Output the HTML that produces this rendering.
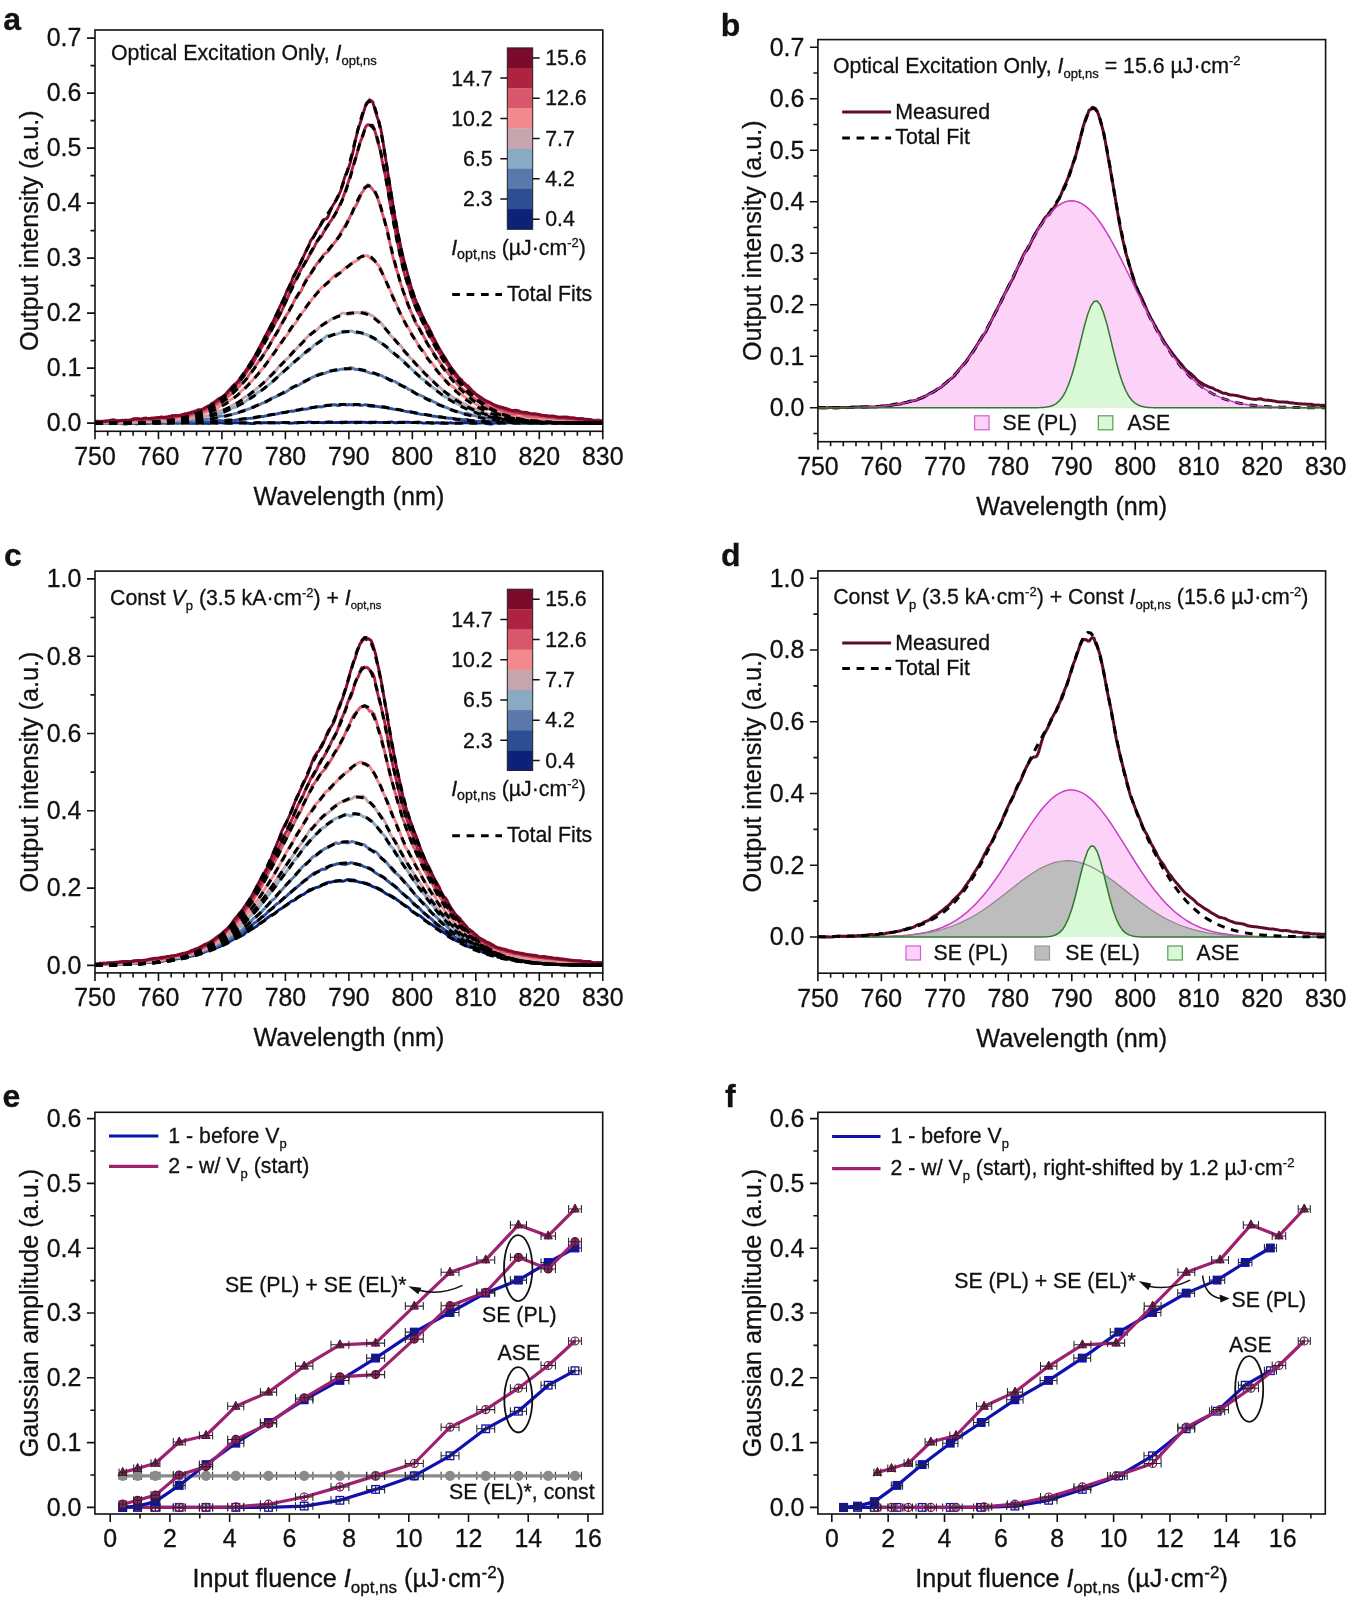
<!DOCTYPE html>
<html><head><meta charset="utf-8"><style>
html,body{margin:0;padding:0;background:#fff;overflow:hidden;}
svg{display:block;will-change:transform;}
text{font-family:"Liberation Sans",sans-serif;fill:#111;stroke:#111;stroke-width:0.3px;}
</style></head><body>
<svg width="1349" height="1599" viewBox="0 0 1349 1599">
<rect width="1349" height="1599" fill="#fff"/>
<defs>
<clipPath id="ca"><rect x="95.00" y="30.00" width="507.80" height="401.30"/></clipPath>
<clipPath id="cb"><rect x="817.90" y="39.60" width="507.70" height="402.10"/></clipPath>
<clipPath id="cc"><rect x="95.00" y="571.10" width="507.80" height="401.80"/></clipPath>
<clipPath id="cd"><rect x="817.90" y="570.90" width="507.70" height="402.30"/></clipPath>
<clipPath id="ce"><rect x="94.90" y="1112.30" width="507.80" height="401.70"/></clipPath>
<clipPath id="cf"><rect x="817.90" y="1112.30" width="507.40" height="401.70"/></clipPath>
</defs>
<text x="3.3" y="29.6" font-size="32" font-weight="bold">a</text>
<g clip-path="url(#ca)" fill="none" stroke-linejoin="round">
<path d="M95.0 423.0L96.6 423.1L98.2 423.3L99.8 423.4L101.3 423.5L102.9 423.3L104.5 423.0L106.1 422.9L107.7 423.1L109.3 423.2L110.9 423.1L112.5 422.9L114.0 423.2L115.6 423.2L117.2 423.1L118.8 423.2L120.4 423.3L122.0 423.8L123.6 423.8L125.1 424.0L126.7 423.7L128.3 423.7L129.9 423.3L131.5 423.2L133.1 423.0L134.7 423.6L136.3 423.7L137.8 423.7L139.4 423.2L141.0 423.4L142.6 423.4L144.2 423.6L145.8 423.5L147.4 423.2L148.9 423.2L150.5 423.0L152.1 423.1L153.7 423.0L155.3 423.1L156.9 423.2L158.5 423.1L160.1 423.3L161.6 423.3L163.2 423.0L164.8 423.1L166.4 423.0L168.0 423.2L169.6 423.0L171.2 422.8L172.8 422.7L174.3 422.8L175.9 423.1L177.5 423.2L179.1 423.0L180.7 422.9L182.3 423.0L183.9 422.8L185.4 422.7L187.0 422.8L188.6 422.9L190.2 423.2L191.8 423.1L193.4 423.3L195.0 423.4L196.6 423.4L198.1 423.0L199.7 422.7L201.3 422.9L202.9 423.2L204.5 423.3L206.1 423.4L207.7 423.4L209.2 423.5L210.8 422.9L212.4 422.7L214.0 422.7L215.6 423.0L217.2 423.2L218.8 422.8L220.4 422.9L221.9 422.9L223.5 423.1L225.1 423.0L226.7 423.0L228.3 423.2L229.9 423.2L231.5 423.3L233.0 422.8L234.6 422.7L236.2 422.6L237.8 422.7L239.4 422.9L241.0 422.7L242.6 422.8L244.2 422.6L245.7 423.0L247.3 423.0L248.9 423.4L250.5 423.5L252.1 423.6L253.7 423.5L255.3 423.0L256.8 422.6L258.4 422.5L260.0 422.7L261.6 423.0L263.2 422.8L264.8 422.7L266.4 422.7L268.0 422.7L269.5 422.6L271.1 422.7L272.7 422.8L274.3 422.9L275.9 422.9L277.5 422.8L279.1 423.0L280.6 422.6L282.2 422.6L283.8 422.4L285.4 422.7L287.0 422.7L288.6 423.1L290.2 423.2L291.8 423.1L293.3 423.1L294.9 422.7L296.5 423.1L298.1 422.5L299.7 422.8L301.3 422.4L302.9 422.5L304.5 422.6L306.0 422.5L307.6 422.2L309.2 421.9L310.8 422.2L312.4 422.5L314.0 422.7L315.6 422.4L317.1 422.5L318.7 422.3L320.3 422.6L321.9 422.6L323.5 422.8L325.1 422.5L326.7 422.4L328.3 421.9L329.8 422.2L331.4 422.3L333.0 422.5L334.6 422.6L336.2 422.5L337.8 422.5L339.4 422.4L340.9 422.7L342.5 422.7L344.1 422.4L345.7 422.2L347.3 422.3L348.9 422.5L350.5 422.1L352.1 422.2L353.6 422.3L355.2 422.7L356.8 422.8L358.4 422.6L360.0 422.5L361.6 422.1L363.2 422.4L364.7 422.3L366.3 422.5L367.9 422.4L369.5 422.7L371.1 422.8L372.7 422.5L374.3 422.4L375.9 422.1L377.4 422.4L379.0 422.4L380.6 422.6L382.2 422.4L383.8 422.4L385.4 422.4L387.0 422.5L388.5 422.2L390.1 422.1L391.7 422.0L393.3 422.4L394.9 422.8L396.5 422.7L398.1 422.4L399.7 422.2L401.2 422.3L402.8 422.3L404.4 422.2L406.0 422.1L407.6 422.3L409.2 422.2L410.8 422.6L412.4 422.4L413.9 422.6L415.5 422.2L417.1 422.1L418.7 421.9L420.3 422.3L421.9 422.9L423.5 423.1L425.0 423.1L426.6 422.8L428.2 422.8L429.8 422.9L431.4 423.3L433.0 423.4L434.6 423.1L436.2 422.8L437.7 422.8L439.3 423.0L440.9 423.3L442.5 423.3L444.1 423.3L445.7 423.4L447.3 423.3L448.8 423.1L450.4 422.7L452.0 423.0L453.6 423.1L455.2 423.4L456.8 423.4L458.4 423.2L460.0 423.2L461.5 423.0L463.1 423.0L464.7 422.5L466.3 422.8L467.9 422.7L469.5 423.1L471.1 422.8L472.6 423.3L474.2 423.3L475.8 423.2L477.4 423.0L479.0 422.9L480.6 423.1L482.2 422.8L483.8 422.9L485.3 423.2L486.9 423.6L488.5 423.9L490.1 424.1L491.7 424.1L493.3 423.5L494.9 422.9L496.4 423.0L498.0 423.4L499.6 423.2L501.2 423.0L502.8 422.8L504.4 423.0L506.0 423.0L507.6 422.9L509.1 422.8L510.7 422.8L512.3 423.1L513.9 423.1L515.5 423.3L517.1 422.9L518.7 423.2L520.2 423.1L521.8 423.3L523.4 423.3L525.0 423.0L526.6 422.7L528.2 422.6L529.8 422.7L531.4 422.9L532.9 423.3L534.5 423.4L536.1 423.5L537.7 423.0L539.3 423.3L540.9 423.3L542.5 423.4L544.1 422.9L545.6 422.8L547.2 422.8L548.8 422.7L550.4 422.9L552.0 423.0L553.6 423.6L555.2 423.2L556.7 423.0L558.3 422.5L559.9 422.6L561.5 422.8L563.1 422.9L564.7 423.1L566.3 423.1L567.9 423.2L569.4 422.8L571.0 422.7L572.6 422.7L574.2 423.1L575.8 423.3L577.4 423.0L579.0 422.8L580.5 422.7L582.1 423.0L583.7 423.3L585.3 423.4L586.9 423.1L588.5 423.0L590.1 423.0L591.7 423.2L593.2 423.2L594.8 423.4L596.4 423.4L598.0 423.6L599.6 423.1L601.2 423.2L602.8 423.0" stroke="#0b2278" stroke-width="2.9"/>
<path d="M95.0 423.2L96.6 423.4L98.2 423.2L99.8 423.1L101.3 422.7L102.9 422.7L104.5 422.5L106.1 422.6L107.7 422.5L109.3 422.5L110.9 422.8L112.5 423.4L114.0 423.3L115.6 422.9L117.2 422.5L118.8 422.7L120.4 423.1L122.0 423.3L123.6 423.1L125.1 423.0L126.7 422.8L128.3 422.8L129.9 422.8L131.5 422.9L133.1 422.9L134.7 422.9L136.3 422.7L137.8 422.4L139.4 422.3L141.0 422.4L142.6 423.0L144.2 423.0L145.8 423.4L147.4 423.3L148.9 423.3L150.5 422.8L152.1 422.5L153.7 423.0L155.3 423.2L156.9 423.3L158.5 422.8L160.1 422.3L161.6 422.1L163.2 422.4L164.8 423.0L166.4 423.0L168.0 422.9L169.6 422.9L171.2 422.8L172.8 423.0L174.3 422.6L175.9 422.4L177.5 421.9L179.1 422.2L180.7 422.3L182.3 422.5L183.9 422.4L185.4 422.6L187.0 422.7L188.6 422.9L190.2 422.7L191.8 422.4L193.4 422.1L195.0 422.0L196.6 422.2L198.1 422.4L199.7 422.5L201.3 422.0L202.9 421.9L204.5 421.6L206.1 421.6L207.7 421.7L209.2 422.0L210.8 421.8L212.4 421.4L214.0 421.5L215.6 421.3L217.2 421.2L218.8 420.5L220.4 420.7L221.9 420.8L223.5 421.1L225.1 420.4L226.7 420.3L228.3 419.7L229.9 420.1L231.5 419.9L233.0 420.4L234.6 420.2L236.2 419.9L237.8 419.6L239.4 419.2L241.0 419.1L242.6 418.9L244.2 419.0L245.7 419.0L247.3 418.6L248.9 418.4L250.5 418.3L252.1 418.1L253.7 418.0L255.3 417.8L256.8 417.6L258.4 417.0L260.0 416.8L261.6 416.5L263.2 416.6L264.8 416.2L266.4 415.8L268.0 415.5L269.5 414.7L271.1 414.8L272.7 414.3L274.3 414.4L275.9 414.1L277.5 413.8L279.1 413.5L280.6 412.9L282.2 412.7L283.8 412.6L285.4 412.5L287.0 412.2L288.6 411.4L290.2 411.3L291.8 411.0L293.3 411.3L294.9 410.7L296.5 410.6L298.1 410.4L299.7 410.2L301.3 409.5L302.9 409.1L304.5 409.1L306.0 409.2L307.6 408.9L309.2 408.3L310.8 408.1L312.4 407.7L314.0 407.4L315.6 407.2L317.1 406.7L318.7 406.8L320.3 406.7L321.9 407.0L323.5 406.2L325.1 405.8L326.7 405.2L328.3 405.5L329.8 405.2L331.4 405.1L333.0 404.6L334.6 404.7L336.2 405.0L337.8 405.5L339.4 405.5L340.9 404.9L342.5 404.4L344.1 404.3L345.7 404.8L347.3 405.0L348.9 404.5L350.5 404.8L352.1 404.6L353.6 405.2L355.2 404.4L356.8 404.8L358.4 404.7L360.0 405.3L361.6 405.4L363.2 405.1L364.7 404.8L366.3 404.8L367.9 405.4L369.5 406.1L371.1 406.3L372.7 406.3L374.3 406.1L375.9 406.2L377.4 406.6L379.0 406.8L380.6 407.0L382.2 406.7L383.8 406.6L385.4 406.8L387.0 407.5L388.5 408.2L390.1 408.5L391.7 408.8L393.3 409.1L394.9 409.4L396.5 409.4L398.1 409.7L399.7 409.7L401.2 410.2L402.8 410.6L404.4 411.1L406.0 411.4L407.6 411.7L409.2 411.7L410.8 412.0L412.4 412.4L413.9 412.8L415.5 413.3L417.1 413.5L418.7 413.8L420.3 414.2L421.9 414.4L423.5 414.6L425.0 414.5L426.6 414.8L428.2 415.2L429.8 415.6L431.4 415.9L433.0 416.2L434.6 416.2L436.2 416.6L437.7 416.7L439.3 417.0L440.9 417.0L442.5 417.3L444.1 417.5L445.7 418.0L447.3 418.0L448.8 418.3L450.4 418.1L452.0 418.3L453.6 418.7L455.2 419.0L456.8 419.1L458.4 419.1L460.0 419.1L461.5 419.7L463.1 419.8L464.7 419.8L466.3 419.5L467.9 419.7L469.5 420.3L471.1 420.4L472.6 420.6L474.2 420.9L475.8 421.1L477.4 421.5L479.0 421.4L480.6 421.7L482.2 421.2L483.8 421.1L485.3 421.1L486.9 421.1L488.5 420.8L490.1 420.9L491.7 421.3L493.3 421.9L494.9 422.1L496.4 422.0L498.0 421.8L499.6 421.7L501.2 421.6L502.8 421.9L504.4 422.0L506.0 422.1L507.6 421.9L509.1 421.7L510.7 421.8L512.3 422.0L513.9 422.1L515.5 422.4L517.1 422.7L518.7 422.7L520.2 422.5L521.8 422.2L523.4 422.6L525.0 422.7L526.6 422.9L528.2 422.8L529.8 423.1L531.4 423.1L532.9 422.8L534.5 422.3L536.1 422.4L537.7 422.6L539.3 422.5L540.9 422.9L542.5 423.0L544.1 423.0L545.6 422.4L547.2 422.1L548.8 422.0L550.4 422.1L552.0 422.3L553.6 422.4L555.2 422.6L556.7 422.7L558.3 422.7L559.9 422.2L561.5 422.2L563.1 422.4L564.7 422.8L566.3 422.5L567.9 422.5L569.4 422.3L571.0 422.7L572.6 422.7L574.2 423.1L575.8 422.8L577.4 422.5L579.0 422.8L580.5 423.1L582.1 423.2L583.7 423.1L585.3 423.2L586.9 423.1L588.5 422.9L590.1 422.5L591.7 422.8L593.2 422.7L594.8 422.9L596.4 422.6L598.0 423.0L599.6 423.1L601.2 423.2L602.8 423.2" stroke="#2e4e94" stroke-width="2.9"/>
<path d="M95.0 422.8L96.6 422.5L98.2 422.5L99.8 422.7L101.3 423.0L102.9 422.9L104.5 422.8L106.1 423.1L107.7 423.5L109.3 423.2L110.9 423.0L112.5 422.7L114.0 422.8L115.6 422.5L117.2 422.5L118.8 422.5L120.4 422.7L122.0 422.7L123.6 423.0L125.1 422.6L126.7 422.5L128.3 422.4L129.9 422.7L131.5 422.7L133.1 422.4L134.7 422.6L136.3 422.8L137.8 422.9L139.4 422.2L141.0 421.8L142.6 421.7L144.2 422.0L145.8 421.8L147.4 421.8L148.9 421.9L150.5 422.1L152.1 421.9L153.7 421.7L155.3 422.0L156.9 421.7L158.5 421.5L160.1 421.2L161.6 421.4L163.2 422.1L164.8 422.0L166.4 422.1L168.0 421.6L169.6 421.6L171.2 421.6L172.8 421.9L174.3 421.9L175.9 421.9L177.5 421.6L179.1 421.7L180.7 421.6L182.3 421.8L183.9 421.4L185.4 421.2L187.0 420.5L188.6 420.2L190.2 420.2L191.8 420.6L193.4 421.0L195.0 421.1L196.6 420.7L198.1 420.4L199.7 420.4L201.3 420.1L202.9 420.2L204.5 419.6L206.1 419.5L207.7 419.1L209.2 418.9L210.8 418.8L212.4 418.6L214.0 418.6L215.6 418.3L217.2 417.5L218.8 416.5L220.4 416.0L221.9 415.9L223.5 416.1L225.1 415.7L226.7 415.5L228.3 415.0L229.9 414.9L231.5 414.5L233.0 414.1L234.6 413.6L236.2 413.4L237.8 412.9L239.4 412.0L241.0 411.3L242.6 410.7L244.2 410.5L245.7 409.8L247.3 409.4L248.9 409.0L250.5 408.3L252.1 407.4L253.7 406.7L255.3 405.9L256.8 405.4L258.4 404.7L260.0 404.5L261.6 403.3L263.2 403.0L264.8 402.3L266.4 402.0L268.0 400.7L269.5 399.6L271.1 398.3L272.7 398.0L274.3 397.2L275.9 396.8L277.5 395.7L279.1 394.9L280.6 394.3L282.2 393.7L283.8 393.1L285.4 392.4L287.0 391.2L288.6 390.2L290.2 388.9L291.8 387.4L293.3 386.7L294.9 386.3L296.5 386.1L298.1 385.5L299.7 384.5L301.3 383.4L302.9 382.5L304.5 381.9L306.0 381.1L307.6 380.2L309.2 378.8L310.8 378.2L312.4 377.3L314.0 376.7L315.6 375.7L317.1 375.1L318.7 374.3L320.3 374.0L321.9 373.9L323.5 373.5L325.1 373.2L326.7 372.2L328.3 372.1L329.8 371.1L331.4 370.7L333.0 370.3L334.6 370.9L336.2 370.7L337.8 370.1L339.4 369.6L340.9 369.3L342.5 369.3L344.1 368.8L345.7 369.0L347.3 368.7L348.9 368.6L350.5 367.6L352.1 368.0L353.6 368.5L355.2 369.6L356.8 369.3L358.4 369.7L360.0 369.8L361.6 370.3L363.2 370.6L364.7 371.0L366.3 371.5L367.9 372.2L369.5 372.8L371.1 373.3L372.7 373.1L374.3 373.3L375.9 374.2L377.4 375.0L379.0 375.3L380.6 375.3L382.2 375.8L383.8 377.0L385.4 377.7L387.0 378.5L388.5 379.3L390.1 380.5L391.7 380.7L393.3 381.1L394.9 381.4L396.5 382.7L398.1 383.3L399.7 384.6L401.2 385.4L402.8 385.8L404.4 386.3L406.0 387.2L407.6 388.7L409.2 389.7L410.8 390.1L412.4 391.1L413.9 392.5L415.5 393.7L417.1 394.4L418.7 394.8L420.3 395.2L421.9 396.0L423.5 396.6L425.0 398.0L426.6 398.7L428.2 399.2L429.8 399.5L431.4 400.4L433.0 401.6L434.6 402.1L436.2 403.1L437.7 403.9L439.3 404.9L440.9 405.2L442.5 405.9L444.1 406.6L445.7 407.4L447.3 407.9L448.8 408.6L450.4 409.4L452.0 410.0L453.6 410.3L455.2 410.8L456.8 411.4L458.4 411.9L460.0 412.4L461.5 412.8L463.1 413.6L464.7 413.5L466.3 413.5L467.9 413.3L469.5 414.0L471.1 414.6L472.6 415.4L474.2 415.6L475.8 415.8L477.4 416.4L479.0 416.5L480.6 417.1L482.2 416.8L483.8 417.3L485.3 417.6L486.9 418.1L488.5 418.2L490.1 418.3L491.7 418.4L493.3 418.8L494.9 419.4L496.4 419.5L498.0 419.5L499.6 419.2L501.2 419.5L502.8 419.6L504.4 419.8L506.0 420.1L507.6 420.4L509.1 420.2L510.7 420.4L512.3 420.3L513.9 420.7L515.5 420.7L517.1 420.8L518.7 420.8L520.2 420.9L521.8 421.3L523.4 421.1L525.0 420.7L526.6 420.8L528.2 421.0L529.8 421.1L531.4 421.2L532.9 421.3L534.5 421.5L536.1 421.5L537.7 421.7L539.3 421.7L540.9 421.6L542.5 421.7L544.1 421.8L545.6 421.7L547.2 421.6L548.8 421.4L550.4 421.4L552.0 421.3L553.6 421.1L555.2 421.5L556.7 421.5L558.3 422.0L559.9 421.6L561.5 421.4L563.1 421.8L564.7 422.3L566.3 422.5L567.9 422.1L569.4 421.8L571.0 421.9L572.6 422.0L574.2 422.1L575.8 422.1L577.4 422.0L579.0 422.6L580.5 422.5L582.1 422.9L583.7 422.3L585.3 422.5L586.9 422.5L588.5 422.6L590.1 422.8L591.7 422.8L593.2 423.2L594.8 423.1L596.4 422.8L598.0 422.4L599.6 422.4L601.2 422.3L602.8 422.5" stroke="#5b78ab" stroke-width="2.9"/>
<path d="M95.0 422.8L96.6 422.7L98.2 422.6L99.8 422.3L101.3 422.2L102.9 421.8L104.5 422.0L106.1 422.1L107.7 422.5L109.3 422.6L110.9 422.4L112.5 422.3L114.0 422.4L115.6 422.7L117.2 422.7L118.8 423.1L120.4 422.6L122.0 422.7L123.6 422.4L125.1 422.5L126.7 422.3L128.3 422.3L129.9 422.6L131.5 422.8L133.1 422.9L134.7 422.7L136.3 422.2L137.8 422.0L139.4 421.6L141.0 422.1L142.6 421.8L144.2 422.0L145.8 421.7L147.4 421.6L148.9 421.2L150.5 421.1L152.1 421.1L153.7 421.6L155.3 421.5L156.9 421.5L158.5 421.1L160.1 421.2L161.6 420.7L163.2 421.2L164.8 421.2L166.4 421.2L168.0 420.9L169.6 420.9L171.2 421.0L172.8 421.1L174.3 420.8L175.9 420.2L177.5 419.7L179.1 419.8L180.7 420.3L182.3 420.4L183.9 419.9L185.4 419.7L187.0 419.6L188.6 419.5L190.2 419.0L191.8 418.7L193.4 418.9L195.0 419.1L196.6 419.0L198.1 418.9L199.7 418.2L201.3 418.0L202.9 417.1L204.5 416.6L206.1 415.9L207.7 415.9L209.2 415.7L210.8 415.4L212.4 414.9L214.0 414.8L215.6 414.6L217.2 414.3L218.8 413.4L220.4 413.3L221.9 412.7L223.5 412.5L225.1 411.5L226.7 410.6L228.3 409.9L229.9 409.2L231.5 408.3L233.0 408.1L234.6 407.3L236.2 407.0L237.8 405.7L239.4 404.8L241.0 404.0L242.6 403.3L244.2 402.3L245.7 401.0L247.3 400.1L248.9 398.8L250.5 397.3L252.1 396.4L253.7 395.8L255.3 394.6L256.8 393.0L258.4 391.8L260.0 391.3L261.6 390.4L263.2 389.3L264.8 388.1L266.4 386.5L268.0 385.3L269.5 384.0L271.1 383.1L272.7 381.7L274.3 380.5L275.9 378.8L277.5 377.1L279.1 375.4L280.6 373.8L282.2 372.5L283.8 371.2L285.4 369.9L287.0 368.7L288.6 367.0L290.2 365.9L291.8 363.9L293.3 362.7L294.9 361.2L296.5 360.4L298.1 359.2L299.7 357.5L301.3 356.2L302.9 354.3L304.5 353.2L306.0 352.4L307.6 351.7L309.2 350.9L310.8 348.9L312.4 347.1L314.0 345.1L315.6 344.4L317.1 343.9L318.7 342.4L320.3 340.8L321.9 339.6L323.5 338.9L325.1 337.3L326.7 336.0L328.3 335.5L329.8 335.5L331.4 335.0L333.0 334.7L334.6 334.6L336.2 334.3L337.8 333.9L339.4 333.1L340.9 332.8L342.5 331.2L344.1 331.3L345.7 331.2L347.3 331.9L348.9 331.4L350.5 330.9L352.1 331.1L353.6 331.6L355.2 332.8L356.8 333.1L358.4 332.9L360.0 332.6L361.6 333.0L363.2 333.8L364.7 334.3L366.3 334.4L367.9 335.1L369.5 335.9L371.1 337.5L372.7 338.5L374.3 338.8L375.9 339.8L377.4 340.5L379.0 342.1L380.6 342.6L382.2 343.9L383.8 345.2L385.4 346.3L387.0 347.3L388.5 349.2L390.1 350.6L391.7 352.2L393.3 353.1L394.9 354.4L396.5 355.3L398.1 356.3L399.7 357.9L401.2 359.3L402.8 360.6L404.4 361.6L406.0 362.9L407.6 364.8L409.2 366.6L410.8 368.2L412.4 370.0L413.9 371.4L415.5 373.2L417.1 374.3L418.7 376.3L420.3 377.7L421.9 379.0L423.5 379.7L425.0 380.5L426.6 381.9L428.2 383.5L429.8 385.3L431.4 386.4L433.0 387.7L434.6 388.6L436.2 389.4L437.7 390.6L439.3 392.2L440.9 394.0L442.5 395.5L444.1 396.5L445.7 397.0L447.3 397.6L448.8 398.7L450.4 399.8L452.0 400.5L453.6 401.2L455.2 402.4L456.8 403.6L458.4 404.3L460.0 404.8L461.5 405.2L463.1 405.8L464.7 406.4L466.3 407.0L467.9 407.8L469.5 409.0L471.1 410.0L472.6 410.6L474.2 411.0L475.8 411.3L477.4 411.9L479.0 412.5L480.6 412.9L482.2 413.1L483.8 413.3L485.3 413.9L486.9 414.2L488.5 414.5L490.1 415.5L491.7 416.2L493.3 416.7L494.9 416.7L496.4 416.8L498.0 416.7L499.6 416.9L501.2 417.4L502.8 417.5L504.4 417.7L506.0 417.9L507.6 418.4L509.1 418.4L510.7 418.5L512.3 418.6L513.9 418.9L515.5 419.1L517.1 419.3L518.7 419.2L520.2 419.3L521.8 419.4L523.4 419.7L525.0 419.1L526.6 419.4L528.2 419.2L529.8 419.9L531.4 419.8L532.9 420.0L534.5 420.0L536.1 419.8L537.7 419.9L539.3 420.3L540.9 420.7L542.5 420.7L544.1 420.6L545.6 420.3L547.2 420.3L548.8 420.3L550.4 420.4L552.0 420.5L553.6 421.0L555.2 421.5L556.7 421.9L558.3 421.4L559.9 421.4L561.5 420.9L563.1 421.2L564.7 420.8L566.3 420.8L567.9 421.0L569.4 421.4L571.0 421.6L572.6 421.6L574.2 421.8L575.8 421.8L577.4 421.6L579.0 421.9L580.5 421.9L582.1 422.4L583.7 422.1L585.3 422.0L586.9 421.9L588.5 421.8L590.1 422.3L591.7 422.1L593.2 422.4L594.8 422.0L596.4 422.3L598.0 422.7L599.6 422.9L601.2 423.0L602.8 422.2" stroke="#88aac2" stroke-width="2.9"/>
<path d="M95.0 422.3L96.6 422.4L98.2 422.4L99.8 422.7L101.3 422.5L102.9 422.7L104.5 422.3L106.1 422.1L107.7 422.1L109.3 422.3L110.9 422.6L112.5 422.6L114.0 422.6L115.6 422.6L117.2 422.8L118.8 422.7L120.4 422.7L122.0 422.7L123.6 422.9L125.1 422.5L126.7 422.1L128.3 421.4L129.9 421.7L131.5 421.8L133.1 422.0L134.7 421.7L136.3 421.6L137.8 421.4L139.4 421.4L141.0 421.5L142.6 422.0L144.2 421.9L145.8 421.5L147.4 421.5L148.9 421.7L150.5 421.6L152.1 421.2L153.7 421.1L155.3 421.0L156.9 420.9L158.5 421.1L160.1 421.2L161.6 421.1L163.2 420.8L164.8 421.1L166.4 421.1L168.0 420.8L169.6 420.0L171.2 420.3L172.8 419.8L174.3 420.2L175.9 419.5L177.5 419.6L179.1 419.1L180.7 419.1L182.3 419.4L183.9 419.3L185.4 419.3L187.0 419.4L188.6 418.7L190.2 418.2L191.8 417.2L193.4 417.7L195.0 417.3L196.6 417.0L198.1 416.3L199.7 416.2L201.3 416.5L202.9 416.5L204.5 416.5L206.1 416.2L207.7 415.8L209.2 415.1L210.8 414.4L212.4 413.9L214.0 412.9L215.6 412.0L217.2 411.5L218.8 411.0L220.4 410.9L221.9 410.3L223.5 409.7L225.1 409.1L226.7 408.4L228.3 408.1L229.9 407.0L231.5 405.8L233.0 404.9L234.6 404.0L236.2 403.6L237.8 402.8L239.4 402.1L241.0 400.6L242.6 398.8L244.2 397.3L245.7 396.7L247.3 395.9L248.9 395.0L250.5 393.4L252.1 392.2L253.7 390.8L255.3 389.6L256.8 388.5L258.4 387.3L260.0 386.5L261.6 385.0L263.2 383.9L264.8 382.0L266.4 380.6L268.0 378.7L269.5 377.0L271.1 375.5L272.7 374.2L274.3 373.0L275.9 370.7L277.5 368.4L279.1 366.2L280.6 364.8L282.2 363.2L283.8 362.2L285.4 360.0L287.0 358.9L288.6 357.6L290.2 355.6L291.8 353.2L293.3 350.9L294.9 350.0L296.5 348.9L298.1 346.9L299.7 345.8L301.3 344.4L302.9 342.6L304.5 340.5L306.0 338.2L307.6 336.8L309.2 334.6L310.8 333.8L312.4 332.3L314.0 332.5L315.6 331.3L317.1 329.6L318.7 328.0L320.3 326.1L321.9 325.5L323.5 324.4L325.1 323.7L326.7 322.9L328.3 321.7L329.8 320.4L331.4 319.1L333.0 318.3L334.6 318.2L336.2 317.7L337.8 316.8L339.4 315.5L340.9 314.0L342.5 313.1L344.1 313.1L345.7 313.8L347.3 314.1L348.9 314.1L350.5 314.2L352.1 313.8L353.6 313.4L355.2 312.6L356.8 312.5L358.4 312.5L360.0 313.4L361.6 312.7L363.2 312.7L364.7 311.9L366.3 312.8L367.9 313.0L369.5 314.5L371.1 315.4L372.7 315.9L374.3 317.4L375.9 318.4L377.4 320.1L379.0 320.9L380.6 322.6L382.2 324.3L383.8 326.4L385.4 328.3L387.0 330.9L388.5 332.7L390.1 334.9L391.7 336.6L393.3 338.1L394.9 339.7L396.5 342.0L398.1 343.3L399.7 344.9L401.2 346.1L402.8 348.7L404.4 351.0L406.0 352.9L407.6 354.4L409.2 356.7L410.8 358.4L412.4 359.4L413.9 361.2L415.5 362.8L417.1 365.3L418.7 366.5L420.3 368.0L421.9 370.1L423.5 371.7L425.0 373.3L426.6 374.6L428.2 376.3L429.8 378.2L431.4 379.8L433.0 380.7L434.6 382.5L436.2 383.5L437.7 385.7L439.3 386.6L440.9 388.2L442.5 389.9L444.1 391.3L445.7 392.8L447.3 393.5L448.8 394.3L450.4 395.4L452.0 396.7L453.6 397.8L455.2 398.6L456.8 399.0L458.4 400.2L460.0 401.4L461.5 402.7L463.1 403.3L464.7 403.8L466.3 404.6L467.9 405.6L469.5 406.6L471.1 407.5L472.6 407.7L474.2 408.4L475.8 409.1L477.4 410.3L479.0 410.7L480.6 410.9L482.2 411.3L483.8 412.1L485.3 412.7L486.9 413.5L488.5 414.1L490.1 414.3L491.7 414.5L493.3 414.5L494.9 414.8L496.4 414.9L498.0 415.3L499.6 415.4L501.2 415.7L502.8 416.0L504.4 416.5L506.0 416.8L507.6 417.1L509.1 417.5L510.7 417.8L512.3 418.2L513.9 418.4L515.5 418.6L517.1 418.5L518.7 418.9L520.2 419.1L521.8 419.2L523.4 418.9L525.0 419.2L526.6 419.2L528.2 419.6L529.8 419.5L531.4 419.5L532.9 419.5L534.5 419.6L536.1 419.8L537.7 419.8L539.3 419.9L540.9 420.1L542.5 419.9L544.1 420.3L545.6 420.6L547.2 421.1L548.8 420.9L550.4 421.0L552.0 421.1L553.6 420.9L555.2 420.9L556.7 420.8L558.3 420.9L559.9 420.9L561.5 421.0L563.1 420.8L564.7 420.7L566.3 420.9L567.9 421.3L569.4 421.5L571.0 421.4L572.6 421.3L574.2 421.4L575.8 421.5L577.4 421.5L579.0 421.5L580.5 421.5L582.1 421.9L583.7 422.1L585.3 422.2L586.9 421.7L588.5 421.7L590.1 421.7L591.7 422.3L593.2 422.3L594.8 422.1L596.4 422.0L598.0 421.6L599.6 421.8L601.2 421.6L602.8 421.9" stroke="#c7a5ae" stroke-width="2.9"/>
<path d="M95.0 422.5L96.6 422.6L98.2 422.6L99.8 422.3L101.3 422.2L102.9 422.3L104.5 422.4L106.1 422.3L107.7 421.9L109.3 421.9L110.9 421.6L112.5 421.6L114.0 421.4L115.6 421.5L117.2 421.9L118.8 422.1L120.4 422.4L122.0 422.1L123.6 421.8L125.1 421.6L126.7 421.5L128.3 421.8L129.9 421.5L131.5 421.7L133.1 421.4L134.7 421.5L136.3 421.4L137.8 421.5L139.4 421.5L141.0 421.2L142.6 420.8L144.2 420.5L145.8 420.6L147.4 420.7L148.9 421.0L150.5 420.6L152.1 420.8L153.7 420.3L155.3 420.4L156.9 420.1L158.5 420.1L160.1 419.8L161.6 419.5L163.2 419.2L164.8 419.3L166.4 419.0L168.0 418.8L169.6 418.7L171.2 418.6L172.8 418.6L174.3 418.4L175.9 418.7L177.5 418.6L179.1 418.3L180.7 418.2L182.3 417.8L183.9 417.7L185.4 417.1L187.0 417.4L188.6 417.2L190.2 416.9L191.8 416.3L193.4 415.9L195.0 416.1L196.6 415.5L198.1 415.2L199.7 414.2L201.3 414.2L202.9 413.5L204.5 413.2L206.1 412.2L207.7 411.9L209.2 411.4L210.8 410.5L212.4 409.9L214.0 409.2L215.6 409.0L217.2 408.3L218.8 407.1L220.4 405.8L221.9 404.9L223.5 404.6L225.1 403.8L226.7 402.4L228.3 400.8L229.9 399.8L231.5 399.1L233.0 398.2L234.6 397.6L236.2 396.4L237.8 394.9L239.4 393.4L241.0 391.1L242.6 389.9L244.2 388.4L245.7 387.2L247.3 385.2L248.9 383.3L250.5 382.2L252.1 380.9L253.7 378.9L255.3 376.9L256.8 375.3L258.4 373.6L260.0 371.5L261.6 369.6L263.2 368.0L264.8 366.3L266.4 363.8L268.0 361.5L269.5 358.8L271.1 356.5L272.7 354.8L274.3 352.8L275.9 350.5L277.5 347.6L279.1 345.1L280.6 343.3L282.2 341.4L283.8 339.1L285.4 337.0L287.0 335.1L288.6 332.7L290.2 330.2L291.8 327.2L293.3 325.8L294.9 323.7L296.5 321.8L298.1 319.1L299.7 316.1L301.3 314.4L302.9 311.7L304.5 310.2L306.0 307.5L307.6 305.4L309.2 302.9L310.8 301.1L312.4 298.6L314.0 297.1L315.6 294.4L317.1 293.3L318.7 290.6L320.3 289.2L321.9 287.2L323.5 286.6L325.1 284.3L326.7 283.7L328.3 282.1L329.8 280.4L331.4 278.6L333.0 277.1L334.6 275.6L336.2 274.4L337.8 273.6L339.4 273.1L340.9 272.7L342.5 270.5L344.1 269.0L345.7 267.4L347.3 267.0L348.9 266.2L350.5 264.6L352.1 263.4L353.6 261.9L355.2 261.7L356.8 260.3L358.4 259.7L360.0 257.8L361.6 256.6L363.2 256.5L364.7 255.7L366.3 255.9L367.9 255.8L369.5 257.4L371.1 258.9L372.7 259.6L374.3 261.0L375.9 262.4L377.4 264.3L379.0 265.9L380.6 268.1L382.2 271.9L383.8 276.2L385.4 280.0L387.0 283.3L388.5 285.9L390.1 290.1L391.7 293.4L393.3 297.2L394.9 300.5L396.5 304.3L398.1 308.0L399.7 311.5L401.2 314.9L402.8 317.8L404.4 321.2L406.0 323.5L407.6 326.8L409.2 329.0L410.8 332.4L412.4 335.1L413.9 337.3L415.5 339.9L417.1 342.7L418.7 346.0L420.3 348.3L421.9 349.5L423.5 351.5L425.0 353.3L426.6 356.6L428.2 358.7L429.8 360.9L431.4 362.1L433.0 364.5L434.6 366.5L436.2 368.9L437.7 371.0L439.3 373.0L440.9 375.0L442.5 377.2L444.1 378.8L445.7 380.3L447.3 381.4L448.8 383.6L450.4 384.9L452.0 386.2L453.6 387.1L455.2 388.6L456.8 390.2L458.4 391.6L460.0 393.3L461.5 394.4L463.1 395.9L464.7 397.0L466.3 397.8L467.9 398.8L469.5 399.9L471.1 401.2L472.6 402.1L474.2 403.2L475.8 404.1L477.4 405.0L479.0 405.7L480.6 406.4L482.2 407.3L483.8 407.4L485.3 407.8L486.9 408.2L488.5 409.2L490.1 409.6L491.7 410.1L493.3 410.7L494.9 411.5L496.4 412.0L498.0 412.1L499.6 412.6L501.2 412.6L502.8 413.4L504.4 413.6L506.0 414.6L507.6 414.4L509.1 414.9L510.7 414.9L512.3 415.4L513.9 415.3L515.5 415.8L517.1 416.2L518.7 416.9L520.2 416.9L521.8 417.0L523.4 417.0L525.0 417.3L526.6 417.6L528.2 417.8L529.8 417.7L531.4 417.5L532.9 417.9L534.5 418.1L536.1 418.6L537.7 418.3L539.3 418.6L540.9 418.6L542.5 419.0L544.1 418.8L545.6 418.9L547.2 418.8L548.8 419.0L550.4 419.2L552.0 419.5L553.6 419.6L555.2 419.6L556.7 419.4L558.3 419.5L559.9 419.4L561.5 419.6L563.1 420.1L564.7 420.1L566.3 419.7L567.9 419.8L569.4 420.4L571.0 420.9L572.6 420.9L574.2 421.1L575.8 421.0L577.4 421.3L579.0 421.3L580.5 421.2L582.1 421.2L583.7 421.0L585.3 421.2L586.9 421.0L588.5 421.1L590.1 421.3L591.7 421.6L593.2 421.3L594.8 421.3L596.4 421.4L598.0 421.8L599.6 421.8L601.2 421.6L602.8 421.3" stroke="#f28a8d" stroke-width="2.9"/>
<path d="M95.0 422.4L96.6 422.4L98.2 422.1L99.8 421.9L101.3 421.9L102.9 421.8L104.5 421.8L106.1 421.7L107.7 422.0L109.3 422.0L110.9 421.7L112.5 421.7L114.0 421.5L115.6 421.4L117.2 421.1L118.8 420.9L120.4 421.2L122.0 420.8L123.6 420.6L125.1 420.2L126.7 420.7L128.3 421.0L129.9 420.8L131.5 420.1L133.1 419.8L134.7 419.7L136.3 420.0L137.8 420.0L139.4 420.2L141.0 419.9L142.6 420.0L144.2 419.8L145.8 419.5L147.4 419.4L148.9 419.7L150.5 419.8L152.1 419.6L153.7 419.7L155.3 419.5L156.9 419.2L158.5 418.8L160.1 418.4L161.6 418.3L163.2 418.2L164.8 418.5L166.4 418.6L168.0 418.4L169.6 418.2L171.2 418.0L172.8 417.7L174.3 417.3L175.9 416.8L177.5 416.4L179.1 416.4L180.7 416.2L182.3 415.8L183.9 415.7L185.4 415.1L187.0 415.3L188.6 415.0L190.2 415.3L191.8 414.8L193.4 414.2L195.0 413.3L196.6 412.9L198.1 412.5L199.7 412.4L201.3 411.8L202.9 411.5L204.5 410.8L206.1 410.4L207.7 409.5L209.2 408.8L210.8 407.8L212.4 407.3L214.0 406.8L215.6 405.3L217.2 404.5L218.8 402.9L220.4 402.2L221.9 400.9L223.5 400.4L225.1 399.2L226.7 397.5L228.3 396.2L229.9 395.2L231.5 394.0L233.0 392.3L234.6 390.3L236.2 389.1L237.8 387.5L239.4 386.7L241.0 384.3L242.6 382.9L244.2 381.4L245.7 380.1L247.3 378.0L248.9 374.9L250.5 373.0L252.1 370.8L253.7 369.1L255.3 366.3L256.8 364.1L258.4 361.7L260.0 359.6L261.6 357.3L263.2 355.2L264.8 352.8L266.4 350.5L268.0 347.6L269.5 345.4L271.1 342.1L272.7 339.5L274.3 336.3L275.9 334.2L277.5 331.9L279.1 328.9L280.6 325.5L282.2 322.5L283.8 319.4L285.4 317.0L287.0 314.2L288.6 312.4L290.2 309.0L291.8 306.1L293.3 302.8L294.9 299.8L296.5 296.7L298.1 295.0L299.7 292.7L301.3 290.9L302.9 286.5L304.5 282.7L306.0 279.6L307.6 277.5L309.2 276.3L310.8 273.4L312.4 270.7L314.0 267.6L315.6 265.9L317.1 263.2L318.7 262.2L320.3 259.4L321.9 257.6L323.5 254.7L325.1 253.4L326.7 252.5L328.3 251.2L329.8 248.9L331.4 246.0L333.0 244.6L334.6 242.4L336.2 240.7L337.8 237.6L339.4 235.4L340.9 232.5L342.5 230.0L344.1 227.1L345.7 224.8L347.3 221.0L348.9 219.4L350.5 215.6L352.1 213.4L353.6 208.8L355.2 206.6L356.8 204.1L358.4 200.7L360.0 197.3L361.6 192.9L363.2 191.1L364.7 187.7L366.3 186.4L367.9 184.8L369.5 186.1L371.1 187.5L372.7 189.5L374.3 191.7L375.9 194.1L377.4 197.2L379.0 202.2L380.6 207.3L382.2 213.2L383.8 218.2L385.4 223.2L387.0 228.8L388.5 235.6L390.1 244.1L391.7 251.7L393.3 258.8L394.9 263.8L396.5 269.5L398.1 274.4L399.7 280.5L401.2 285.3L402.8 289.6L404.4 294.3L406.0 298.9L407.6 304.0L409.2 307.2L410.8 311.3L412.4 315.0L413.9 319.3L415.5 322.7L417.1 325.2L418.7 326.8L420.3 329.6L421.9 332.4L423.5 336.0L425.0 338.9L426.6 342.0L428.2 344.8L429.8 347.3L431.4 349.1L433.0 352.2L434.6 354.3L436.2 357.2L437.7 359.1L439.3 361.5L440.9 363.6L442.5 365.6L444.1 367.6L445.7 369.8L447.3 372.4L448.8 374.1L450.4 375.6L452.0 376.6L453.6 378.6L455.2 381.3L456.8 383.3L458.4 385.4L460.0 386.7L461.5 388.0L463.1 389.5L464.7 390.8L466.3 392.8L467.9 393.9L469.5 395.1L471.1 396.0L472.6 397.3L474.2 398.0L475.8 399.2L477.4 400.3L479.0 401.8L480.6 402.2L482.2 402.4L483.8 403.0L485.3 404.2L486.9 405.5L488.5 406.0L490.1 406.7L491.7 407.0L493.3 407.5L494.9 407.9L496.4 408.6L498.0 409.3L499.6 409.4L501.2 410.3L502.8 410.6L504.4 411.4L506.0 411.7L507.6 412.3L509.1 412.6L510.7 413.0L512.3 413.6L513.9 414.1L515.5 413.9L517.1 413.5L518.7 413.4L520.2 413.7L521.8 414.4L523.4 414.8L525.0 415.2L526.6 415.5L528.2 415.8L529.8 416.0L531.4 416.1L532.9 416.3L534.5 416.4L536.1 416.5L537.7 416.3L539.3 416.5L540.9 416.7L542.5 417.0L544.1 417.2L545.6 417.4L547.2 417.6L548.8 417.6L550.4 417.5L552.0 417.3L553.6 417.9L555.2 418.2L556.7 418.6L558.3 418.4L559.9 418.6L561.5 418.7L563.1 418.7L564.7 418.7L566.3 419.0L567.9 419.0L569.4 419.0L571.0 419.0L572.6 419.2L574.2 419.6L575.8 419.4L577.4 419.7L579.0 419.9L580.5 420.3L582.1 420.5L583.7 420.4L585.3 420.4L586.9 420.4L588.5 420.6L590.1 421.4L591.7 421.5L593.2 421.8L594.8 421.2L596.4 421.1L598.0 420.8L599.6 421.0L601.2 421.3L602.8 421.5" stroke="#d9576a" stroke-width="2.9"/>
<path d="M95.0 421.9L96.6 421.9L98.2 421.6L99.8 421.4L101.3 421.3L102.9 421.2L104.5 420.9L106.1 420.7L107.7 420.9L109.3 420.6L110.9 420.6L112.5 420.3L114.0 420.7L115.6 420.9L117.2 421.2L118.8 421.0L120.4 420.5L122.0 420.2L123.6 420.4L125.1 420.7L126.7 420.6L128.3 420.6L129.9 420.0L131.5 419.7L133.1 418.8L134.7 418.7L136.3 418.9L137.8 419.5L139.4 420.2L141.0 420.1L142.6 419.8L144.2 418.9L145.8 418.6L147.4 418.4L148.9 418.4L150.5 418.3L152.1 418.0L153.7 418.1L155.3 418.2L156.9 418.6L158.5 418.0L160.1 417.5L161.6 417.0L163.2 417.4L164.8 417.4L166.4 417.5L168.0 417.1L169.6 417.0L171.2 416.6L172.8 416.5L174.3 416.1L175.9 416.0L177.5 415.7L179.1 415.6L180.7 415.5L182.3 415.0L183.9 414.7L185.4 414.3L187.0 414.2L188.6 414.0L190.2 413.5L191.8 413.2L193.4 412.4L195.0 412.0L196.6 411.6L198.1 411.4L199.7 411.0L201.3 410.2L202.9 409.7L204.5 408.7L206.1 407.9L207.7 406.8L209.2 406.3L210.8 405.3L212.4 404.6L214.0 403.6L215.6 402.6L217.2 401.4L218.8 400.4L220.4 399.6L221.9 398.4L223.5 397.0L225.1 395.5L226.7 394.3L228.3 392.8L229.9 390.7L231.5 389.0L233.0 387.5L234.6 386.3L236.2 385.2L237.8 383.4L239.4 381.9L241.0 378.9L242.6 377.0L244.2 375.0L245.7 373.3L247.3 371.0L248.9 368.7L250.5 366.3L252.1 364.4L253.7 361.9L255.3 359.2L256.8 355.5L258.4 352.6L260.0 350.1L261.6 347.6L263.2 344.7L264.8 341.4L266.4 338.5L268.0 335.9L269.5 333.4L271.1 330.7L272.7 327.5L274.3 324.4L275.9 321.7L277.5 319.4L279.1 316.6L280.6 313.9L282.2 309.8L283.8 306.3L285.4 302.9L287.0 299.3L288.6 295.7L290.2 291.6L291.8 287.9L293.3 284.2L294.9 281.5L296.5 278.6L298.1 276.0L299.7 272.1L301.3 269.0L302.9 266.4L304.5 263.9L306.0 261.8L307.6 258.9L309.2 255.7L310.8 253.2L312.4 250.6L314.0 247.6L315.6 244.2L317.1 240.9L318.7 239.7L320.3 237.7L321.9 235.9L323.5 232.4L325.1 230.0L326.7 226.9L328.3 224.7L329.8 222.0L331.4 220.2L333.0 217.4L334.6 215.1L336.2 211.8L337.8 209.0L339.4 205.5L340.9 202.8L342.5 199.1L344.1 194.6L345.7 189.7L347.3 185.1L348.9 180.2L350.5 175.5L352.1 169.4L353.6 164.3L355.2 160.1L356.8 154.3L358.4 148.6L360.0 142.6L361.6 138.9L363.2 135.3L364.7 129.2L366.3 125.9L367.9 124.6L369.5 125.1L371.1 126.2L372.7 125.1L374.3 129.1L375.9 134.4L377.4 140.8L379.0 146.2L380.6 151.8L382.2 161.0L383.8 168.7L385.4 175.9L387.0 184.8L388.5 193.5L390.1 204.2L391.7 210.7L393.3 220.0L394.9 228.5L396.5 237.4L398.1 245.2L399.7 252.8L401.2 260.0L402.8 267.0L404.4 273.7L406.0 278.7L407.6 283.9L409.2 288.3L410.8 293.7L412.4 298.6L413.9 303.1L415.5 307.3L417.1 310.7L418.7 313.7L420.3 316.5L421.9 319.9L423.5 323.0L425.0 326.4L426.6 329.8L428.2 333.0L429.8 336.5L431.4 338.7L433.0 341.4L434.6 343.9L436.2 347.5L437.7 350.3L439.3 353.1L440.9 355.1L442.5 357.6L444.1 360.1L445.7 362.4L447.3 364.5L448.8 366.6L450.4 368.8L452.0 371.2L453.6 373.1L455.2 375.4L456.8 377.5L458.4 379.3L460.0 381.2L461.5 382.3L463.1 383.5L464.7 385.2L466.3 386.7L467.9 388.5L469.5 389.8L471.1 391.4L472.6 392.6L474.2 393.4L475.8 394.7L477.4 396.2L479.0 397.5L480.6 398.7L482.2 399.5L483.8 401.4L485.3 401.9L486.9 402.5L488.5 402.5L490.1 403.3L491.7 403.9L493.3 404.7L494.9 405.4L496.4 406.5L498.0 407.1L499.6 407.7L501.2 408.0L502.8 408.6L504.4 409.2L506.0 409.8L507.6 410.1L509.1 410.5L510.7 410.9L512.3 411.4L513.9 412.0L515.5 411.9L517.1 412.2L518.7 412.2L520.2 412.7L521.8 412.6L523.4 413.1L525.0 413.5L526.6 413.8L528.2 413.7L529.8 414.0L531.4 414.4L532.9 414.6L534.5 414.4L536.1 414.3L537.7 414.8L539.3 415.1L540.9 415.4L542.5 415.3L544.1 415.7L545.6 415.9L547.2 416.3L548.8 416.4L550.4 416.5L552.0 416.7L553.6 416.7L555.2 416.8L556.7 417.2L558.3 417.3L559.9 417.5L561.5 417.3L563.1 417.3L564.7 417.7L566.3 418.2L567.9 418.5L569.4 418.4L571.0 417.8L572.6 417.9L574.2 418.3L575.8 418.7L577.4 419.1L579.0 419.4L580.5 419.2L582.1 419.1L583.7 418.8L585.3 419.3L586.9 419.2L588.5 419.4L590.1 419.4L591.7 420.1L593.2 420.5L594.8 420.6L596.4 420.2L598.0 420.0L599.6 420.3L601.2 420.7L602.8 421.0" stroke="#ae2440" stroke-width="2.9"/>
<path d="M95.0 421.5L96.6 421.3L98.2 421.1L99.8 421.4L101.3 421.4L102.9 421.7L104.5 421.5L106.1 421.4L107.7 421.1L109.3 420.7L110.9 420.1L112.5 419.9L114.0 419.8L115.6 420.4L117.2 420.6L118.8 420.8L120.4 420.6L122.0 420.6L123.6 420.4L125.1 420.3L126.7 420.2L128.3 420.2L129.9 420.3L131.5 419.9L133.1 419.6L134.7 419.0L136.3 418.8L137.8 418.8L139.4 418.7L141.0 419.1L142.6 418.5L144.2 418.3L145.8 417.9L147.4 418.5L148.9 418.5L150.5 418.7L152.1 418.5L153.7 418.3L155.3 417.8L156.9 417.6L158.5 417.5L160.1 417.5L161.6 417.2L163.2 417.4L164.8 417.2L166.4 417.0L168.0 416.9L169.6 416.2L171.2 416.2L172.8 415.4L174.3 415.8L175.9 415.3L177.5 415.7L179.1 415.5L180.7 415.3L182.3 414.6L183.9 414.3L185.4 413.7L187.0 413.7L188.6 413.0L190.2 412.7L191.8 412.0L193.4 411.9L195.0 411.2L196.6 410.7L198.1 409.8L199.7 409.8L201.3 409.6L202.9 409.1L204.5 408.1L206.1 407.0L207.7 406.2L209.2 405.6L210.8 404.3L212.4 403.2L214.0 402.2L215.6 401.2L217.2 399.9L218.8 398.6L220.4 397.9L221.9 397.1L223.5 396.0L225.1 394.6L226.7 392.9L228.3 391.0L229.9 389.2L231.5 387.4L233.0 385.8L234.6 384.4L236.2 383.2L237.8 381.5L239.4 379.5L241.0 377.1L242.6 374.9L244.2 372.8L245.7 370.7L247.3 368.4L248.9 365.6L250.5 363.0L252.1 360.4L253.7 357.9L255.3 355.3L256.8 352.8L258.4 349.3L260.0 346.4L261.6 343.1L263.2 340.3L264.8 336.5L266.4 334.1L268.0 330.8L269.5 328.1L271.1 324.7L272.7 322.3L274.3 318.8L275.9 315.4L277.5 312.0L279.1 308.3L280.6 305.2L282.2 302.2L283.8 298.9L285.4 294.9L287.0 290.4L288.6 287.8L290.2 284.1L291.8 281.0L293.3 276.2L294.9 273.8L296.5 270.5L298.1 268.1L299.7 265.0L301.3 262.1L302.9 258.1L304.5 254.3L306.0 251.2L307.6 248.2L309.2 244.3L310.8 240.4L312.4 238.4L314.0 236.1L315.6 233.2L317.1 230.4L318.7 228.2L320.3 225.7L321.9 221.9L323.5 219.6L325.1 219.2L326.7 218.6L328.3 216.1L329.8 212.2L331.4 208.4L333.0 205.2L334.6 202.8L336.2 200.2L337.8 197.5L339.4 193.7L340.9 190.5L342.5 184.1L344.1 179.1L345.7 174.4L347.3 171.7L348.9 167.1L350.5 161.8L352.1 155.4L353.6 149.3L355.2 141.0L356.8 134.3L358.4 128.0L360.0 123.8L361.6 118.9L363.2 113.4L364.7 108.4L366.3 103.3L367.9 101.7L369.5 99.7L371.1 100.8L372.7 101.9L374.3 107.4L375.9 112.9L377.4 117.7L379.0 121.6L380.6 128.0L382.2 136.5L383.8 146.9L385.4 156.9L387.0 167.9L388.5 177.0L390.1 186.7L391.7 196.4L393.3 207.0L394.9 216.4L396.5 225.1L398.1 233.9L399.7 241.4L401.2 249.0L402.8 255.7L404.4 262.4L406.0 268.2L407.6 274.0L409.2 279.8L410.8 285.8L412.4 290.7L413.9 296.4L415.5 299.6L417.1 304.1L418.7 306.7L420.3 311.3L421.9 314.5L423.5 318.3L425.0 321.3L426.6 324.0L428.2 326.5L429.8 329.7L431.4 332.7L433.0 336.6L434.6 339.4L436.2 342.6L437.7 345.4L439.3 348.4L440.9 351.2L442.5 353.7L444.1 356.1L445.7 358.7L447.3 361.5L448.8 363.7L450.4 366.4L452.0 368.6L453.6 370.5L455.2 372.9L456.8 375.0L458.4 377.1L460.0 378.7L461.5 379.7L463.1 382.3L464.7 383.2L466.3 385.1L467.9 385.8L469.5 387.7L471.1 389.5L472.6 391.3L474.2 392.3L475.8 394.0L477.4 395.0L479.0 396.1L480.6 397.2L482.2 398.3L483.8 399.4L485.3 400.4L486.9 401.0L488.5 401.8L490.1 402.6L491.7 403.6L493.3 404.6L494.9 405.1L496.4 405.7L498.0 406.3L499.6 406.6L501.2 407.3L502.8 407.4L504.4 408.1L506.0 408.3L507.6 409.0L509.1 409.5L510.7 410.3L512.3 410.5L513.9 410.5L515.5 410.2L517.1 410.4L518.7 410.9L520.2 411.6L521.8 412.0L523.4 412.4L525.0 412.3L526.6 412.4L528.2 412.8L529.8 413.5L531.4 413.6L532.9 413.6L534.5 413.7L536.1 413.9L537.7 414.3L539.3 414.5L540.9 415.0L542.5 415.4L544.1 415.4L545.6 415.7L547.2 415.6L548.8 416.1L550.4 415.9L552.0 416.0L553.6 416.0L555.2 416.7L556.7 416.8L558.3 417.3L559.9 417.1L561.5 417.2L563.1 417.1L564.7 416.9L566.3 417.0L567.9 417.1L569.4 417.6L571.0 417.9L572.6 418.0L574.2 418.0L575.8 418.3L577.4 418.5L579.0 418.7L580.5 418.4L582.1 418.7L583.7 419.2L585.3 419.7L586.9 419.6L588.5 419.5L590.1 419.6L591.7 420.1L593.2 420.3L594.8 420.5L596.4 421.1L598.0 421.5L599.6 421.2L601.2 420.9L602.8 420.8" stroke="#7c0a2b" stroke-width="2.9"/>
<path d="M95.0 423.1L98.2 423.1L101.3 423.1L104.5 423.1L107.7 423.1L110.9 423.1L114.0 423.1L117.2 423.1L120.4 423.1L123.6 423.1L126.7 423.1L129.9 423.1L133.1 423.1L136.3 423.1L139.4 423.1L142.6 423.1L145.8 423.1L148.9 423.1L152.1 423.1L155.3 423.1L158.5 423.1L161.6 423.1L164.8 423.1L168.0 423.1L171.2 423.1L174.3 423.1L177.5 423.1L180.7 423.1L183.9 423.1L187.0 423.1L190.2 423.1L193.4 423.1L196.6 423.1L199.7 423.1L202.9 423.1L206.1 423.0L209.2 423.0L212.4 423.0L215.6 423.0L218.8 423.0L221.9 423.0L225.1 423.0L228.3 423.0L231.5 423.0L234.6 423.0L237.8 422.9L241.0 422.9L244.2 422.9L247.3 422.9L250.5 422.9L253.7 422.9L256.8 422.8L260.0 422.8L263.2 422.8L266.4 422.8L269.5 422.7L272.7 422.7L275.9 422.7L279.1 422.7L282.2 422.6L285.4 422.6L288.6 422.6L291.8 422.6L294.9 422.5L298.1 422.5L301.3 422.5L304.5 422.5L307.6 422.4L310.8 422.4L314.0 422.4L317.1 422.4L320.3 422.4L323.5 422.3L326.7 422.3L329.8 422.3L333.0 422.3L336.2 422.3L339.4 422.3L342.5 422.3L345.7 422.3L348.9 422.3L352.1 422.3L355.2 422.3L358.4 422.3L361.6 422.3L364.7 422.3L367.9 422.3L371.1 422.3L374.3 422.3L377.4 422.4L380.6 422.4L383.8 422.4L387.0 422.4L390.1 422.4L393.3 422.5L396.5 422.5L399.7 422.5L402.8 422.5L406.0 422.6L409.2 422.6L412.4 422.6L415.5 422.6L418.7 422.7L421.9 422.7L425.0 422.7L428.2 422.7L431.4 422.8L434.6 422.8L437.7 422.8L440.9 422.8L444.1 422.9L447.3 422.9L450.4 422.9L453.6 422.9L456.8 422.9L460.0 422.9L463.1 423.0L466.3 423.0L469.5 423.0L472.6 423.0L475.8 423.0L479.0 423.0L482.2 423.0L485.3 423.0L488.5 423.0L491.7 423.0L494.9 423.1L498.0 423.1L501.2 423.1L504.4 423.1L507.6 423.1L510.7 423.1L513.9 423.1L517.1 423.1L520.2 423.1L523.4 423.1L526.6 423.1L529.8 423.1L532.9 423.1L536.1 423.1L539.3 423.1L542.5 423.1L545.6 423.1L548.8 423.1L552.0 423.1L555.2 423.1L558.3 423.1L561.5 423.1L564.7 423.1L567.9 423.1L571.0 423.1L574.2 423.1L577.4 423.1L580.5 423.1L583.7 423.1L586.9 423.1L590.1 423.1L593.2 423.1L596.4 423.1L599.6 423.1L602.8 423.1" stroke="#000" stroke-width="3" stroke-dasharray="7.7 6.7"/>
<path d="M95.0 423.1L98.2 423.1L101.3 423.1L104.5 423.1L107.7 423.1L110.9 423.1L114.0 423.1L117.2 423.1L120.4 423.1L123.6 423.1L126.7 423.1L129.9 423.1L133.1 423.1L136.3 423.1L139.4 423.0L142.6 423.0L145.8 423.0L148.9 423.0L152.1 423.0L155.3 423.0L158.5 423.0L161.6 422.9L164.8 422.9L168.0 422.9L171.2 422.8L174.3 422.8L177.5 422.7L180.7 422.7L183.9 422.6L187.0 422.6L190.2 422.5L193.4 422.4L196.6 422.3L199.7 422.2L202.9 422.0L206.1 421.9L209.2 421.7L212.4 421.6L215.6 421.4L218.8 421.2L221.9 421.0L225.1 420.7L228.3 420.5L231.5 420.2L234.6 419.9L237.8 419.5L241.0 419.2L244.2 418.8L247.3 418.4L250.5 418.0L253.7 417.6L256.8 417.1L260.0 416.6L263.2 416.1L266.4 415.6L269.5 415.1L272.7 414.5L275.9 414.0L279.1 413.4L282.2 412.8L285.4 412.2L288.6 411.6L291.8 411.0L294.9 410.5L298.1 409.9L301.3 409.3L304.5 408.8L307.6 408.2L310.8 407.7L314.0 407.2L317.1 406.8L320.3 406.3L323.5 406.0L326.7 405.6L329.8 405.3L333.0 405.0L336.2 404.8L339.4 404.6L342.5 404.5L345.7 404.4L348.9 404.4L352.1 404.4L355.2 404.5L358.4 404.6L361.6 404.8L364.7 405.0L367.9 405.3L371.1 405.6L374.3 406.0L377.4 406.3L380.6 406.8L383.8 407.2L387.0 407.7L390.1 408.2L393.3 408.8L396.5 409.3L399.7 409.9L402.8 410.5L406.0 411.0L409.2 411.6L412.4 412.2L415.5 412.8L418.7 413.4L421.9 414.0L425.0 414.5L428.2 415.1L431.4 415.6L434.6 416.1L437.7 416.6L440.9 417.1L444.1 417.6L447.3 418.0L450.4 418.4L453.6 418.8L456.8 419.2L460.0 419.5L463.1 419.9L466.3 420.2L469.5 420.5L472.6 420.7L475.8 421.0L479.0 421.2L482.2 421.4L485.3 421.6L488.5 421.7L491.7 421.9L494.9 422.0L498.0 422.2L501.2 422.3L504.4 422.4L507.6 422.5L510.7 422.6L513.9 422.6L517.1 422.7L520.2 422.7L523.4 422.8L526.6 422.8L529.8 422.9L532.9 422.9L536.1 422.9L539.3 423.0L542.5 423.0L545.6 423.0L548.8 423.0L552.0 423.0L555.2 423.0L558.3 423.0L561.5 423.1L564.7 423.1L567.9 423.1L571.0 423.1L574.2 423.1L577.4 423.1L580.5 423.1L583.7 423.1L586.9 423.1L590.1 423.1L593.2 423.1L596.4 423.1L599.6 423.1L602.8 423.1" stroke="#000" stroke-width="3" stroke-dasharray="7.7 6.7"/>
<path d="M95.0 423.1L98.2 423.1L101.3 423.1L104.5 423.1L107.7 423.1L110.9 423.1L114.0 423.1L117.2 423.1L120.4 423.1L123.6 423.0L126.7 423.0L129.9 423.0L133.1 423.0L136.3 423.0L139.4 423.0L142.6 422.9L145.8 422.9L148.9 422.8L152.1 422.8L155.3 422.7L158.5 422.7L161.6 422.6L164.8 422.5L168.0 422.4L171.2 422.3L174.3 422.2L177.5 422.1L180.7 421.9L183.9 421.7L187.0 421.5L190.2 421.3L193.4 421.0L196.6 420.7L199.7 420.4L202.9 420.0L206.1 419.6L209.2 419.2L212.4 418.7L215.6 418.1L218.8 417.5L221.9 416.9L225.1 416.2L228.3 415.4L231.5 414.6L234.6 413.7L237.8 412.8L241.0 411.7L244.2 410.7L247.3 409.5L250.5 408.3L253.7 407.0L256.8 405.7L260.0 404.3L263.2 402.8L266.4 401.3L269.5 399.8L272.7 398.2L275.9 396.5L279.1 394.9L282.2 393.2L285.4 391.4L288.6 389.7L291.8 388.0L294.9 386.3L298.1 384.6L301.3 383.0L304.5 381.4L307.6 379.8L310.8 378.3L314.0 376.9L317.1 375.6L320.3 374.3L323.5 373.2L326.7 372.2L329.8 371.2L333.0 370.5L336.2 369.8L339.4 369.3L342.5 368.9L345.7 368.7L348.9 368.7L352.1 368.7L355.2 368.9L358.4 369.3L361.6 369.8L364.7 370.5L367.9 371.2L371.1 372.2L374.3 373.2L377.4 374.3L380.6 375.6L383.8 376.9L387.0 378.3L390.1 379.8L393.3 381.4L396.5 383.0L399.7 384.6L402.8 386.3L406.0 388.0L409.2 389.7L412.4 391.4L415.5 393.2L418.7 394.9L421.9 396.5L425.0 398.2L428.2 399.8L431.4 401.3L434.6 402.8L437.7 404.3L440.9 405.7L444.1 407.0L447.3 408.3L450.4 409.5L453.6 410.7L456.8 411.7L460.0 412.8L463.1 413.7L466.3 414.6L469.5 415.4L472.6 416.2L475.8 416.9L479.0 417.5L482.2 418.1L485.3 418.7L488.5 419.2L491.7 419.6L494.9 420.0L498.0 420.4L501.2 420.7L504.4 421.0L507.6 421.3L510.7 421.5L513.9 421.7L517.1 421.9L520.2 422.1L523.4 422.2L526.6 422.3L529.8 422.4L532.9 422.5L536.1 422.6L539.3 422.7L542.5 422.7L545.6 422.8L548.8 422.8L552.0 422.9L555.2 422.9L558.3 423.0L561.5 423.0L564.7 423.0L567.9 423.0L571.0 423.0L574.2 423.0L577.4 423.1L580.5 423.1L583.7 423.1L586.9 423.1L590.1 423.1L593.2 423.1L596.4 423.1L599.6 423.1L602.8 423.1" stroke="#000" stroke-width="3" stroke-dasharray="7.7 6.7"/>
<path d="M95.0 423.1L98.2 423.1L101.3 423.1L104.5 423.1L107.7 423.1L110.9 423.1L114.0 423.0L117.2 423.0L120.4 423.0L123.6 423.0L126.7 423.0L129.9 423.0L133.1 422.9L136.3 422.9L139.4 422.9L142.6 422.8L145.8 422.7L148.9 422.7L152.1 422.6L155.3 422.5L158.5 422.4L161.6 422.3L164.8 422.1L168.0 422.0L171.2 421.8L174.3 421.6L177.5 421.4L180.7 421.1L183.9 420.8L187.0 420.4L190.2 420.0L193.4 419.6L196.6 419.1L199.7 418.5L202.9 417.9L206.1 417.2L209.2 416.5L212.4 415.7L215.6 414.8L218.8 413.8L221.9 412.7L225.1 411.5L228.3 410.2L231.5 408.8L234.6 407.4L237.8 405.8L241.0 404.1L244.2 402.3L247.3 400.3L250.5 398.3L253.7 396.2L256.8 393.9L260.0 391.6L263.2 389.1L266.4 386.6L269.5 384.0L272.7 381.3L275.9 378.5L279.1 375.7L282.2 372.9L285.4 370.0L288.6 367.1L291.8 364.3L294.9 361.4L298.1 358.6L301.3 355.8L304.5 353.1L307.6 350.5L310.8 348.0L314.0 345.6L317.1 343.4L320.3 341.3L323.5 339.4L326.7 337.7L329.8 336.1L333.0 334.8L336.2 333.7L339.4 332.8L342.5 332.1L345.7 331.7L348.9 331.4L352.1 331.5L355.2 331.7L358.4 332.2L361.6 332.9L364.7 333.9L367.9 335.1L371.1 336.6L374.3 338.3L377.4 340.3L380.6 342.4L383.8 344.8L387.0 347.3L390.1 349.9L393.3 352.7L396.5 355.5L399.7 358.3L402.8 361.2L406.0 364.2L409.2 367.1L412.4 370.0L415.5 372.9L418.7 375.7L421.9 378.5L425.0 381.3L428.2 384.0L431.4 386.6L434.6 389.1L437.7 391.6L440.9 393.9L444.1 396.2L447.3 398.3L450.4 400.3L453.6 402.3L456.8 404.1L460.0 405.8L463.1 407.4L466.3 408.8L469.5 410.2L472.6 411.5L475.8 412.7L479.0 413.8L482.2 414.8L485.3 415.7L488.5 416.5L491.7 417.2L494.9 417.9L498.0 418.5L501.2 419.1L504.4 419.6L507.6 420.0L510.7 420.4L513.9 420.8L517.1 421.1L520.2 421.4L523.4 421.6L526.6 421.8L529.8 422.0L532.9 422.1L536.1 422.3L539.3 422.4L542.5 422.5L545.6 422.6L548.8 422.7L552.0 422.7L555.2 422.8L558.3 422.9L561.5 422.9L564.7 422.9L567.9 423.0L571.0 423.0L574.2 423.0L577.4 423.0L580.5 423.0L583.7 423.0L586.9 423.1L590.1 423.1L593.2 423.1L596.4 423.1L599.6 423.1L602.8 423.1" stroke="#000" stroke-width="3" stroke-dasharray="7.7 6.7"/>
<path d="M95.0 423.1L98.2 423.1L101.3 423.1L104.5 423.1L107.7 423.1L110.9 423.0L114.0 423.0L117.2 423.0L120.4 423.0L123.6 423.0L126.7 423.0L129.9 422.9L133.1 422.9L136.3 422.9L139.4 422.8L142.6 422.8L145.8 422.7L148.9 422.6L152.1 422.5L155.3 422.4L158.5 422.3L161.6 422.1L164.8 422.0L168.0 421.8L171.2 421.6L174.3 421.3L177.5 421.0L180.7 420.7L183.9 420.3L187.0 419.9L190.2 419.5L193.4 418.9L196.6 418.4L199.7 417.7L202.9 417.0L206.1 416.2L209.2 415.3L212.4 414.3L215.6 413.2L218.8 412.1L221.9 410.8L225.1 409.4L228.3 407.9L231.5 406.3L234.6 404.5L237.8 402.6L241.0 400.6L244.2 398.5L247.3 396.2L250.5 393.8L253.7 391.3L256.8 388.6L260.0 385.9L263.2 383.0L266.4 380.0L269.5 376.9L272.7 373.7L275.9 370.5L279.1 367.2L282.2 363.8L285.4 360.4L288.6 357.0L291.8 353.6L294.9 350.3L298.1 346.9L301.3 343.7L304.5 340.5L307.6 337.4L310.8 334.4L314.0 331.6L317.1 329.0L320.3 326.5L323.5 324.2L326.7 322.1L329.8 320.3L333.0 318.6L336.2 317.2L339.4 316.0L342.5 314.9L345.7 314.0L348.9 313.3L352.1 312.9L355.2 312.6L358.4 312.6L361.6 312.8L364.7 313.5L367.9 314.6L371.1 316.2L374.3 318.3L377.4 320.8L380.6 323.7L383.8 327.0L387.0 330.5L390.1 334.2L393.3 338.0L396.5 341.8L399.7 345.6L402.8 349.4L406.0 353.0L409.2 356.7L412.4 360.2L415.5 363.7L418.7 367.1L421.9 370.5L425.0 373.7L428.2 376.9L431.4 380.0L434.6 383.0L437.7 385.9L440.9 388.6L444.1 391.3L447.3 393.8L450.4 396.2L453.6 398.5L456.8 400.6L460.0 402.6L463.1 404.5L466.3 406.3L469.5 407.9L472.6 409.4L475.8 410.8L479.0 412.1L482.2 413.2L485.3 414.3L488.5 415.3L491.7 416.2L494.9 417.0L498.0 417.7L501.2 418.4L504.4 418.9L507.6 419.5L510.7 419.9L513.9 420.3L517.1 420.7L520.2 421.0L523.4 421.3L526.6 421.6L529.8 421.8L532.9 422.0L536.1 422.1L539.3 422.3L542.5 422.4L545.6 422.5L548.8 422.6L552.0 422.7L555.2 422.8L558.3 422.8L561.5 422.9L564.7 422.9L567.9 422.9L571.0 423.0L574.2 423.0L577.4 423.0L580.5 423.0L583.7 423.0L586.9 423.0L590.1 423.1L593.2 423.1L596.4 423.1L599.6 423.1L602.8 423.1" stroke="#000" stroke-width="3" stroke-dasharray="7.7 6.7"/>
<path d="M95.0 423.1L98.2 423.1L101.3 423.1L104.5 423.1L107.7 423.0L110.9 423.0L114.0 423.0L117.2 423.0L120.4 423.0L123.6 422.9L126.7 422.9L129.9 422.9L133.1 422.8L136.3 422.8L139.4 422.7L142.6 422.6L145.8 422.5L148.9 422.4L152.1 422.3L155.3 422.1L158.5 422.0L161.6 421.8L164.8 421.5L168.0 421.3L171.2 421.0L174.3 420.6L177.5 420.2L180.7 419.8L183.9 419.3L187.0 418.7L190.2 418.1L193.4 417.4L196.6 416.6L199.7 415.7L202.9 414.7L206.1 413.6L209.2 412.3L212.4 411.0L215.6 409.5L218.8 407.9L221.9 406.1L225.1 404.2L228.3 402.1L231.5 399.9L234.6 397.4L237.8 394.9L241.0 392.1L244.2 389.1L247.3 386.0L250.5 382.7L253.7 379.2L256.8 375.6L260.0 371.7L263.2 367.8L266.4 363.6L269.5 359.4L272.7 355.0L275.9 350.5L279.1 345.9L282.2 341.3L285.4 336.6L288.6 331.9L291.8 327.2L294.9 322.6L298.1 318.0L301.3 313.5L304.5 309.1L307.6 304.8L310.8 300.7L314.0 296.8L317.1 293.1L320.3 289.7L323.5 286.5L326.7 283.5L329.8 280.8L333.0 278.2L336.2 275.7L339.4 273.3L342.5 270.8L345.7 268.3L348.9 265.7L352.1 263.1L355.2 260.5L358.4 258.2L361.6 256.5L364.7 255.6L367.9 255.7L371.1 257.2L374.3 260.2L377.4 264.5L380.6 269.9L383.8 276.4L387.0 283.5L390.1 290.8L393.3 298.2L396.5 305.3L399.7 312.2L402.8 318.6L406.0 324.6L409.2 330.3L412.4 335.6L415.5 340.7L418.7 345.6L421.9 350.3L425.0 354.9L428.2 359.3L431.4 363.6L434.6 367.7L437.7 371.7L440.9 375.5L444.1 379.2L447.3 382.7L450.4 386.0L453.6 389.1L456.8 392.1L460.0 394.9L463.1 397.4L466.3 399.9L469.5 402.1L472.6 404.2L475.8 406.1L479.0 407.9L482.2 409.5L485.3 411.0L488.5 412.3L491.7 413.6L494.9 414.7L498.0 415.7L501.2 416.6L504.4 417.4L507.6 418.1L510.7 418.7L513.9 419.3L517.1 419.8L520.2 420.2L523.4 420.6L526.6 421.0L529.8 421.3L532.9 421.5L536.1 421.8L539.3 422.0L542.5 422.1L545.6 422.3L548.8 422.4L552.0 422.5L555.2 422.6L558.3 422.7L561.5 422.8L564.7 422.8L567.9 422.9L571.0 422.9L574.2 422.9L577.4 423.0L580.5 423.0L583.7 423.0L586.9 423.0L590.1 423.0L593.2 423.1L596.4 423.1L599.6 423.1L602.8 423.1" stroke="#000" stroke-width="3" stroke-dasharray="7.7 6.7"/>
<path d="M95.0 423.1L98.2 423.1L101.3 423.1L104.5 423.0L107.7 423.0L110.9 423.0L114.0 423.0L117.2 423.0L120.4 422.9L123.6 422.9L126.7 422.9L129.9 422.8L133.1 422.8L136.3 422.7L139.4 422.6L142.6 422.5L145.8 422.4L148.9 422.3L152.1 422.1L155.3 421.9L158.5 421.7L161.6 421.5L164.8 421.2L168.0 420.9L171.2 420.5L174.3 420.1L177.5 419.6L180.7 419.1L183.9 418.5L187.0 417.8L190.2 417.0L193.4 416.1L196.6 415.1L199.7 414.0L202.9 412.8L206.1 411.4L209.2 409.9L212.4 408.3L215.6 406.5L218.8 404.5L221.9 402.3L225.1 400.0L228.3 397.4L231.5 394.7L234.6 391.7L237.8 388.6L241.0 385.2L244.2 381.6L247.3 377.7L250.5 373.7L253.7 369.4L256.8 365.0L260.0 360.3L263.2 355.4L266.4 350.4L269.5 345.2L272.7 339.8L275.9 334.3L279.1 328.8L282.2 323.1L285.4 317.4L288.6 311.6L291.8 305.9L294.9 300.2L298.1 294.6L301.3 289.0L304.5 283.7L307.6 278.5L310.8 273.5L314.0 268.7L317.1 264.2L320.3 259.9L323.5 255.8L326.7 252.0L329.8 248.2L333.0 244.5L336.2 240.6L339.4 236.3L342.5 231.4L345.7 225.9L348.9 219.7L352.1 212.8L355.2 205.7L358.4 198.7L361.6 192.6L364.7 188.0L367.9 185.8L371.1 186.4L374.3 190.1L377.4 196.9L380.6 206.3L383.8 217.7L387.0 230.4L390.1 243.6L393.3 256.5L396.5 268.8L399.7 280.1L402.8 290.3L406.0 299.3L409.2 307.5L412.4 314.9L415.5 321.6L418.7 327.9L421.9 333.9L425.0 339.6L428.2 345.1L431.4 350.3L434.6 355.4L437.7 360.3L440.9 365.0L444.1 369.4L447.3 373.7L450.4 377.7L453.6 381.6L456.8 385.2L460.0 388.6L463.1 391.7L466.3 394.7L469.5 397.4L472.6 400.0L475.8 402.3L479.0 404.5L482.2 406.5L485.3 408.3L488.5 409.9L491.7 411.4L494.9 412.8L498.0 414.0L501.2 415.1L504.4 416.1L507.6 417.0L510.7 417.8L513.9 418.5L517.1 419.1L520.2 419.6L523.4 420.1L526.6 420.5L529.8 420.9L532.9 421.2L536.1 421.5L539.3 421.7L542.5 421.9L545.6 422.1L548.8 422.3L552.0 422.4L555.2 422.5L558.3 422.6L561.5 422.7L564.7 422.8L567.9 422.8L571.0 422.9L574.2 422.9L577.4 422.9L580.5 423.0L583.7 423.0L586.9 423.0L590.1 423.0L593.2 423.0L596.4 423.1L599.6 423.1L602.8 423.1" stroke="#000" stroke-width="3" stroke-dasharray="7.7 6.7"/>
<path d="M95.0 423.1L98.2 423.1L101.3 423.0L104.5 423.0L107.7 423.0L110.9 423.0L114.0 423.0L117.2 422.9L120.4 422.9L123.6 422.9L126.7 422.8L129.9 422.8L133.1 422.7L136.3 422.6L139.4 422.5L142.6 422.4L145.8 422.3L148.9 422.1L152.1 422.0L155.3 421.8L158.5 421.5L161.6 421.2L164.8 420.9L168.0 420.6L171.2 420.1L174.3 419.7L177.5 419.1L180.7 418.5L183.9 417.8L187.0 417.0L190.2 416.1L193.4 415.1L196.6 414.0L199.7 412.7L202.9 411.3L206.1 409.8L209.2 408.1L212.4 406.2L215.6 404.1L218.8 401.8L221.9 399.4L225.1 396.7L228.3 393.8L231.5 390.6L234.6 387.3L237.8 383.6L241.0 379.8L244.2 375.6L247.3 371.3L250.5 366.6L253.7 361.8L256.8 356.7L260.0 351.3L263.2 345.8L266.4 340.0L269.5 334.0L272.7 327.9L275.9 321.7L279.1 315.3L282.2 308.8L285.4 302.3L288.6 295.7L291.8 289.1L294.9 282.6L298.1 276.2L301.3 269.9L304.5 263.7L307.6 257.8L310.8 252.0L314.0 246.6L317.1 241.4L320.3 236.4L323.5 231.7L326.7 227.1L329.8 222.6L333.0 217.8L336.2 212.6L339.4 206.6L342.5 199.6L345.7 191.3L348.9 181.7L352.1 171.0L355.2 159.5L358.4 148.2L361.6 138.0L364.7 130.0L367.9 125.5L371.1 125.2L374.3 129.5L377.4 138.4L380.6 151.4L383.8 167.3L387.0 185.1L390.1 203.5L393.3 221.5L396.5 238.4L399.7 253.7L402.8 267.2L406.0 278.9L409.2 289.2L412.4 298.3L415.5 306.5L418.7 314.0L421.9 321.0L425.0 327.6L428.2 333.9L431.4 339.9L434.6 345.7L437.7 351.3L440.9 356.6L444.1 361.8L447.3 366.6L450.4 371.3L453.6 375.6L456.8 379.8L460.0 383.6L463.1 387.3L466.3 390.6L469.5 393.8L472.6 396.7L475.8 399.4L479.0 401.8L482.2 404.1L485.3 406.2L488.5 408.1L491.7 409.8L494.9 411.3L498.0 412.7L501.2 414.0L504.4 415.1L507.6 416.1L510.7 417.0L513.9 417.8L517.1 418.5L520.2 419.1L523.4 419.7L526.6 420.1L529.8 420.6L532.9 420.9L536.1 421.2L539.3 421.5L542.5 421.8L545.6 422.0L548.8 422.1L552.0 422.3L555.2 422.4L558.3 422.5L561.5 422.6L564.7 422.7L567.9 422.8L571.0 422.8L574.2 422.9L577.4 422.9L580.5 422.9L583.7 423.0L586.9 423.0L590.1 423.0L593.2 423.0L596.4 423.0L599.6 423.1L602.8 423.1" stroke="#000" stroke-width="3" stroke-dasharray="7.7 6.7"/>
<path d="M95.0 423.1L98.2 423.1L101.3 423.0L104.5 423.0L107.7 423.0L110.9 423.0L114.0 423.0L117.2 422.9L120.4 422.9L123.6 422.9L126.7 422.8L129.9 422.8L133.1 422.7L136.3 422.6L139.4 422.5L142.6 422.4L145.8 422.2L148.9 422.1L152.1 421.9L155.3 421.7L158.5 421.4L161.6 421.1L164.8 420.8L168.0 420.4L171.2 420.0L174.3 419.5L177.5 418.9L180.7 418.2L183.9 417.5L187.0 416.6L190.2 415.7L193.4 414.6L196.6 413.4L199.7 412.1L202.9 410.6L206.1 409.0L209.2 407.2L212.4 405.2L215.6 403.0L218.8 400.6L221.9 398.0L225.1 395.1L228.3 392.0L231.5 388.7L234.6 385.1L237.8 381.3L241.0 377.2L244.2 372.8L247.3 368.2L250.5 363.3L253.7 358.1L256.8 352.7L260.0 347.1L263.2 341.2L266.4 335.1L269.5 328.8L272.7 322.3L275.9 315.7L279.1 308.9L282.2 302.0L285.4 295.1L288.6 288.2L291.8 281.2L294.9 274.3L298.1 267.5L301.3 260.8L304.5 254.3L307.6 248.0L310.8 241.9L314.0 236.2L317.1 230.6L320.3 225.4L323.5 220.4L326.7 215.5L329.8 210.6L333.0 205.4L336.2 199.7L339.4 193.2L342.5 185.4L345.7 176.2L348.9 165.5L352.1 153.4L355.2 140.6L358.4 127.8L361.6 116.3L364.7 107.2L367.9 102.0L371.1 101.4L374.3 106.1L377.4 115.8L380.6 129.9L383.8 147.5L387.0 167.0L390.1 187.3L393.3 207.1L396.5 225.6L399.7 242.3L402.8 257.0L406.0 269.8L409.2 281.0L412.4 290.8L415.5 299.5L418.7 307.5L421.9 314.9L425.0 321.9L428.2 328.6L431.4 335.0L434.6 341.1L437.7 347.1L440.9 352.7L444.1 358.1L447.3 363.3L450.4 368.2L453.6 372.8L456.8 377.2L460.0 381.3L463.1 385.1L466.3 388.7L469.5 392.0L472.6 395.1L475.8 398.0L479.0 400.6L482.2 403.0L485.3 405.2L488.5 407.2L491.7 409.0L494.9 410.6L498.0 412.1L501.2 413.4L504.4 414.6L507.6 415.7L510.7 416.6L513.9 417.5L517.1 418.2L520.2 418.9L523.4 419.5L526.6 420.0L529.8 420.4L532.9 420.8L536.1 421.1L539.3 421.4L542.5 421.7L545.6 421.9L548.8 422.1L552.0 422.2L555.2 422.4L558.3 422.5L561.5 422.6L564.7 422.7L567.9 422.8L571.0 422.8L574.2 422.9L577.4 422.9L580.5 422.9L583.7 423.0L586.9 423.0L590.1 423.0L593.2 423.0L596.4 423.0L599.6 423.1L602.8 423.1" stroke="#000" stroke-width="3" stroke-dasharray="7.7 6.7"/>
</g>
<rect x="95.00" y="30.00" width="507.80" height="401.30" fill="none" stroke="#111" stroke-width="1.6"/>
<path d="M95.00 431.30v8M158.47 431.30v8M221.94 431.30v8M285.41 431.30v8M348.88 431.30v8M412.35 431.30v8M475.82 431.30v8M539.29 431.30v8M602.76 431.30v8M107.69 431.30v4.5M120.39 431.30v4.5M133.08 431.30v4.5M145.78 431.30v4.5M171.16 431.30v4.5M183.86 431.30v4.5M196.55 431.30v4.5M209.25 431.30v4.5M234.63 431.30v4.5M247.33 431.30v4.5M260.02 431.30v4.5M272.72 431.30v4.5M298.10 431.30v4.5M310.80 431.30v4.5M323.49 431.30v4.5M336.19 431.30v4.5M361.57 431.30v4.5M374.27 431.30v4.5M386.96 431.30v4.5M399.66 431.30v4.5M425.04 431.30v4.5M437.74 431.30v4.5M450.43 431.30v4.5M463.13 431.30v4.5M488.51 431.30v4.5M501.21 431.30v4.5M513.90 431.30v4.5M526.60 431.30v4.5M551.98 431.30v4.5M564.68 431.30v4.5M577.37 431.30v4.5M590.07 431.30v4.5" stroke="#111" stroke-width="1.6" fill="none"/>
<text x="95.00" y="464.70" font-size="24.9" text-anchor="middle">750</text>
<text x="158.47" y="464.70" font-size="24.9" text-anchor="middle">760</text>
<text x="221.94" y="464.70" font-size="24.9" text-anchor="middle">770</text>
<text x="285.41" y="464.70" font-size="24.9" text-anchor="middle">780</text>
<text x="348.88" y="464.70" font-size="24.9" text-anchor="middle">790</text>
<text x="412.35" y="464.70" font-size="24.9" text-anchor="middle">800</text>
<text x="475.82" y="464.70" font-size="24.9" text-anchor="middle">810</text>
<text x="539.29" y="464.70" font-size="24.9" text-anchor="middle">820</text>
<text x="602.76" y="464.70" font-size="24.9" text-anchor="middle">830</text>
<path d="M95.00 423.10h-8M95.00 368.10h-8M95.00 313.10h-8M95.00 258.10h-8M95.00 203.10h-8M95.00 148.10h-8M95.00 93.10h-8M95.00 38.10h-8M95.00 395.60h-4.5M95.00 340.60h-4.5M95.00 285.60h-4.5M95.00 230.60h-4.5M95.00 175.60h-4.5M95.00 120.60h-4.5M95.00 65.60h-4.5" stroke="#111" stroke-width="1.6" fill="none"/>
<text x="81.40" y="431.40" font-size="24.9" text-anchor="end">0.0</text>
<text x="81.40" y="376.40" font-size="24.9" text-anchor="end">0.1</text>
<text x="81.40" y="321.40" font-size="24.9" text-anchor="end">0.2</text>
<text x="81.40" y="266.40" font-size="24.9" text-anchor="end">0.3</text>
<text x="81.40" y="211.40" font-size="24.9" text-anchor="end">0.4</text>
<text x="81.40" y="156.40" font-size="24.9" text-anchor="end">0.5</text>
<text x="81.40" y="101.40" font-size="24.9" text-anchor="end">0.6</text>
<text x="81.40" y="46.40" font-size="24.9" text-anchor="end">0.7</text>
<text x="348.90" y="504.70" font-size="25.2" text-anchor="middle">Wavelength (nm)</text>
<text transform="translate(38.20 230.65) rotate(-90)" font-size="25.2" text-anchor="middle">Output intensity (a.u.)</text>
<text x="111" y="60.1" font-size="21.3">Optical Excitation Only, <tspan font-style="italic">I</tspan><tspan font-size="13" dy="5">opt,ns</tspan></text>
<rect x="507.30" y="47.90" width="25.40" height="20.44" fill="#7c0a2b"/>
<rect x="507.30" y="68.04" width="25.40" height="20.44" fill="#ae2440"/>
<rect x="507.30" y="88.19" width="25.40" height="20.44" fill="#d9576a"/>
<rect x="507.30" y="108.33" width="25.40" height="20.44" fill="#f28a8d"/>
<rect x="507.30" y="128.48" width="25.40" height="20.44" fill="#c7a5ae"/>
<rect x="507.30" y="148.62" width="25.40" height="20.44" fill="#88aac2"/>
<rect x="507.30" y="168.77" width="25.40" height="20.44" fill="#5b78ab"/>
<rect x="507.30" y="188.91" width="25.40" height="20.44" fill="#2e4e94"/>
<rect x="507.30" y="209.06" width="25.40" height="20.44" fill="#0b2278"/>
<rect x="507.30" y="47.90" width="25.40" height="181.30" fill="none" stroke="#222" stroke-width="1"/>
<text x="545.20" y="65.17" font-size="21.3">15.6</text>
<text x="545.20" y="105.46" font-size="21.3">12.6</text>
<text x="545.20" y="145.75" font-size="21.3">7.7</text>
<text x="545.20" y="186.04" font-size="21.3">4.2</text>
<text x="545.20" y="226.33" font-size="21.3">0.4</text>
<text x="492.70" y="85.52" font-size="21.3" text-anchor="end">14.7</text>
<text x="492.70" y="125.81" font-size="21.3" text-anchor="end">10.2</text>
<text x="492.70" y="166.09" font-size="21.3" text-anchor="end">6.5</text>
<text x="492.70" y="206.38" font-size="21.3" text-anchor="end">2.3</text>
<path d="M532.70 57.97h7M532.70 98.26h7M532.70 138.55h7M532.70 178.84h7M532.70 219.13h7M507.30 78.12h-7M507.30 118.41h-7M507.30 158.69h-7M507.30 198.98h-7" stroke="#111" stroke-width="1.5"/>
<text x="451.2" y="254.50" font-size="21.3"><tspan font-style="italic">I</tspan><tspan font-size="14.2" dy="4.5">opt,ns</tspan><tspan dy="-4.5"> (µJ·cm</tspan><tspan font-size="13" dy="-8">-2</tspan><tspan dy="8">)</tspan></text>
<path d="M452.2 294.50H502" stroke="#000" stroke-width="3" stroke-dasharray="7.7 6.7"/>
<text x="507" y="300.80" font-size="21.3">Total Fits</text>
<text x="4.0" y="565.9" font-size="32" font-weight="bold">c</text>
<g clip-path="url(#cc)" fill="none" stroke-linejoin="round">
<path d="M95.0 964.7L96.6 964.9L98.2 965.1L99.8 964.8L101.3 964.5L102.9 964.6L104.5 964.5L106.1 964.6L107.7 964.6L109.3 964.7L110.9 964.6L112.5 964.3L114.0 964.1L115.6 964.0L117.2 963.9L118.8 963.9L120.4 963.8L122.0 964.0L123.6 964.1L125.1 964.1L126.7 964.0L128.3 963.7L129.9 963.8L131.5 963.6L133.1 963.5L134.7 963.2L136.3 963.4L137.8 963.1L139.4 962.9L141.0 962.4L142.6 962.4L144.2 962.5L145.8 962.2L147.4 962.2L148.9 962.2L150.5 962.3L152.1 961.9L153.7 961.8L155.3 961.5L156.9 961.5L158.5 961.3L160.1 961.3L161.6 961.2L163.2 961.0L164.8 960.7L166.4 960.6L168.0 960.2L169.6 959.9L171.2 959.7L172.8 959.6L174.3 959.4L175.9 958.9L177.5 958.8L179.1 958.3L180.7 958.1L182.3 957.9L183.9 957.6L185.4 957.0L187.0 956.9L188.6 956.5L190.2 956.4L191.8 955.8L193.4 955.7L195.0 955.0L196.6 954.5L198.1 953.5L199.7 953.3L201.3 952.8L202.9 952.5L204.5 952.0L206.1 951.3L207.7 950.8L209.2 950.3L210.8 949.9L212.4 949.1L214.0 948.4L215.6 948.0L217.2 947.6L218.8 947.0L220.4 946.3L221.9 945.6L223.5 945.1L225.1 944.3L226.7 943.4L228.3 942.3L229.9 941.4L231.5 940.3L233.0 939.7L234.6 938.2L236.2 937.6L237.8 936.6L239.4 936.3L241.0 936.1L242.6 935.3L244.2 934.3L245.7 932.4L247.3 931.7L248.9 930.3L250.5 929.7L252.1 928.3L253.7 928.2L255.3 927.0L256.8 926.2L258.4 924.5L260.0 923.4L261.6 922.5L263.2 921.3L264.8 920.1L266.4 918.6L268.0 917.5L269.5 916.3L271.1 915.3L272.7 914.7L274.3 914.2L275.9 912.7L277.5 911.1L279.1 909.7L280.6 909.0L282.2 908.0L283.8 906.9L285.4 905.8L287.0 904.9L288.6 903.3L290.2 902.1L291.8 901.0L293.3 900.8L294.9 900.0L296.5 898.7L298.1 897.1L299.7 896.0L301.3 895.2L302.9 894.6L304.5 893.9L306.0 892.6L307.6 891.6L309.2 889.7L310.8 889.5L312.4 888.8L314.0 888.5L315.6 887.6L317.1 887.3L318.7 887.1L320.3 886.4L321.9 885.3L323.5 884.4L325.1 883.6L326.7 882.9L328.3 882.3L329.8 882.2L331.4 882.2L333.0 881.7L334.6 881.1L336.2 880.8L337.8 880.6L339.4 880.7L340.9 881.0L342.5 881.3L344.1 880.9L345.7 880.3L347.3 879.5L348.9 879.8L350.5 879.8L352.1 880.0L353.6 879.9L355.2 880.5L356.8 881.3L358.4 881.8L360.0 882.3L361.6 882.5L363.2 882.6L364.7 883.0L366.3 883.1L367.9 884.0L369.5 884.5L371.1 885.8L372.7 886.6L374.3 887.1L375.9 887.7L377.4 887.8L379.0 888.6L380.6 889.3L382.2 890.7L383.8 892.1L385.4 893.2L387.0 894.3L388.5 894.6L390.1 895.6L391.7 896.0L393.3 897.0L394.9 897.9L396.5 899.3L398.1 900.5L399.7 901.7L401.2 902.6L402.8 904.0L404.4 905.2L406.0 905.9L407.6 906.9L409.2 908.2L410.8 910.2L412.4 911.7L413.9 912.5L415.5 913.5L417.1 914.2L418.7 915.3L420.3 915.9L421.9 917.3L423.5 918.6L425.0 920.2L426.6 921.1L428.2 922.3L429.8 923.6L431.4 924.4L433.0 925.5L434.6 926.5L436.2 927.7L437.7 928.7L439.3 929.7L440.9 930.9L442.5 931.8L444.1 932.8L445.7 933.8L447.3 935.3L448.8 936.4L450.4 937.5L452.0 938.2L453.6 939.0L455.2 940.1L456.8 940.9L458.4 941.7L460.0 942.1L461.5 943.1L463.1 943.7L464.7 944.6L466.3 945.4L467.9 946.5L469.5 947.1L471.1 947.4L472.6 947.7L474.2 948.3L475.8 949.2L477.4 950.1L479.0 950.8L480.6 951.2L482.2 951.9L483.8 952.3L485.3 952.7L486.9 952.9L488.5 953.3L490.1 954.0L491.7 954.6L493.3 955.2L494.9 955.3L496.4 955.3L498.0 955.7L499.6 956.0L501.2 956.5L502.8 956.6L504.4 957.0L506.0 957.3L507.6 957.7L509.1 958.2L510.7 958.5L512.3 959.1L513.9 959.2L515.5 959.3L517.1 959.3L518.7 959.7L520.2 959.7L521.8 959.9L523.4 960.1L525.0 960.4L526.6 960.3L528.2 960.3L529.8 960.9L531.4 961.3L532.9 961.4L534.5 961.3L536.1 961.2L537.7 961.6L539.3 961.6L540.9 962.1L542.5 961.8L544.1 962.0L545.6 961.9L547.2 962.3L548.8 962.6L550.4 963.0L552.0 963.1L553.6 963.1L555.2 962.9L556.7 962.7L558.3 962.7L559.9 963.0L561.5 963.3L563.1 963.5L564.7 963.3L566.3 963.3L567.9 963.2L569.4 963.5L571.0 963.9L572.6 964.1L574.2 964.3L575.8 964.1L577.4 964.0L579.0 964.0L580.5 964.2L582.1 964.0L583.7 964.1L585.3 964.2L586.9 964.5L588.5 964.5L590.1 964.5L591.7 964.5L593.2 964.2L594.8 964.4L596.4 964.5L598.0 964.8L599.6 964.6L601.2 964.7L602.8 964.8" stroke="#0b2278" stroke-width="2.9"/>
<path d="M95.0 965.0L96.6 964.9L98.2 964.9L99.8 964.8L101.3 964.8L102.9 964.6L104.5 964.6L106.1 964.4L107.7 964.4L109.3 964.1L110.9 964.1L112.5 964.1L114.0 964.1L115.6 963.8L117.2 963.9L118.8 963.8L120.4 963.9L122.0 963.8L123.6 963.7L125.1 963.7L126.7 963.2L128.3 963.2L129.9 963.2L131.5 963.3L133.1 963.1L134.7 963.1L136.3 963.1L137.8 963.0L139.4 962.6L141.0 962.4L142.6 962.2L144.2 962.1L145.8 962.1L147.4 962.2L148.9 962.1L150.5 962.0L152.1 961.8L153.7 961.6L155.3 961.6L156.9 961.2L158.5 960.7L160.1 960.5L161.6 960.4L163.2 960.6L164.8 960.1L166.4 959.9L168.0 959.7L169.6 959.6L171.2 959.4L172.8 959.4L174.3 959.0L175.9 958.8L177.5 958.3L179.1 958.1L180.7 957.6L182.3 957.3L183.9 956.9L185.4 956.8L187.0 956.4L188.6 956.2L190.2 955.6L191.8 955.3L193.4 954.7L195.0 954.6L196.6 954.1L198.1 954.0L199.7 953.0L201.3 952.9L202.9 952.3L204.5 952.2L206.1 951.1L207.7 950.5L209.2 949.7L210.8 949.4L212.4 948.8L214.0 948.2L215.6 947.4L217.2 946.4L218.8 945.4L220.4 944.8L221.9 944.0L223.5 943.5L225.1 942.5L226.7 941.3L228.3 940.3L229.9 939.5L231.5 939.0L233.0 938.3L234.6 937.1L236.2 936.2L237.8 935.2L239.4 934.5L241.0 933.3L242.6 931.6L244.2 931.0L245.7 929.7L247.3 928.8L248.9 927.4L250.5 926.4L252.1 925.3L253.7 923.5L255.3 922.3L256.8 921.5L258.4 920.3L260.0 918.5L261.6 916.9L263.2 916.3L264.8 915.0L266.4 913.6L268.0 911.5L269.5 910.5L271.1 909.1L272.7 908.1L274.3 906.4L275.9 904.5L277.5 903.5L279.1 902.8L280.6 901.3L282.2 899.4L283.8 898.1L285.4 897.2L287.0 895.8L288.6 894.0L290.2 892.8L291.8 891.5L293.3 890.2L294.9 888.7L296.5 887.5L298.1 886.2L299.7 885.0L301.3 883.1L302.9 881.7L304.5 880.5L306.0 879.5L307.6 878.3L309.2 876.8L310.8 875.7L312.4 874.2L314.0 873.1L315.6 872.3L317.1 872.0L318.7 871.3L320.3 870.2L321.9 869.3L323.5 869.2L325.1 869.2L326.7 868.4L328.3 867.0L329.8 865.6L331.4 865.5L333.0 864.9L334.6 864.9L336.2 864.0L337.8 863.8L339.4 863.6L340.9 863.7L342.5 864.4L344.1 864.3L345.7 864.6L347.3 863.7L348.9 863.5L350.5 862.7L352.1 862.8L353.6 863.3L355.2 863.7L356.8 864.3L358.4 864.3L360.0 864.8L361.6 865.4L363.2 866.2L364.7 866.9L366.3 867.3L367.9 867.7L369.5 868.0L371.1 868.8L372.7 870.1L374.3 872.2L375.9 873.1L377.4 874.1L379.0 875.1L380.6 876.0L382.2 876.8L383.8 877.5L385.4 878.9L387.0 880.6L388.5 881.4L390.1 883.0L391.7 884.1L393.3 885.0L394.9 885.9L396.5 887.1L398.1 889.1L399.7 890.8L401.2 892.3L402.8 893.6L404.4 895.0L406.0 896.3L407.6 897.6L409.2 898.5L410.8 900.4L412.4 902.5L413.9 904.6L415.5 905.4L417.1 906.4L418.7 907.3L420.3 909.2L421.9 911.1L423.5 912.7L425.0 913.8L426.6 915.2L428.2 916.5L429.8 917.8L431.4 918.9L433.0 920.5L434.6 922.4L436.2 923.8L437.7 924.8L439.3 925.7L440.9 926.9L442.5 928.3L444.1 929.3L445.7 930.4L447.3 931.4L448.8 932.8L450.4 934.0L452.0 935.1L453.6 936.1L455.2 937.3L456.8 938.4L458.4 938.9L460.0 939.6L461.5 940.2L463.1 941.3L464.7 942.3L466.3 943.6L467.9 944.5L469.5 945.0L471.1 945.4L472.6 946.0L474.2 946.8L475.8 947.5L477.4 948.4L479.0 949.1L480.6 949.6L482.2 950.1L483.8 950.6L485.3 951.2L486.9 952.0L488.5 952.6L490.1 953.2L491.7 953.5L493.3 954.2L494.9 954.5L496.4 954.7L498.0 954.9L499.6 955.4L501.2 956.1L502.8 956.2L504.4 956.4L506.0 956.7L507.6 957.1L509.1 957.5L510.7 957.4L512.3 957.7L513.9 958.0L515.5 958.7L517.1 958.9L518.7 959.0L520.2 959.1L521.8 959.3L523.4 959.8L525.0 960.0L526.6 960.2L528.2 960.3L529.8 960.7L531.4 960.9L532.9 961.1L534.5 961.1L536.1 961.4L537.7 961.4L539.3 961.5L540.9 961.6L542.5 961.8L544.1 962.1L545.6 961.9L547.2 962.3L548.8 962.3L550.4 962.8L552.0 962.6L553.6 962.6L555.2 962.5L556.7 962.6L558.3 962.9L559.9 962.6L561.5 962.6L563.1 962.5L564.7 963.0L566.3 963.3L567.9 963.4L569.4 963.3L571.0 963.3L572.6 963.5L574.2 963.7L575.8 963.6L577.4 963.7L579.0 963.6L580.5 963.8L582.1 963.8L583.7 964.1L585.3 963.9L586.9 963.9L588.5 963.7L590.1 963.8L591.7 964.0L593.2 964.5L594.8 964.5L596.4 964.7L598.0 964.4L599.6 964.5L601.2 964.7L602.8 964.9" stroke="#2e4e94" stroke-width="2.9"/>
<path d="M95.0 964.6L96.6 964.6L98.2 964.2L99.8 964.4L101.3 964.5L102.9 964.6L104.5 964.4L106.1 963.8L107.7 963.6L109.3 963.6L110.9 963.8L112.5 964.0L114.0 964.1L115.6 964.1L117.2 964.0L118.8 964.2L120.4 964.0L122.0 963.9L123.6 963.2L125.1 963.0L126.7 963.0L128.3 963.1L129.9 963.3L131.5 963.2L133.1 963.4L134.7 963.0L136.3 962.7L137.8 962.5L139.4 962.6L141.0 962.4L142.6 962.1L144.2 961.9L145.8 962.0L147.4 962.0L148.9 961.9L150.5 961.6L152.1 961.4L153.7 961.4L155.3 961.2L156.9 961.1L158.5 960.6L160.1 960.5L161.6 960.1L163.2 959.8L164.8 959.5L166.4 959.3L168.0 959.5L169.6 959.4L171.2 959.2L172.8 958.6L174.3 958.1L175.9 957.5L177.5 957.4L179.1 957.3L180.7 957.2L182.3 956.9L183.9 956.6L185.4 956.5L187.0 956.0L188.6 955.7L190.2 955.1L191.8 955.0L193.4 954.3L195.0 954.0L196.6 953.2L198.1 953.1L199.7 952.5L201.3 951.9L202.9 951.2L204.5 950.6L206.1 950.2L207.7 949.8L209.2 949.1L210.8 948.3L212.4 947.4L214.0 946.6L215.6 946.1L217.2 945.3L218.8 944.5L220.4 943.7L221.9 942.2L223.5 941.6L225.1 940.4L226.7 939.7L228.3 938.8L229.9 938.2L231.5 937.3L233.0 935.9L234.6 934.4L236.2 933.2L237.8 932.0L239.4 931.1L241.0 930.6L242.6 929.3L244.2 928.0L245.7 926.0L247.3 924.7L248.9 923.4L250.5 921.7L252.1 920.1L253.7 918.1L255.3 917.3L256.8 916.1L258.4 914.9L260.0 913.2L261.6 911.8L263.2 910.0L264.8 908.2L266.4 906.2L268.0 904.8L269.5 902.8L271.1 901.2L272.7 900.0L274.3 898.8L275.9 897.2L277.5 894.5L279.1 892.6L280.6 890.9L282.2 889.6L283.8 887.6L285.4 885.9L287.0 884.1L288.6 882.8L290.2 880.8L291.8 879.0L293.3 877.6L294.9 875.9L296.5 874.2L298.1 871.9L299.7 870.3L301.3 868.1L302.9 866.3L304.5 865.0L306.0 863.9L307.6 863.2L309.2 861.0L310.8 859.3L312.4 857.0L314.0 856.3L315.6 855.9L317.1 854.6L318.7 853.2L320.3 851.3L321.9 850.7L323.5 849.5L325.1 848.3L326.7 848.0L328.3 847.0L329.8 846.5L331.4 845.4L333.0 844.5L334.6 843.3L336.2 842.7L337.8 843.6L339.4 843.5L340.9 842.8L342.5 841.9L344.1 842.2L345.7 842.6L347.3 843.0L348.9 842.5L350.5 842.0L352.1 841.3L353.6 841.9L355.2 842.5L356.8 843.0L358.4 843.4L360.0 844.1L361.6 844.2L363.2 844.6L364.7 845.0L366.3 846.8L367.9 847.7L369.5 849.6L371.1 850.5L372.7 851.2L374.3 851.0L375.9 851.8L377.4 853.2L379.0 855.3L380.6 857.2L382.2 858.9L383.8 860.2L385.4 861.8L387.0 862.9L388.5 865.0L390.1 867.0L391.7 869.2L393.3 871.1L394.9 872.7L396.5 873.7L398.1 875.0L399.7 876.3L401.2 878.0L402.8 879.4L404.4 881.4L406.0 883.2L407.6 885.3L409.2 886.9L410.8 889.0L412.4 891.3L413.9 893.4L415.5 895.3L417.1 896.6L418.7 898.3L420.3 900.1L421.9 901.7L423.5 903.0L425.0 904.6L426.6 906.2L428.2 908.4L429.8 910.3L431.4 912.2L433.0 913.8L434.6 915.4L436.2 916.7L437.7 918.2L439.3 919.8L440.9 921.6L442.5 922.6L444.1 923.8L445.7 925.0L447.3 926.9L448.8 928.3L450.4 930.0L452.0 931.2L453.6 932.0L455.2 933.3L456.8 934.1L458.4 935.8L460.0 936.7L461.5 937.9L463.1 938.6L464.7 939.6L466.3 941.0L467.9 941.9L469.5 943.1L471.1 943.2L472.6 944.2L474.2 944.8L475.8 946.2L477.4 947.0L479.0 947.9L480.6 948.3L482.2 948.9L483.8 949.3L485.3 950.1L486.9 950.8L488.5 951.2L490.1 951.8L491.7 952.5L493.3 953.2L494.9 953.7L496.4 953.9L498.0 954.3L499.6 954.6L501.2 954.9L502.8 955.5L504.4 955.5L506.0 955.8L507.6 956.1L509.1 956.7L510.7 957.3L512.3 957.5L513.9 957.6L515.5 957.9L517.1 958.1L518.7 958.7L520.2 958.8L521.8 959.4L523.4 959.2L525.0 959.2L526.6 959.2L528.2 959.7L529.8 959.8L531.4 960.3L532.9 960.3L534.5 960.4L536.1 960.3L537.7 960.4L539.3 960.8L540.9 961.0L542.5 961.1L544.1 961.2L545.6 961.2L547.2 961.3L548.8 961.6L550.4 961.7L552.0 961.9L553.6 961.7L555.2 961.8L556.7 961.9L558.3 962.6L559.9 962.7L561.5 962.6L563.1 962.5L564.7 963.0L566.3 963.3L567.9 963.2L569.4 963.1L571.0 963.1L572.6 963.3L574.2 963.1L575.8 963.1L577.4 963.3L579.0 963.6L580.5 963.4L582.1 963.3L583.7 963.4L585.3 963.8L586.9 964.1L588.5 964.1L590.1 964.1L591.7 963.9L593.2 964.0L594.8 963.9L596.4 964.0L598.0 964.1L599.6 964.3L601.2 964.5L602.8 964.3" stroke="#5b78ab" stroke-width="2.9"/>
<path d="M95.0 964.6L96.6 964.7L98.2 964.5L99.8 964.3L101.3 964.0L102.9 964.1L104.5 964.0L106.1 964.1L107.7 964.1L109.3 964.2L110.9 964.3L112.5 964.1L114.0 963.9L115.6 963.7L117.2 963.5L118.8 963.5L120.4 963.4L122.0 963.6L123.6 963.4L125.1 963.5L126.7 963.2L128.3 963.2L129.9 962.9L131.5 963.0L133.1 963.1L134.7 963.0L136.3 962.6L137.8 962.2L139.4 962.0L141.0 961.7L142.6 961.6L144.2 961.6L145.8 961.7L147.4 961.8L148.9 961.7L150.5 961.4L152.1 961.1L153.7 960.8L155.3 960.7L156.9 960.5L158.5 960.3L160.1 960.0L161.6 959.9L163.2 959.8L164.8 959.7L166.4 959.5L168.0 959.1L169.6 958.8L171.2 958.7L172.8 958.1L174.3 957.9L175.9 957.6L177.5 957.6L179.1 957.3L180.7 956.9L182.3 956.4L183.9 955.7L185.4 955.3L187.0 955.0L188.6 954.7L190.2 954.3L191.8 953.9L193.4 953.5L195.0 953.2L196.6 952.5L198.1 951.8L199.7 951.2L201.3 951.0L202.9 950.3L204.5 949.4L206.1 948.2L207.7 947.7L209.2 947.5L210.8 946.9L212.4 946.3L214.0 945.2L215.6 944.5L217.2 943.3L218.8 942.3L220.4 941.6L221.9 940.7L223.5 940.1L225.1 938.9L226.7 938.0L228.3 936.8L229.9 935.2L231.5 934.2L233.0 932.7L234.6 931.2L236.2 929.5L237.8 928.2L239.4 927.3L241.0 926.2L242.6 924.8L244.2 923.2L245.7 921.2L247.3 919.2L248.9 917.5L250.5 915.9L252.1 914.4L253.7 913.2L255.3 911.8L256.8 910.5L258.4 908.5L260.0 906.2L261.6 904.3L263.2 901.7L264.8 899.5L266.4 897.3L268.0 895.8L269.5 894.0L271.1 891.9L272.7 890.0L274.3 888.0L275.9 885.9L277.5 883.4L279.1 880.9L280.6 878.6L282.2 876.7L283.8 875.0L285.4 873.5L287.0 870.8L288.6 869.0L290.2 866.3L291.8 864.2L293.3 861.4L294.9 859.6L296.5 858.1L298.1 855.7L299.7 853.7L301.3 850.6L302.9 849.1L304.5 846.7L306.0 844.6L307.6 842.7L309.2 840.6L310.8 840.0L312.4 838.0L314.0 836.9L315.6 834.7L317.1 833.4L318.7 831.6L320.3 829.4L321.9 828.7L323.5 827.4L325.1 827.1L326.7 824.6L328.3 823.6L329.8 822.0L331.4 821.6L333.0 820.1L334.6 819.0L336.2 818.1L337.8 817.6L339.4 817.9L340.9 816.9L342.5 816.0L344.1 815.0L345.7 814.2L347.3 815.1L348.9 815.3L350.5 816.2L352.1 815.4L353.6 814.5L355.2 814.0L356.8 814.0L358.4 813.9L360.0 814.5L361.6 815.5L363.2 817.0L364.7 816.6L366.3 818.0L367.9 818.6L369.5 820.1L371.1 820.2L372.7 821.9L374.3 824.1L375.9 825.7L377.4 826.7L379.0 829.0L380.6 831.0L382.2 833.5L383.8 834.9L385.4 836.9L387.0 839.4L388.5 842.7L390.1 845.4L391.7 847.0L393.3 848.6L394.9 851.1L396.5 853.3L398.1 856.3L399.7 858.5L401.2 861.9L402.8 863.9L404.4 866.5L406.0 868.2L407.6 870.9L409.2 873.4L410.8 876.7L412.4 878.5L413.9 880.8L415.5 882.5L417.1 885.1L418.7 887.3L420.3 889.3L421.9 891.3L423.5 893.2L425.0 895.4L426.6 897.6L428.2 900.2L429.8 902.1L431.4 904.0L433.0 905.3L434.6 908.0L436.2 910.3L437.7 912.9L439.3 914.4L440.9 915.6L442.5 916.7L444.1 918.2L445.7 920.1L447.3 921.6L448.8 923.3L450.4 924.8L452.0 926.4L453.6 928.2L455.2 929.8L456.8 930.9L458.4 931.9L460.0 933.1L461.5 934.7L463.1 935.9L464.7 936.8L466.3 937.9L467.9 939.1L469.5 940.8L471.1 941.9L472.6 943.0L474.2 943.7L475.8 944.3L477.4 944.7L479.0 945.6L480.6 946.4L482.2 947.2L483.8 947.7L485.3 948.4L486.9 949.4L488.5 950.1L490.1 951.0L491.7 951.5L493.3 951.7L494.9 952.3L496.4 952.8L498.0 953.5L499.6 953.7L501.2 954.1L502.8 954.2L504.4 954.7L506.0 955.3L507.6 955.8L509.1 956.1L510.7 956.3L512.3 956.5L513.9 956.6L515.5 956.8L517.1 957.1L518.7 957.5L520.2 957.7L521.8 958.1L523.4 958.7L525.0 958.7L526.6 958.8L528.2 958.8L529.8 959.1L531.4 959.2L532.9 959.2L534.5 959.6L536.1 959.9L537.7 960.2L539.3 960.1L540.9 960.3L542.5 960.5L544.1 960.8L545.6 961.2L547.2 961.2L548.8 961.4L550.4 961.2L552.0 961.5L553.6 961.6L555.2 961.9L556.7 962.0L558.3 962.0L559.9 962.0L561.5 961.9L563.1 962.3L564.7 962.3L566.3 962.7L567.9 962.7L569.4 962.9L571.0 962.7L572.6 962.7L574.2 962.8L575.8 962.8L577.4 962.9L579.0 962.9L580.5 963.0L582.1 963.1L583.7 963.3L585.3 963.5L586.9 963.6L588.5 963.6L590.1 963.6L591.7 963.5L593.2 963.6L594.8 964.0L596.4 964.2L598.0 964.2L599.6 964.0L601.2 964.1L602.8 964.2" stroke="#88aac2" stroke-width="2.9"/>
<path d="M95.0 964.5L96.6 964.5L98.2 964.3L99.8 964.1L101.3 964.0L102.9 964.2L104.5 964.4L106.1 964.6L107.7 964.4L109.3 964.1L110.9 963.8L112.5 963.7L114.0 963.6L115.6 963.7L117.2 963.7L118.8 963.9L120.4 963.8L122.0 963.3L123.6 963.2L125.1 962.9L126.7 962.8L128.3 962.5L129.9 962.6L131.5 962.7L133.1 962.6L134.7 962.4L136.3 962.2L137.8 961.9L139.4 961.7L141.0 961.6L142.6 961.5L144.2 961.5L145.8 961.4L147.4 961.4L148.9 961.2L150.5 961.1L152.1 960.9L153.7 960.5L155.3 960.5L156.9 960.3L158.5 960.4L160.1 960.3L161.6 960.1L163.2 960.1L164.8 959.8L166.4 959.5L168.0 959.0L169.6 958.5L171.2 958.1L172.8 957.7L174.3 957.5L175.9 957.3L177.5 957.0L179.1 956.9L180.7 956.6L182.3 956.1L183.9 955.6L185.4 955.1L187.0 954.8L188.6 954.3L190.2 954.1L191.8 953.8L193.4 953.6L195.0 952.9L196.6 952.4L198.1 951.5L199.7 950.8L201.3 950.3L202.9 949.8L204.5 949.4L206.1 948.6L207.7 947.8L209.2 946.8L210.8 946.3L212.4 945.7L214.0 944.8L215.6 943.5L217.2 942.3L218.8 941.7L220.4 940.7L221.9 940.0L223.5 938.6L225.1 937.5L226.7 936.1L228.3 935.1L229.9 933.9L231.5 933.0L233.0 931.9L234.6 930.4L236.2 928.8L237.8 927.4L239.4 926.3L241.0 924.7L242.6 922.5L244.2 920.5L245.7 918.6L247.3 917.7L248.9 916.2L250.5 914.5L252.1 912.2L253.7 910.2L255.3 908.5L256.8 906.2L258.4 903.9L260.0 901.9L261.6 900.5L263.2 898.3L264.8 896.2L266.4 893.5L268.0 891.3L269.5 889.2L271.1 887.2L272.7 885.6L274.3 882.9L275.9 880.6L277.5 877.5L279.1 875.2L280.6 872.9L282.2 870.8L283.8 868.6L285.4 866.4L287.0 863.6L288.6 861.4L290.2 859.0L291.8 857.4L293.3 855.1L294.9 853.4L296.5 850.7L298.1 848.3L299.7 845.4L301.3 843.7L302.9 841.5L304.5 839.5L306.0 837.2L307.6 833.7L309.2 830.9L310.8 828.7L312.4 828.2L314.0 826.6L315.6 825.5L317.1 822.8L318.7 821.1L320.3 818.9L321.9 817.7L323.5 816.3L325.1 815.4L326.7 813.7L328.3 812.7L329.8 811.2L331.4 810.3L333.0 808.9L334.6 807.1L336.2 805.4L337.8 803.9L339.4 802.9L340.9 802.4L342.5 801.3L344.1 801.4L345.7 800.4L347.3 800.5L348.9 799.6L350.5 799.2L352.1 798.5L353.6 797.3L355.2 796.5L356.8 797.3L358.4 797.6L360.0 797.3L361.6 796.2L363.2 796.0L364.7 797.5L366.3 799.5L367.9 801.8L369.5 802.8L371.1 803.2L372.7 804.7L374.3 807.0L375.9 809.4L377.4 812.0L379.0 814.4L380.6 816.3L382.2 817.2L383.8 819.8L385.4 822.5L387.0 826.5L388.5 829.6L390.1 834.1L391.7 836.4L393.3 839.1L394.9 840.3L396.5 843.4L398.1 846.1L399.7 850.4L401.2 852.8L402.8 855.7L404.4 857.9L406.0 861.8L407.6 864.1L409.2 866.3L410.8 868.4L412.4 871.2L413.9 873.9L415.5 876.0L417.1 878.4L418.7 880.5L420.3 883.3L421.9 885.9L423.5 888.8L425.0 891.8L426.6 894.1L428.2 895.9L429.8 897.4L431.4 899.6L433.0 901.9L434.6 904.6L436.2 906.5L437.7 908.4L439.3 909.8L440.9 911.8L442.5 913.6L444.1 915.2L445.7 916.9L447.3 918.7L448.8 921.1L450.4 923.1L452.0 924.7L453.6 926.0L455.2 927.0L456.8 928.7L458.4 930.2L460.0 931.5L461.5 932.3L463.1 933.6L464.7 935.3L466.3 936.6L467.9 937.6L469.5 938.3L471.1 939.5L472.6 940.3L474.2 941.4L475.8 942.3L477.4 943.9L479.0 944.8L480.6 945.9L482.2 946.4L483.8 947.0L485.3 947.7L486.9 948.1L488.5 949.0L490.1 949.6L491.7 950.4L493.3 951.0L494.9 951.4L496.4 951.9L498.0 952.3L499.6 952.5L501.2 953.1L502.8 953.4L504.4 954.3L506.0 954.9L507.6 955.4L509.1 955.7L510.7 955.8L512.3 956.0L513.9 956.6L515.5 956.9L517.1 957.6L518.7 957.3L520.2 957.5L521.8 957.6L523.4 958.2L525.0 958.2L526.6 958.4L528.2 958.4L529.8 959.0L531.4 959.0L532.9 959.2L534.5 959.0L536.1 959.2L537.7 959.4L539.3 959.7L540.9 959.9L542.5 960.0L544.1 960.1L545.6 960.4L547.2 960.7L548.8 960.7L550.4 960.7L552.0 960.8L553.6 960.7L555.2 961.2L556.7 961.3L558.3 961.5L559.9 961.5L561.5 961.8L563.1 961.9L564.7 961.9L566.3 962.0L567.9 962.2L569.4 962.5L571.0 962.6L572.6 962.8L574.2 962.9L575.8 962.9L577.4 963.1L579.0 963.2L580.5 963.2L582.1 963.2L583.7 963.1L585.3 963.2L586.9 963.5L588.5 963.8L590.1 963.9L591.7 963.6L593.2 963.4L594.8 963.5L596.4 963.7L598.0 964.0L599.6 963.9L601.2 964.1L602.8 963.9" stroke="#c7a5ae" stroke-width="2.9"/>
<path d="M95.0 964.6L96.6 964.5L98.2 964.4L99.8 964.0L101.3 963.9L102.9 963.7L104.5 963.9L106.1 964.1L107.7 964.2L109.3 964.0L110.9 963.6L112.5 963.3L114.0 963.2L115.6 963.3L117.2 963.2L118.8 963.3L120.4 963.2L122.0 962.9L123.6 962.5L125.1 962.4L126.7 962.5L128.3 962.4L129.9 962.0L131.5 962.0L133.1 962.2L134.7 962.2L136.3 961.8L137.8 961.7L139.4 961.5L141.0 961.6L142.6 961.0L144.2 960.9L145.8 960.7L147.4 960.9L148.9 960.7L150.5 960.4L152.1 960.3L153.7 960.3L155.3 960.4L156.9 960.1L158.5 960.2L160.1 960.0L161.6 959.7L163.2 959.5L164.8 959.0L166.4 958.6L168.0 958.2L169.6 958.2L171.2 957.9L172.8 957.9L174.3 957.7L175.9 957.4L177.5 956.7L179.1 956.0L180.7 955.8L182.3 955.7L183.9 955.5L185.4 955.0L187.0 954.5L188.6 954.1L190.2 953.9L191.8 953.5L193.4 952.7L195.0 951.9L196.6 951.4L198.1 951.1L199.7 950.6L201.3 949.7L202.9 949.0L204.5 948.3L206.1 948.0L207.7 947.2L209.2 946.3L210.8 945.0L212.4 944.1L214.0 943.3L215.6 942.4L217.2 941.3L218.8 940.2L220.4 939.2L221.9 937.9L223.5 936.4L225.1 935.2L226.7 934.1L228.3 933.0L229.9 931.8L231.5 930.6L233.0 929.3L234.6 927.6L236.2 926.1L237.8 924.1L239.4 922.6L241.0 920.6L242.6 918.9L244.2 917.0L245.7 914.9L247.3 913.2L248.9 911.4L250.5 909.7L252.1 907.1L253.7 904.7L255.3 902.7L256.8 901.1L258.4 899.3L260.0 896.7L261.6 894.3L263.2 891.0L264.8 889.1L266.4 886.4L268.0 884.4L269.5 881.6L271.1 879.3L272.7 877.0L274.3 874.2L275.9 871.1L277.5 868.8L279.1 865.6L280.6 863.4L282.2 859.6L283.8 857.1L285.4 853.8L287.0 851.3L288.6 848.3L290.2 845.9L291.8 843.7L293.3 841.1L294.9 838.1L296.5 834.2L298.1 832.5L299.7 830.2L301.3 828.0L302.9 825.1L304.5 822.5L306.0 819.5L307.6 815.9L309.2 813.7L310.8 811.6L312.4 809.3L314.0 806.3L315.6 804.6L317.1 802.8L318.7 801.5L320.3 799.9L321.9 797.7L323.5 795.3L325.1 792.3L326.7 791.0L328.3 790.5L329.8 789.8L331.4 787.9L333.0 784.9L334.6 783.1L336.2 782.0L337.8 779.9L339.4 778.7L340.9 776.4L342.5 775.8L344.1 774.5L345.7 772.6L347.3 772.3L348.9 770.7L350.5 769.9L352.1 767.5L353.6 765.5L355.2 764.8L356.8 764.0L358.4 762.6L360.0 762.3L361.6 762.0L363.2 763.9L364.7 764.6L366.3 765.0L367.9 765.2L369.5 766.3L371.1 768.8L372.7 770.9L374.3 774.3L375.9 776.8L377.4 780.3L379.0 783.2L380.6 786.4L382.2 790.3L383.8 794.1L385.4 797.2L387.0 800.6L388.5 803.7L390.1 808.5L391.7 812.5L393.3 816.6L394.9 820.1L396.5 823.4L398.1 827.6L399.7 831.7L401.2 836.2L402.8 841.0L404.4 845.0L406.0 848.3L407.6 850.1L409.2 853.0L410.8 855.7L412.4 858.6L413.9 861.5L415.5 864.4L417.1 867.2L418.7 869.8L420.3 873.4L421.9 876.2L423.5 879.2L425.0 881.7L426.6 884.7L428.2 887.4L429.8 889.5L431.4 891.8L433.0 893.8L434.6 896.3L436.2 899.1L437.7 901.8L439.3 903.9L440.9 906.0L442.5 907.4L444.1 909.8L445.7 911.9L447.3 914.2L448.8 915.9L450.4 917.7L452.0 919.8L453.6 921.6L455.2 923.2L456.8 924.6L458.4 926.3L460.0 928.0L461.5 929.4L463.1 930.6L464.7 932.7L466.3 934.3L467.9 935.9L469.5 936.6L471.1 937.6L472.6 938.4L474.2 939.3L475.8 940.4L477.4 941.6L479.0 942.3L480.6 943.3L482.2 944.1L483.8 945.0L485.3 945.7L486.9 946.8L488.5 947.7L490.1 948.5L491.7 948.8L493.3 949.4L494.9 949.8L496.4 950.4L498.0 951.0L499.6 951.5L501.2 951.9L502.8 952.5L504.4 952.9L506.0 953.4L507.6 953.9L509.1 954.3L510.7 954.8L512.3 955.2L513.9 955.4L515.5 955.6L517.1 955.7L518.7 956.2L520.2 956.5L521.8 956.7L523.4 956.9L525.0 957.3L526.6 957.4L528.2 957.7L529.8 957.7L531.4 958.3L532.9 958.5L534.5 958.7L536.1 958.7L537.7 958.8L539.3 959.1L540.9 959.3L542.5 959.4L544.1 959.9L545.6 960.0L547.2 960.3L548.8 960.0L550.4 960.0L552.0 960.2L553.6 960.2L555.2 960.5L556.7 960.8L558.3 961.5L559.9 961.3L561.5 961.2L563.1 961.1L564.7 961.6L566.3 961.8L567.9 961.7L569.4 961.7L571.0 961.5L572.6 961.8L574.2 962.2L575.8 962.4L577.4 962.6L579.0 962.4L580.5 962.4L582.1 962.5L583.7 962.4L585.3 962.8L586.9 962.9L588.5 963.1L590.1 963.3L591.7 963.1L593.2 963.1L594.8 963.2L596.4 963.3L598.0 963.5L599.6 963.6L601.2 963.6L602.8 963.8" stroke="#f28a8d" stroke-width="2.9"/>
<path d="M95.0 964.2L96.6 964.1L98.2 964.0L99.8 963.7L101.3 963.5L102.9 963.5L104.5 963.3L106.1 963.4L107.7 963.4L109.3 963.4L110.9 963.3L112.5 963.0L114.0 962.8L115.6 962.8L117.2 962.7L118.8 962.6L120.4 962.7L122.0 962.7L123.6 962.7L125.1 962.4L126.7 962.2L128.3 962.0L129.9 962.0L131.5 961.7L133.1 961.5L134.7 961.5L136.3 961.4L137.8 961.5L139.4 960.9L141.0 960.8L142.6 960.5L144.2 960.6L145.8 960.4L147.4 960.2L148.9 959.8L150.5 959.6L152.1 959.3L153.7 959.2L155.3 959.2L156.9 958.9L158.5 958.7L160.1 958.3L161.6 958.4L163.2 958.1L164.8 958.0L166.4 957.7L168.0 957.3L169.6 957.0L171.2 956.6L172.8 956.7L174.3 956.3L175.9 955.8L177.5 955.4L179.1 955.0L180.7 954.6L182.3 954.5L183.9 954.3L185.4 954.3L187.0 953.6L188.6 952.9L190.2 952.1L191.8 951.8L193.4 951.5L195.0 950.9L196.6 950.2L198.1 949.6L199.7 949.0L201.3 948.5L202.9 947.7L204.5 946.9L206.1 945.7L207.7 945.2L209.2 944.5L210.8 943.8L212.4 942.6L214.0 941.5L215.6 940.3L217.2 938.9L218.8 937.5L220.4 936.5L221.9 935.7L223.5 934.3L225.1 932.9L226.7 931.1L228.3 929.7L229.9 928.2L231.5 927.0L233.0 925.6L234.6 924.0L236.2 922.5L237.8 920.8L239.4 918.5L241.0 916.5L242.6 914.5L244.2 912.7L245.7 910.8L247.3 908.3L248.9 906.5L250.5 904.1L252.1 902.0L253.7 899.3L255.3 896.5L256.8 893.8L258.4 891.1L260.0 888.5L261.6 886.5L263.2 883.4L264.8 880.6L266.4 877.4L268.0 874.2L269.5 871.1L271.1 867.7L272.7 864.9L274.3 862.4L275.9 859.7L277.5 856.6L279.1 853.5L280.6 849.9L282.2 846.9L283.8 843.0L285.4 840.6L287.0 837.3L288.6 834.1L290.2 830.6L291.8 827.3L293.3 825.1L294.9 821.2L296.5 818.5L298.1 815.3L299.7 813.2L301.3 809.9L302.9 805.6L304.5 802.6L306.0 799.0L307.6 796.8L309.2 792.4L310.8 789.4L312.4 785.2L314.0 784.0L315.6 781.3L317.1 780.1L318.7 776.8L320.3 774.3L321.9 772.1L323.5 770.6L325.1 769.2L326.7 766.8L328.3 764.2L329.8 761.8L331.4 759.4L333.0 756.5L334.6 753.2L336.2 750.6L337.8 748.3L339.4 745.9L340.9 742.5L342.5 739.6L344.1 736.1L345.7 732.4L347.3 728.4L348.9 725.8L350.5 722.0L352.1 718.2L353.6 715.4L355.2 713.9L356.8 711.7L358.4 709.8L360.0 707.6L361.6 707.0L363.2 706.1L364.7 706.2L366.3 707.6L367.9 708.5L369.5 711.3L371.1 711.1L372.7 712.8L374.3 714.4L375.9 719.8L377.4 724.8L379.0 729.9L380.6 735.0L382.2 740.9L383.8 748.2L385.4 754.7L387.0 761.8L388.5 768.2L390.1 775.3L391.7 781.0L393.3 785.9L394.9 791.9L396.5 796.9L398.1 802.3L399.7 807.1L401.2 813.2L402.8 818.7L404.4 822.7L406.0 827.2L407.6 831.9L409.2 836.2L410.8 840.8L412.4 844.2L413.9 847.6L415.5 850.4L417.1 853.7L418.7 857.3L420.3 860.6L421.9 864.1L423.5 867.7L425.0 871.1L426.6 874.3L428.2 876.6L429.8 879.1L431.4 881.8L433.0 885.2L434.6 888.7L436.2 891.5L437.7 893.6L439.3 895.9L440.9 898.4L442.5 901.4L444.1 903.6L445.7 905.9L447.3 908.0L448.8 910.3L450.4 912.1L452.0 914.2L453.6 915.9L455.2 917.9L456.8 919.7L458.4 921.7L460.0 923.7L461.5 925.6L463.1 927.4L464.7 929.1L466.3 930.3L467.9 931.7L469.5 932.8L471.1 934.1L472.6 935.9L474.2 937.1L475.8 938.7L477.4 939.2L479.0 940.5L480.6 941.2L482.2 941.9L483.8 943.0L485.3 943.8L486.9 944.9L488.5 945.7L490.1 946.3L491.7 947.0L493.3 947.5L494.9 948.3L496.4 948.5L498.0 949.0L499.6 949.7L501.2 950.9L502.8 951.4L504.4 951.6L506.0 951.9L507.6 952.4L509.1 952.7L510.7 953.2L512.3 953.6L513.9 954.1L515.5 954.4L517.1 954.4L518.7 954.5L520.2 954.8L521.8 955.2L523.4 955.5L525.0 955.4L526.6 955.8L528.2 956.0L529.8 956.4L531.4 956.7L532.9 956.9L534.5 957.2L536.1 957.3L537.7 957.5L539.3 957.6L540.9 957.5L542.5 957.8L544.1 958.1L545.6 958.1L547.2 958.4L548.8 958.6L550.4 959.0L552.0 959.0L553.6 959.1L555.2 959.3L556.7 959.4L558.3 959.5L559.9 959.7L561.5 959.9L563.1 960.3L564.7 960.4L566.3 960.6L567.9 960.9L569.4 960.9L571.0 960.8L572.6 960.6L574.2 960.7L575.8 961.2L577.4 961.3L579.0 961.7L580.5 961.7L582.1 961.8L583.7 962.0L585.3 962.0L586.9 962.3L588.5 962.3L590.1 962.7L591.7 962.8L593.2 962.9L594.8 962.8L596.4 962.8L598.0 963.0L599.6 963.3L601.2 963.6L602.8 963.7" stroke="#d9576a" stroke-width="2.9"/>
<path d="M95.0 964.0L96.6 964.1L98.2 963.9L99.8 963.9L101.3 963.5L102.9 963.7L104.5 963.9L106.1 964.0L107.7 963.4L109.3 963.1L110.9 963.0L112.5 963.0L114.0 962.8L115.6 962.4L117.2 962.4L118.8 962.3L120.4 962.0L122.0 961.8L123.6 961.7L125.1 961.7L126.7 961.7L128.3 961.7L129.9 961.5L131.5 961.4L133.1 961.2L134.7 960.9L136.3 960.7L137.8 960.4L139.4 960.6L141.0 960.4L142.6 960.4L144.2 960.2L145.8 960.2L147.4 959.8L148.9 959.4L150.5 959.2L152.1 959.3L153.7 959.3L155.3 959.0L156.9 958.5L158.5 958.5L160.1 958.4L161.6 958.5L163.2 958.1L164.8 957.5L166.4 957.2L168.0 956.6L169.6 956.4L171.2 956.3L172.8 956.6L174.3 956.2L175.9 955.7L177.5 955.1L179.1 954.7L180.7 954.4L182.3 953.8L183.9 953.5L185.4 953.2L187.0 953.1L188.6 952.9L190.2 952.5L191.8 951.8L193.4 950.9L195.0 949.8L196.6 949.2L198.1 948.7L199.7 948.5L201.3 947.7L202.9 946.8L204.5 945.9L206.1 945.2L207.7 944.3L209.2 943.6L210.8 942.6L212.4 941.7L214.0 940.4L215.6 939.5L217.2 938.1L218.8 936.6L220.4 934.9L221.9 934.1L223.5 933.2L225.1 932.0L226.7 930.5L228.3 929.0L229.9 928.0L231.5 925.7L233.0 923.6L234.6 921.4L236.2 919.9L237.8 918.3L239.4 916.5L241.0 914.4L242.6 912.4L244.2 909.8L245.7 907.9L247.3 905.6L248.9 903.2L250.5 900.7L252.1 897.9L253.7 895.7L255.3 893.7L256.8 891.0L258.4 888.6L260.0 884.8L261.6 882.5L263.2 879.8L264.8 877.0L266.4 873.4L268.0 869.7L269.5 867.0L271.1 863.7L272.7 861.0L274.3 857.4L275.9 854.7L277.5 851.0L279.1 847.1L280.6 843.7L282.2 839.9L283.8 836.5L285.4 833.4L287.0 830.6L288.6 827.6L290.2 823.6L291.8 819.5L293.3 816.7L294.9 812.7L296.5 809.0L298.1 804.8L299.7 802.3L301.3 799.3L302.9 796.2L304.5 791.9L306.0 788.7L307.6 784.9L309.2 782.3L310.8 778.4L312.4 776.9L314.0 774.3L315.6 771.8L317.1 768.6L318.7 764.9L320.3 763.0L321.9 759.4L323.5 757.6L325.1 754.5L326.7 751.7L328.3 748.5L329.8 745.6L331.4 741.6L333.0 738.5L334.6 735.7L336.2 733.1L337.8 729.2L339.4 724.2L340.9 719.8L342.5 716.9L344.1 712.7L345.7 708.7L347.3 703.6L348.9 699.5L350.5 697.6L352.1 693.5L353.6 688.0L355.2 682.9L356.8 678.9L358.4 676.5L360.0 671.8L361.6 667.8L363.2 667.6L364.7 667.1L366.3 667.5L367.9 668.0L369.5 669.8L371.1 671.7L372.7 673.3L374.3 677.3L375.9 685.6L377.4 692.4L379.0 699.0L380.6 704.5L382.2 711.9L383.8 717.9L385.4 725.8L387.0 734.4L388.5 744.1L390.1 752.1L391.7 759.6L393.3 767.3L394.9 774.1L396.5 780.8L398.1 788.1L399.7 795.0L401.2 800.9L402.8 806.4L404.4 811.3L406.0 816.4L407.6 821.6L409.2 826.6L410.8 830.7L412.4 834.0L413.9 838.3L415.5 842.7L417.1 847.4L418.7 851.7L420.3 855.4L421.9 858.7L423.5 861.5L425.0 865.0L426.6 868.3L428.2 871.9L429.8 874.9L431.4 877.8L433.0 880.7L434.6 883.6L436.2 887.2L437.7 890.2L439.3 892.8L440.9 894.5L442.5 896.8L444.1 899.8L445.7 903.0L447.3 905.4L448.8 907.5L450.4 909.8L452.0 911.9L453.6 914.1L455.2 915.7L456.8 918.0L458.4 919.9L460.0 922.1L461.5 923.4L463.1 925.1L464.7 926.7L466.3 928.3L467.9 929.6L469.5 930.9L471.1 932.1L472.6 933.9L474.2 934.9L475.8 936.3L477.4 937.7L479.0 938.7L480.6 939.9L482.2 940.5L483.8 941.8L485.3 942.6L486.9 943.7L488.5 944.5L490.1 945.4L491.7 946.1L493.3 946.4L494.9 947.2L496.4 947.7L498.0 948.6L499.6 949.0L501.2 949.3L502.8 949.6L504.4 950.1L506.0 950.8L507.6 951.3L509.1 951.6L510.7 951.8L512.3 952.2L513.9 953.0L515.5 953.1L517.1 953.3L518.7 953.2L520.2 953.8L521.8 954.3L523.4 954.7L525.0 955.1L526.6 955.3L528.2 955.5L529.8 955.9L531.4 956.1L532.9 956.2L534.5 956.2L536.1 956.4L537.7 957.0L539.3 957.1L540.9 957.4L542.5 957.4L544.1 957.8L545.6 958.0L547.2 958.1L548.8 958.0L550.4 958.3L552.0 958.3L553.6 958.6L555.2 958.9L556.7 959.1L558.3 959.3L559.9 959.2L561.5 959.4L563.1 959.6L564.7 959.7L566.3 959.7L567.9 959.7L569.4 959.9L571.0 960.1L572.6 960.3L574.2 960.5L575.8 960.6L577.4 960.9L579.0 961.1L580.5 961.0L582.1 961.2L583.7 961.4L585.3 961.9L586.9 962.0L588.5 962.1L590.1 962.3L591.7 962.7L593.2 962.8L594.8 963.0L596.4 962.8L598.0 963.0L599.6 962.7L601.2 962.7L602.8 962.8" stroke="#ae2440" stroke-width="2.9"/>
<path d="M95.0 964.0L96.6 963.9L98.2 963.6L99.8 963.2L101.3 963.1L102.9 963.3L104.5 963.1L106.1 963.1L107.7 962.8L109.3 962.8L110.9 962.7L112.5 962.6L114.0 962.5L115.6 962.2L117.2 962.1L118.8 962.0L120.4 961.9L122.0 961.8L123.6 961.7L125.1 961.5L126.7 961.5L128.3 961.5L129.9 961.5L131.5 961.3L133.1 961.0L134.7 960.6L136.3 960.6L137.8 960.4L139.4 960.7L141.0 960.4L142.6 960.4L144.2 960.2L145.8 960.1L147.4 959.9L148.9 959.4L150.5 959.0L152.1 958.9L153.7 958.5L155.3 958.3L156.9 958.1L158.5 957.9L160.1 957.6L161.6 957.3L163.2 957.2L164.8 957.0L166.4 956.6L168.0 956.5L169.6 956.4L171.2 956.0L172.8 955.8L174.3 955.4L175.9 955.4L177.5 954.9L179.1 954.5L180.7 954.0L182.3 953.6L183.9 953.1L185.4 952.9L187.0 952.5L188.6 951.9L190.2 951.0L191.8 950.3L193.4 949.8L195.0 949.2L196.6 948.6L198.1 948.0L199.7 947.2L201.3 946.4L202.9 945.5L204.5 944.6L206.1 943.9L207.7 943.3L209.2 942.4L210.8 941.5L212.4 940.3L214.0 939.4L215.6 938.0L217.2 936.8L218.8 935.7L220.4 934.6L221.9 933.2L223.5 931.7L225.1 930.4L226.7 929.1L228.3 927.5L229.9 925.6L231.5 923.6L233.0 921.3L234.6 919.2L236.2 917.2L237.8 915.4L239.4 913.2L241.0 911.4L242.6 909.3L244.2 907.2L245.7 904.8L247.3 902.6L248.9 900.3L250.5 897.8L252.1 895.3L253.7 892.3L255.3 889.4L256.8 886.2L258.4 883.3L260.0 880.1L261.6 877.2L263.2 874.2L264.8 871.7L266.4 869.0L268.0 866.3L269.5 861.9L271.1 858.3L272.7 854.0L274.3 850.5L275.9 846.4L277.5 842.4L279.1 838.6L280.6 834.3L282.2 830.3L283.8 827.0L285.4 823.9L287.0 820.9L288.6 817.6L290.2 814.0L291.8 811.1L293.3 806.1L294.9 802.0L296.5 797.6L298.1 795.3L299.7 791.3L301.3 787.8L302.9 784.0L304.5 781.1L306.0 778.2L307.6 774.9L309.2 770.8L310.8 765.6L312.4 761.3L314.0 757.3L315.6 754.9L317.1 752.4L318.7 751.1L320.3 748.3L321.9 746.5L323.5 742.9L325.1 739.0L326.7 734.5L328.3 730.6L329.8 728.6L331.4 726.4L333.0 724.0L334.6 720.4L336.2 715.1L337.8 709.6L339.4 705.6L340.9 702.1L342.5 698.8L344.1 693.7L345.7 689.2L347.3 683.7L348.9 677.8L350.5 671.2L352.1 666.8L353.6 661.8L355.2 658.4L356.8 652.1L358.4 648.6L360.0 643.8L361.6 642.0L363.2 639.5L364.7 638.9L366.3 639.7L367.9 638.6L369.5 639.4L371.1 640.7L372.7 644.4L374.3 649.6L375.9 655.2L377.4 663.4L379.0 669.9L380.6 677.9L382.2 686.2L383.8 696.0L385.4 705.2L387.0 713.8L388.5 724.0L390.1 733.3L391.7 743.0L393.3 750.6L394.9 759.8L396.5 767.1L398.1 774.9L399.7 781.2L401.2 788.6L402.8 795.5L404.4 801.6L406.0 808.0L407.6 813.1L409.2 818.2L410.8 822.3L412.4 826.6L413.9 831.1L415.5 834.6L417.1 838.7L418.7 843.2L420.3 848.1L421.9 852.3L423.5 855.7L425.0 859.3L426.6 862.9L428.2 865.8L429.8 869.0L431.4 872.2L433.0 876.0L434.6 879.2L436.2 881.8L437.7 884.6L439.3 887.2L440.9 891.3L442.5 894.1L444.1 896.9L445.7 898.2L447.3 900.8L448.8 904.0L450.4 906.7L452.0 909.2L453.6 911.5L455.2 913.9L456.8 915.6L458.4 917.0L460.0 918.6L461.5 920.9L463.1 922.5L464.7 924.6L466.3 926.0L467.9 928.4L469.5 929.4L471.1 930.8L472.6 931.7L474.2 933.3L475.8 934.7L477.4 936.0L479.0 937.5L480.6 938.4L482.2 939.3L483.8 940.1L485.3 941.2L486.9 942.2L488.5 942.7L490.1 943.4L491.7 944.2L493.3 945.3L494.9 946.3L496.4 947.0L498.0 947.6L499.6 947.9L501.2 948.4L502.8 948.8L504.4 949.2L506.0 949.7L507.6 950.1L509.1 950.6L510.7 951.0L512.3 951.4L513.9 952.1L515.5 952.2L517.1 952.8L518.7 952.8L520.2 953.3L521.8 953.2L523.4 953.6L525.0 954.0L526.6 954.3L528.2 954.5L529.8 954.6L531.4 955.0L532.9 955.1L534.5 955.2L536.1 955.4L537.7 956.0L539.3 956.4L540.9 956.6L542.5 956.4L544.1 956.5L545.6 956.7L547.2 957.0L548.8 957.2L550.4 957.4L552.0 957.7L553.6 958.1L555.2 958.2L556.7 958.3L558.3 958.3L559.9 958.8L561.5 959.0L563.1 959.0L564.7 959.1L566.3 959.4L567.9 959.8L569.4 960.1L571.0 960.4L572.6 960.7L574.2 960.7L575.8 960.6L577.4 960.8L579.0 960.8L580.5 961.0L582.1 961.2L583.7 961.4L585.3 961.5L586.9 961.4L588.5 961.4L590.1 961.5L591.7 962.2L593.2 962.6L594.8 962.9L596.4 962.6L598.0 962.8L599.6 962.7L601.2 962.8L602.8 962.8" stroke="#7c0a2b" stroke-width="2.9"/>
<path d="M95.0 965.2L98.2 965.1L101.3 965.1L104.5 965.1L107.7 965.0L110.9 964.9L114.0 964.9L117.2 964.8L120.4 964.7L123.6 964.6L126.7 964.5L129.9 964.4L133.1 964.2L136.3 964.1L139.4 963.9L142.6 963.7L145.8 963.5L148.9 963.3L152.1 963.0L155.3 962.7L158.5 962.4L161.6 962.0L164.8 961.6L168.0 961.2L171.2 960.7L174.3 960.2L177.5 959.7L180.7 959.1L183.9 958.4L187.0 957.7L190.2 956.9L193.4 956.1L196.6 955.2L199.7 954.3L202.9 953.3L206.1 952.2L209.2 951.1L212.4 949.9L215.6 948.6L218.8 947.2L221.9 945.8L225.1 944.3L228.3 942.8L231.5 941.1L234.6 939.4L237.8 937.6L241.0 935.8L244.2 933.9L247.3 931.9L250.5 929.9L253.7 927.8L256.8 925.7L260.0 923.6L263.2 921.4L266.4 919.2L269.5 916.9L272.7 914.7L275.9 912.4L279.1 910.2L282.2 908.0L285.4 905.8L288.6 903.6L291.8 901.4L294.9 899.4L298.1 897.3L301.3 895.4L304.5 893.5L307.6 891.7L310.8 890.1L314.0 888.5L317.1 887.1L320.3 885.7L323.5 884.5L326.7 883.5L329.8 882.6L333.0 881.8L336.2 881.2L339.4 880.8L342.5 880.5L345.7 880.4L348.9 880.4L352.1 880.7L355.2 881.1L358.4 881.6L361.6 882.4L364.7 883.3L367.9 884.4L371.1 885.6L374.3 887.0L377.4 888.5L380.6 890.1L383.8 891.9L387.0 893.7L390.1 895.7L393.3 897.7L396.5 899.9L399.7 902.1L402.8 904.3L406.0 906.6L409.2 908.9L412.4 911.3L415.5 913.6L418.7 916.0L421.9 918.3L425.0 920.6L428.2 922.9L431.4 925.2L434.6 927.4L437.7 929.6L440.9 931.7L444.1 933.8L447.3 935.8L450.4 937.7L453.6 939.6L456.8 941.3L460.0 943.0L463.1 944.7L466.3 946.2L469.5 947.7L472.6 949.1L475.8 950.4L479.0 951.6L482.2 952.8L485.3 953.9L488.5 954.9L491.7 955.8L494.9 956.7L498.0 957.5L501.2 958.3L504.4 959.0L507.6 959.6L510.7 960.2L513.9 960.7L517.1 961.2L520.2 961.6L523.4 962.1L526.6 962.4L529.8 962.8L532.9 963.1L536.1 963.3L539.3 963.6L542.5 963.8L545.6 964.0L548.8 964.2L552.0 964.3L555.2 964.4L558.3 964.6L561.5 964.7L564.7 964.8L567.9 964.9L571.0 964.9L574.2 965.0L577.4 965.1L580.5 965.1L583.7 965.1L586.9 965.2L590.1 965.2L593.2 965.2L596.4 965.3L599.6 965.3L602.8 965.3" stroke="#000" stroke-width="3" stroke-dasharray="7.7 6.7"/>
<path d="M95.0 965.2L98.2 965.1L101.3 965.1L104.5 965.1L107.7 965.0L110.9 964.9L114.0 964.9L117.2 964.8L120.4 964.7L123.6 964.6L126.7 964.5L129.9 964.4L133.1 964.2L136.3 964.1L139.4 963.9L142.6 963.7L145.8 963.5L148.9 963.2L152.1 963.0L155.3 962.7L158.5 962.3L161.6 962.0L164.8 961.6L168.0 961.1L171.2 960.6L174.3 960.1L177.5 959.5L180.7 958.9L183.9 958.2L187.0 957.5L190.2 956.7L193.4 955.8L196.6 954.9L199.7 953.8L202.9 952.8L206.1 951.6L209.2 950.4L212.4 949.1L215.6 947.6L218.8 946.2L221.9 944.6L225.1 942.9L228.3 941.2L231.5 939.3L234.6 937.4L237.8 935.3L241.0 933.2L244.2 931.0L247.3 928.7L250.5 926.4L253.7 923.9L256.8 921.4L260.0 918.8L263.2 916.2L266.4 913.5L269.5 910.7L272.7 908.0L275.9 905.2L279.1 902.4L282.2 899.6L285.4 896.8L288.6 894.0L291.8 891.3L294.9 888.6L298.1 885.9L301.3 883.4L304.5 880.9L307.6 878.6L310.8 876.4L314.0 874.3L317.1 872.3L320.3 870.5L323.5 868.9L326.7 867.4L329.8 866.2L333.0 865.1L336.2 864.3L339.4 863.6L342.5 863.2L345.7 863.0L348.9 863.0L352.1 863.3L355.2 863.8L358.4 864.5L361.6 865.4L364.7 866.6L367.9 868.0L371.1 869.5L374.3 871.3L377.4 873.2L380.6 875.4L383.8 877.6L387.0 880.0L390.1 882.5L393.3 885.1L396.5 887.9L399.7 890.7L402.8 893.5L406.0 896.4L409.2 899.3L412.4 902.3L415.5 905.2L418.7 908.1L421.9 911.0L425.0 913.9L428.2 916.7L431.4 919.5L434.6 922.2L437.7 924.8L440.9 927.4L444.1 929.8L447.3 932.2L450.4 934.5L453.6 936.7L456.8 938.8L460.0 940.7L463.1 942.6L466.3 944.4L469.5 946.1L472.6 947.7L475.8 949.1L479.0 950.5L482.2 951.8L485.3 953.0L488.5 954.2L491.7 955.2L494.9 956.2L498.0 957.1L501.2 957.9L504.4 958.6L507.6 959.3L510.7 959.9L513.9 960.5L517.1 961.0L520.2 961.5L523.4 961.9L526.6 962.3L529.8 962.7L532.9 963.0L536.1 963.3L539.3 963.5L542.5 963.8L545.6 964.0L548.8 964.1L552.0 964.3L555.2 964.4L558.3 964.6L561.5 964.7L564.7 964.8L567.9 964.9L571.0 964.9L574.2 965.0L577.4 965.0L580.5 965.1L583.7 965.1L586.9 965.2L590.1 965.2L593.2 965.2L596.4 965.3L599.6 965.3L602.8 965.3" stroke="#000" stroke-width="3" stroke-dasharray="7.7 6.7"/>
<path d="M95.0 965.2L98.2 965.1L101.3 965.1L104.5 965.1L107.7 965.0L110.9 964.9L114.0 964.9L117.2 964.8L120.4 964.7L123.6 964.6L126.7 964.5L129.9 964.4L133.1 964.2L136.3 964.1L139.4 963.9L142.6 963.7L145.8 963.4L148.9 963.2L152.1 962.9L155.3 962.6L158.5 962.3L161.6 961.9L164.8 961.5L168.0 961.0L171.2 960.5L174.3 960.0L177.5 959.3L180.7 958.7L183.9 958.0L187.0 957.2L190.2 956.3L193.4 955.4L196.6 954.4L199.7 953.3L202.9 952.1L206.1 950.9L209.2 949.5L212.4 948.0L215.6 946.5L218.8 944.8L221.9 943.1L225.1 941.2L228.3 939.2L231.5 937.1L234.6 934.9L237.8 932.5L241.0 930.1L244.2 927.5L247.3 924.8L250.5 922.0L253.7 919.1L256.8 916.1L260.0 913.0L263.2 909.8L266.4 906.5L269.5 903.2L272.7 899.8L275.9 896.3L279.1 892.8L282.2 889.3L285.4 885.8L288.6 882.3L291.8 878.8L294.9 875.4L298.1 872.0L301.3 868.7L304.5 865.6L307.6 862.5L310.8 859.6L314.0 856.9L317.1 854.3L320.3 851.9L323.5 849.8L326.7 847.8L329.8 846.2L333.0 844.7L336.2 843.6L339.4 842.7L342.5 842.1L345.7 841.8L348.9 841.8L352.1 842.1L355.2 842.7L358.4 843.5L361.6 844.7L364.7 846.2L367.9 847.9L371.1 849.9L374.3 852.2L377.4 854.6L380.6 857.3L383.8 860.2L387.0 863.2L390.1 866.4L393.3 869.8L396.5 873.2L399.7 876.7L402.8 880.3L406.0 884.0L409.2 887.6L412.4 891.3L415.5 895.0L418.7 898.6L421.9 902.2L425.0 905.7L428.2 909.2L431.4 912.5L434.6 915.8L437.7 919.0L440.9 922.1L444.1 925.0L447.3 927.9L450.4 930.6L453.6 933.2L456.8 935.6L460.0 937.9L463.1 940.1L466.3 942.2L469.5 944.1L472.6 945.9L475.8 947.6L479.0 949.2L482.2 950.7L485.3 952.0L488.5 953.3L491.7 954.5L494.9 955.5L498.0 956.5L501.2 957.4L504.4 958.2L507.6 959.0L510.7 959.6L513.9 960.3L517.1 960.8L520.2 961.3L523.4 961.8L526.6 962.2L529.8 962.6L532.9 962.9L536.1 963.2L539.3 963.5L542.5 963.7L545.6 963.9L548.8 964.1L552.0 964.3L555.2 964.4L558.3 964.5L561.5 964.7L564.7 964.8L567.9 964.8L571.0 964.9L574.2 965.0L577.4 965.0L580.5 965.1L583.7 965.1L586.9 965.2L590.1 965.2L593.2 965.2L596.4 965.3L599.6 965.3L602.8 965.3" stroke="#000" stroke-width="3" stroke-dasharray="7.7 6.7"/>
<path d="M95.0 965.2L98.2 965.1L101.3 965.1L104.5 965.1L107.7 965.0L110.9 964.9L114.0 964.9L117.2 964.8L120.4 964.7L123.6 964.6L126.7 964.5L129.9 964.4L133.1 964.2L136.3 964.0L139.4 963.9L142.6 963.6L145.8 963.4L148.9 963.2L152.1 962.9L155.3 962.6L158.5 962.2L161.6 961.8L164.8 961.4L168.0 960.9L171.2 960.4L174.3 959.8L177.5 959.1L180.7 958.4L183.9 957.7L187.0 956.8L190.2 955.9L193.4 954.9L196.6 953.8L199.7 952.6L202.9 951.4L206.1 950.0L209.2 948.5L212.4 946.9L215.6 945.1L218.8 943.3L221.9 941.3L225.1 939.2L228.3 936.9L231.5 934.5L234.6 932.0L237.8 929.3L241.0 926.4L244.2 923.4L247.3 920.2L250.5 916.9L253.7 913.5L256.8 909.9L260.0 906.2L263.2 902.4L266.4 898.4L269.5 894.4L272.7 890.2L275.9 886.0L279.1 881.7L282.2 877.4L285.4 873.0L288.6 868.7L291.8 864.3L294.9 860.0L298.1 855.8L301.3 851.7L304.5 847.7L307.6 843.8L310.8 840.1L314.0 836.6L317.1 833.3L320.3 830.2L323.5 827.4L326.7 824.8L329.8 822.5L333.0 820.4L336.2 818.7L339.4 817.1L342.5 815.8L345.7 814.8L348.9 814.1L352.1 813.8L355.2 813.8L358.4 814.2L361.6 815.1L364.7 816.5L367.9 818.5L371.1 821.0L374.3 824.0L377.4 827.6L380.6 831.5L383.8 835.8L387.0 840.3L390.1 845.0L393.3 849.7L396.5 854.6L399.7 859.4L402.8 864.2L406.0 869.0L409.2 873.7L412.4 878.3L415.5 882.9L418.7 887.4L421.9 891.8L425.0 896.1L428.2 900.3L431.4 904.4L434.6 908.4L437.7 912.2L440.9 915.9L444.1 919.4L447.3 922.8L450.4 926.0L453.6 929.1L456.8 931.9L460.0 934.7L463.1 937.2L466.3 939.6L469.5 941.8L472.6 943.9L475.8 945.9L479.0 947.7L482.2 949.3L485.3 950.9L488.5 952.3L491.7 953.6L494.9 954.8L498.0 955.9L501.2 956.8L504.4 957.8L507.6 958.6L510.7 959.3L513.9 960.0L517.1 960.6L520.2 961.1L523.4 961.6L526.6 962.1L529.8 962.5L532.9 962.8L536.1 963.1L539.3 963.4L542.5 963.7L545.6 963.9L548.8 964.1L552.0 964.2L555.2 964.4L558.3 964.5L561.5 964.6L564.7 964.7L567.9 964.8L571.0 964.9L574.2 965.0L577.4 965.0L580.5 965.1L583.7 965.1L586.9 965.2L590.1 965.2L593.2 965.2L596.4 965.3L599.6 965.3L602.8 965.3" stroke="#000" stroke-width="3" stroke-dasharray="7.7 6.7"/>
<path d="M95.0 965.2L98.2 965.1L101.3 965.1L104.5 965.1L107.7 965.0L110.9 964.9L114.0 964.9L117.2 964.8L120.4 964.7L123.6 964.6L126.7 964.5L129.9 964.3L133.1 964.2L136.3 964.0L139.4 963.8L142.6 963.6L145.8 963.4L148.9 963.1L152.1 962.9L155.3 962.5L158.5 962.2L161.6 961.8L164.8 961.3L168.0 960.8L171.2 960.3L174.3 959.7L177.5 959.0L180.7 958.3L183.9 957.5L187.0 956.7L190.2 955.7L193.4 954.7L196.6 953.5L199.7 952.3L202.9 951.0L206.1 949.5L209.2 948.0L212.4 946.3L215.6 944.5L218.8 942.5L221.9 940.4L225.1 938.2L228.3 935.8L231.5 933.2L234.6 930.5L237.8 927.6L241.0 924.5L244.2 921.3L247.3 917.9L250.5 914.4L253.7 910.7L256.8 906.8L260.0 902.8L263.2 898.6L266.4 894.3L269.5 889.9L272.7 885.3L275.9 880.7L279.1 876.0L282.2 871.3L285.4 866.5L288.6 861.7L291.8 856.9L294.9 852.2L298.1 847.5L301.3 843.0L304.5 838.5L307.6 834.3L310.8 830.1L314.0 826.2L317.1 822.6L320.3 819.1L323.5 815.9L326.7 813.0L329.8 810.3L333.0 807.8L336.2 805.6L339.4 803.5L342.5 801.7L345.7 800.1L348.9 798.7L352.1 797.7L355.2 797.0L358.4 796.9L361.6 797.4L364.7 798.6L367.9 800.6L371.1 803.4L374.3 806.9L377.4 811.2L380.6 816.1L383.8 821.4L387.0 827.0L390.1 832.7L393.3 838.6L396.5 844.3L399.7 850.0L402.8 855.6L406.0 861.1L409.2 866.4L412.4 871.6L415.5 876.7L418.7 881.7L421.9 886.5L425.0 891.2L428.2 895.8L431.4 900.3L434.6 904.6L437.7 908.8L440.9 912.8L444.1 916.6L447.3 920.2L450.4 923.7L453.6 927.0L456.8 930.1L460.0 933.0L463.1 935.7L466.3 938.3L469.5 940.7L472.6 942.9L475.8 945.0L479.0 946.9L482.2 948.6L485.3 950.3L488.5 951.8L491.7 953.1L494.9 954.4L498.0 955.5L501.2 956.6L504.4 957.5L507.6 958.4L510.7 959.1L513.9 959.8L517.1 960.5L520.2 961.0L523.4 961.5L526.6 962.0L529.8 962.4L532.9 962.8L536.1 963.1L539.3 963.4L542.5 963.6L545.6 963.9L548.8 964.0L552.0 964.2L555.2 964.4L558.3 964.5L561.5 964.6L564.7 964.7L567.9 964.8L571.0 964.9L574.2 965.0L577.4 965.0L580.5 965.1L583.7 965.1L586.9 965.2L590.1 965.2L593.2 965.2L596.4 965.3L599.6 965.3L602.8 965.3" stroke="#000" stroke-width="3" stroke-dasharray="7.7 6.7"/>
<path d="M95.0 965.2L98.2 965.1L101.3 965.1L104.5 965.1L107.7 965.0L110.9 964.9L114.0 964.9L117.2 964.8L120.4 964.7L123.6 964.6L126.7 964.5L129.9 964.3L133.1 964.2L136.3 964.0L139.4 963.8L142.6 963.6L145.8 963.4L148.9 963.1L152.1 962.8L155.3 962.5L158.5 962.1L161.6 961.7L164.8 961.2L168.0 960.7L171.2 960.2L174.3 959.5L177.5 958.9L180.7 958.1L183.9 957.3L187.0 956.4L190.2 955.4L193.4 954.3L196.6 953.0L199.7 951.7L202.9 950.3L206.1 948.7L209.2 947.1L212.4 945.2L215.6 943.2L218.8 941.1L221.9 938.8L225.1 936.3L228.3 933.7L231.5 930.9L234.6 927.8L237.8 924.6L241.0 921.2L244.2 917.6L247.3 913.8L250.5 909.8L253.7 905.6L256.8 901.2L260.0 896.6L263.2 891.9L266.4 886.9L269.5 881.9L272.7 876.7L275.9 871.3L279.1 865.9L282.2 860.4L285.4 854.9L288.6 849.3L291.8 843.8L294.9 838.3L298.1 832.8L301.3 827.5L304.5 822.3L307.6 817.3L310.8 812.4L314.0 807.8L317.1 803.4L320.3 799.3L323.5 795.4L326.7 791.7L329.8 788.3L333.0 785.0L336.2 781.8L339.4 778.7L342.5 775.6L345.7 772.6L348.9 769.7L352.1 767.1L355.2 764.9L358.4 763.5L361.6 762.9L364.7 763.6L367.9 765.5L371.1 768.8L374.3 773.4L377.4 779.2L380.6 786.0L383.8 793.5L387.0 801.4L390.1 809.5L393.3 817.5L396.5 825.3L399.7 832.8L402.8 839.9L406.0 846.8L409.2 853.3L412.4 859.5L415.5 865.6L418.7 871.4L421.9 877.1L425.0 882.5L428.2 887.8L431.4 892.9L434.6 897.9L437.7 902.6L440.9 907.2L444.1 911.5L447.3 915.6L450.4 919.6L453.6 923.3L456.8 926.7L460.0 930.0L463.1 933.1L466.3 935.9L469.5 938.6L472.6 941.1L475.8 943.4L479.0 945.5L482.2 947.4L485.3 949.2L488.5 950.8L491.7 952.3L494.9 953.7L498.0 954.9L501.2 956.1L504.4 957.1L507.6 958.0L510.7 958.8L513.9 959.6L517.1 960.3L520.2 960.9L523.4 961.4L526.6 961.9L529.8 962.3L532.9 962.7L536.1 963.0L539.3 963.3L542.5 963.6L545.6 963.8L548.8 964.0L552.0 964.2L555.2 964.4L558.3 964.5L561.5 964.6L564.7 964.7L567.9 964.8L571.0 964.9L574.2 965.0L577.4 965.0L580.5 965.1L583.7 965.1L586.9 965.2L590.1 965.2L593.2 965.2L596.4 965.3L599.6 965.3L602.8 965.3" stroke="#000" stroke-width="3" stroke-dasharray="7.7 6.7"/>
<path d="M95.0 965.2L98.2 965.1L101.3 965.1L104.5 965.0L107.7 965.0L110.9 964.9L114.0 964.9L117.2 964.8L120.4 964.7L123.6 964.6L126.7 964.5L129.9 964.3L133.1 964.2L136.3 964.0L139.4 963.8L142.6 963.6L145.8 963.3L148.9 963.1L152.1 962.8L155.3 962.4L158.5 962.0L161.6 961.6L164.8 961.1L168.0 960.6L171.2 960.0L174.3 959.4L177.5 958.6L180.7 957.8L183.9 956.9L187.0 956.0L190.2 954.9L193.4 953.7L196.6 952.4L199.7 951.0L202.9 949.5L206.1 947.8L209.2 945.9L212.4 943.9L215.6 941.7L218.8 939.4L221.9 936.8L225.1 934.1L228.3 931.1L231.5 927.9L234.6 924.5L237.8 920.9L241.0 917.1L244.2 913.0L247.3 908.6L250.5 904.1L253.7 899.3L256.8 894.2L260.0 889.0L263.2 883.5L266.4 877.8L269.5 871.9L272.7 865.9L275.9 859.7L279.1 853.4L282.2 847.0L285.4 840.5L288.6 833.9L291.8 827.4L294.9 820.9L298.1 814.5L301.3 808.2L304.5 802.1L307.6 796.1L310.8 790.3L314.0 784.8L317.1 779.5L320.3 774.4L323.5 769.6L326.7 764.8L329.8 760.1L333.0 755.3L336.2 750.2L339.4 744.9L342.5 739.1L345.7 733.0L348.9 726.7L352.1 720.4L355.2 714.7L358.4 710.0L361.6 706.8L364.7 705.7L367.9 707.1L371.1 711.0L374.3 717.6L377.4 726.4L380.6 737.0L383.8 748.9L387.0 761.4L390.1 774.0L393.3 786.2L396.5 797.8L399.7 808.6L402.8 818.6L406.0 827.7L409.2 836.2L412.4 844.1L415.5 851.5L418.7 858.5L421.9 865.2L425.0 871.6L428.2 877.8L431.4 883.8L434.6 889.5L437.7 895.0L440.9 900.2L444.1 905.2L447.3 909.9L450.4 914.4L453.6 918.6L456.8 922.6L460.0 926.3L463.1 929.8L466.3 933.0L469.5 936.0L472.6 938.8L475.8 941.4L479.0 943.7L482.2 945.9L485.3 947.9L488.5 949.7L491.7 951.4L494.9 952.9L498.0 954.2L501.2 955.4L504.4 956.6L507.6 957.6L510.7 958.5L513.9 959.3L517.1 960.0L520.2 960.6L523.4 961.2L526.6 961.7L529.8 962.2L532.9 962.6L536.1 962.9L539.3 963.2L542.5 963.5L545.6 963.8L548.8 964.0L552.0 964.2L555.2 964.3L558.3 964.5L561.5 964.6L564.7 964.7L567.9 964.8L571.0 964.9L574.2 965.0L577.4 965.0L580.5 965.1L583.7 965.1L586.9 965.2L590.1 965.2L593.2 965.2L596.4 965.3L599.6 965.3L602.8 965.3" stroke="#000" stroke-width="3" stroke-dasharray="7.7 6.7"/>
<path d="M95.0 965.2L98.2 965.1L101.3 965.1L104.5 965.0L107.7 965.0L110.9 964.9L114.0 964.9L117.2 964.8L120.4 964.7L123.6 964.6L126.7 964.5L129.9 964.3L133.1 964.2L136.3 964.0L139.4 963.8L142.6 963.6L145.8 963.3L148.9 963.1L152.1 962.7L155.3 962.4L158.5 962.0L161.6 961.6L164.8 961.1L168.0 960.5L171.2 959.9L174.3 959.3L177.5 958.5L180.7 957.7L183.9 956.8L187.0 955.8L190.2 954.7L193.4 953.5L196.6 952.1L199.7 950.6L202.9 949.0L206.1 947.3L209.2 945.3L212.4 943.3L215.6 941.0L218.8 938.5L221.9 935.8L225.1 932.9L228.3 929.8L231.5 926.5L234.6 922.9L237.8 919.1L241.0 915.0L244.2 910.7L247.3 906.1L250.5 901.2L253.7 896.1L256.8 890.7L260.0 885.1L263.2 879.3L266.4 873.2L269.5 867.0L272.7 860.5L275.9 853.9L279.1 847.1L282.2 840.2L285.4 833.3L288.6 826.3L291.8 819.3L294.9 812.3L298.1 805.4L301.3 798.6L304.5 792.0L307.6 785.5L310.8 779.3L314.0 773.3L317.1 767.5L320.3 761.9L323.5 756.5L326.7 751.0L329.8 745.4L333.0 739.5L336.2 733.1L339.4 726.0L342.5 718.2L345.7 709.6L348.9 700.4L352.1 691.2L355.2 682.5L358.4 675.0L361.6 669.6L364.7 667.0L367.9 667.8L371.1 672.1L374.3 680.0L377.4 691.0L380.6 704.5L383.8 719.7L387.0 735.7L390.1 751.7L393.3 767.1L396.5 781.5L399.7 794.7L402.8 806.6L406.0 817.4L409.2 827.1L412.4 836.0L415.5 844.2L418.7 851.9L421.9 859.2L425.0 866.2L428.2 872.8L431.4 879.2L434.6 885.3L437.7 891.1L440.9 896.7L444.1 902.0L447.3 907.1L450.4 911.8L453.6 916.3L456.8 920.5L460.0 924.5L463.1 928.2L466.3 931.6L469.5 934.8L472.6 937.7L475.8 940.4L479.0 942.9L482.2 945.2L485.3 947.2L488.5 949.1L491.7 950.9L494.9 952.4L498.0 953.9L501.2 955.1L504.4 956.3L507.6 957.3L510.7 958.3L513.9 959.1L517.1 959.8L520.2 960.5L523.4 961.1L526.6 961.6L529.8 962.1L532.9 962.5L536.1 962.9L539.3 963.2L542.5 963.5L545.6 963.7L548.8 964.0L552.0 964.2L555.2 964.3L558.3 964.5L561.5 964.6L564.7 964.7L567.9 964.8L571.0 964.9L574.2 965.0L577.4 965.0L580.5 965.1L583.7 965.1L586.9 965.2L590.1 965.2L593.2 965.2L596.4 965.3L599.6 965.3L602.8 965.3" stroke="#000" stroke-width="3" stroke-dasharray="7.7 6.7"/>
<path d="M95.0 965.2L98.2 965.1L101.3 965.1L104.5 965.0L107.7 965.0L110.9 964.9L114.0 964.9L117.2 964.8L120.4 964.7L123.6 964.6L126.7 964.5L129.9 964.3L133.1 964.2L136.3 964.0L139.4 963.8L142.6 963.6L145.8 963.3L148.9 963.0L152.1 962.7L155.3 962.4L158.5 962.0L161.6 961.5L164.8 961.0L168.0 960.5L171.2 959.8L174.3 959.2L177.5 958.4L180.7 957.5L183.9 956.6L187.0 955.6L190.2 954.4L193.4 953.1L196.6 951.8L199.7 950.2L202.9 948.5L206.1 946.7L209.2 944.7L212.4 942.5L215.6 940.1L218.8 937.5L221.9 934.7L225.1 931.6L228.3 928.3L231.5 924.8L234.6 921.0L237.8 916.9L241.0 912.6L244.2 908.0L247.3 903.1L250.5 897.9L253.7 892.4L256.8 886.7L260.0 880.7L263.2 874.4L266.4 867.9L269.5 861.2L272.7 854.2L275.9 847.1L279.1 839.8L282.2 832.4L285.4 824.9L288.6 817.3L291.8 809.8L294.9 802.2L298.1 794.8L301.3 787.4L304.5 780.2L307.6 773.2L310.8 766.5L314.0 760.0L317.1 753.7L320.3 747.6L323.5 741.6L326.7 735.5L329.8 729.3L333.0 722.6L336.2 715.3L339.4 707.2L342.5 698.1L345.7 688.0L348.9 677.4L352.1 666.5L355.2 656.2L358.4 647.3L361.6 640.7L364.7 637.4L367.9 637.9L371.1 642.6L374.3 651.5L377.4 663.9L380.6 679.3L383.8 696.6L387.0 714.7L390.1 732.9L393.3 750.4L396.5 766.6L399.7 781.4L402.8 794.7L406.0 806.7L409.2 817.4L412.4 827.2L415.5 836.1L418.7 844.5L421.9 852.4L425.0 859.8L428.2 867.0L431.4 873.9L434.6 880.4L437.7 886.7L440.9 892.7L444.1 898.4L447.3 903.8L450.4 908.8L453.6 913.6L456.8 918.1L460.0 922.3L463.1 926.2L466.3 929.9L469.5 933.3L472.6 936.4L475.8 939.2L479.0 941.9L482.2 944.3L485.3 946.5L488.5 948.5L491.7 950.3L494.9 951.9L498.0 953.4L501.2 954.8L504.4 956.0L507.6 957.1L510.7 958.0L513.9 958.9L517.1 959.7L520.2 960.4L523.4 961.0L526.6 961.5L529.8 962.0L532.9 962.5L536.1 962.8L539.3 963.2L542.5 963.5L545.6 963.7L548.8 963.9L552.0 964.1L555.2 964.3L558.3 964.5L561.5 964.6L564.7 964.7L567.9 964.8L571.0 964.9L574.2 965.0L577.4 965.0L580.5 965.1L583.7 965.1L586.9 965.2L590.1 965.2L593.2 965.2L596.4 965.3L599.6 965.3L602.8 965.3" stroke="#000" stroke-width="3" stroke-dasharray="7.7 6.7"/>
</g>
<rect x="95.00" y="571.10" width="507.80" height="401.80" fill="none" stroke="#111" stroke-width="1.6"/>
<path d="M95.00 972.90v8M158.47 972.90v8M221.94 972.90v8M285.41 972.90v8M348.88 972.90v8M412.35 972.90v8M475.82 972.90v8M539.29 972.90v8M602.76 972.90v8M107.69 972.90v4.5M120.39 972.90v4.5M133.08 972.90v4.5M145.78 972.90v4.5M171.16 972.90v4.5M183.86 972.90v4.5M196.55 972.90v4.5M209.25 972.90v4.5M234.63 972.90v4.5M247.33 972.90v4.5M260.02 972.90v4.5M272.72 972.90v4.5M298.10 972.90v4.5M310.80 972.90v4.5M323.49 972.90v4.5M336.19 972.90v4.5M361.57 972.90v4.5M374.27 972.90v4.5M386.96 972.90v4.5M399.66 972.90v4.5M425.04 972.90v4.5M437.74 972.90v4.5M450.43 972.90v4.5M463.13 972.90v4.5M488.51 972.90v4.5M501.21 972.90v4.5M513.90 972.90v4.5M526.60 972.90v4.5M551.98 972.90v4.5M564.68 972.90v4.5M577.37 972.90v4.5M590.07 972.90v4.5" stroke="#111" stroke-width="1.6" fill="none"/>
<text x="95.00" y="1006.30" font-size="24.9" text-anchor="middle">750</text>
<text x="158.47" y="1006.30" font-size="24.9" text-anchor="middle">760</text>
<text x="221.94" y="1006.30" font-size="24.9" text-anchor="middle">770</text>
<text x="285.41" y="1006.30" font-size="24.9" text-anchor="middle">780</text>
<text x="348.88" y="1006.30" font-size="24.9" text-anchor="middle">790</text>
<text x="412.35" y="1006.30" font-size="24.9" text-anchor="middle">800</text>
<text x="475.82" y="1006.30" font-size="24.9" text-anchor="middle">810</text>
<text x="539.29" y="1006.30" font-size="24.9" text-anchor="middle">820</text>
<text x="602.76" y="1006.30" font-size="24.9" text-anchor="middle">830</text>
<path d="M95.00 965.40h-8M95.00 888.10h-8M95.00 810.80h-8M95.00 733.50h-8M95.00 656.20h-8M95.00 578.90h-8M95.00 926.75h-4.5M95.00 849.45h-4.5M95.00 772.15h-4.5M95.00 694.85h-4.5M95.00 617.55h-4.5" stroke="#111" stroke-width="1.6" fill="none"/>
<text x="81.40" y="973.70" font-size="24.9" text-anchor="end">0.0</text>
<text x="81.40" y="896.40" font-size="24.9" text-anchor="end">0.2</text>
<text x="81.40" y="819.10" font-size="24.9" text-anchor="end">0.4</text>
<text x="81.40" y="741.80" font-size="24.9" text-anchor="end">0.6</text>
<text x="81.40" y="664.50" font-size="24.9" text-anchor="end">0.8</text>
<text x="81.40" y="587.20" font-size="24.9" text-anchor="end">1.0</text>
<text x="348.90" y="1046.30" font-size="25.2" text-anchor="middle">Wavelength (nm)</text>
<text transform="translate(38.20 772.00) rotate(-90)" font-size="25.2" text-anchor="middle">Output intensity (a.u.)</text>
<text x="110" y="604.7" font-size="21.3">Const <tspan font-style="italic">V</tspan><tspan font-size="13" dy="5">p</tspan><tspan dy="-5"> (3.5 kA·cm</tspan><tspan font-size="13" dy="-8">-2</tspan><tspan dy="8">) + </tspan><tspan font-style="italic">I</tspan><tspan font-size="11.2" dy="4.5">opt,ns</tspan></text>
<rect x="507.30" y="589.20" width="25.40" height="20.44" fill="#7c0a2b"/>
<rect x="507.30" y="609.34" width="25.40" height="20.44" fill="#ae2440"/>
<rect x="507.30" y="629.49" width="25.40" height="20.44" fill="#d9576a"/>
<rect x="507.30" y="649.63" width="25.40" height="20.44" fill="#f28a8d"/>
<rect x="507.30" y="669.78" width="25.40" height="20.44" fill="#c7a5ae"/>
<rect x="507.30" y="689.92" width="25.40" height="20.44" fill="#88aac2"/>
<rect x="507.30" y="710.07" width="25.40" height="20.44" fill="#5b78ab"/>
<rect x="507.30" y="730.21" width="25.40" height="20.44" fill="#2e4e94"/>
<rect x="507.30" y="750.36" width="25.40" height="20.44" fill="#0b2278"/>
<rect x="507.30" y="589.20" width="25.40" height="181.30" fill="none" stroke="#222" stroke-width="1"/>
<text x="545.20" y="606.47" font-size="21.3">15.6</text>
<text x="545.20" y="646.76" font-size="21.3">12.6</text>
<text x="545.20" y="687.05" font-size="21.3">7.7</text>
<text x="545.20" y="727.34" font-size="21.3">4.2</text>
<text x="545.20" y="767.63" font-size="21.3">0.4</text>
<text x="492.70" y="626.82" font-size="21.3" text-anchor="end">14.7</text>
<text x="492.70" y="667.11" font-size="21.3" text-anchor="end">10.2</text>
<text x="492.70" y="707.39" font-size="21.3" text-anchor="end">6.5</text>
<text x="492.70" y="747.68" font-size="21.3" text-anchor="end">2.3</text>
<path d="M532.70 599.27h7M532.70 639.56h7M532.70 679.85h7M532.70 720.14h7M532.70 760.43h7M507.30 619.42h-7M507.30 659.71h-7M507.30 699.99h-7M507.30 740.28h-7" stroke="#111" stroke-width="1.5"/>
<text x="451.2" y="795.80" font-size="21.3"><tspan font-style="italic">I</tspan><tspan font-size="14.2" dy="4.5">opt,ns</tspan><tspan dy="-4.5"> (µJ·cm</tspan><tspan font-size="13" dy="-8">-2</tspan><tspan dy="8">)</tspan></text>
<path d="M452.2 835.80H502" stroke="#000" stroke-width="3" stroke-dasharray="7.7 6.7"/>
<text x="507" y="842.10" font-size="21.3">Total Fits</text>
<text x="720.8" y="36.3" font-size="32" font-weight="bold">b</text>
<g clip-path="url(#cb)" stroke-linejoin="round">
<path d="M817.9 407.8L817.9 407.8L821.1 407.8L824.2 407.7L827.4 407.7L830.6 407.7L833.8 407.7L836.9 407.7L840.1 407.6L843.3 407.6L846.5 407.6L849.6 407.5L852.8 407.5L856.0 407.4L859.2 407.3L862.3 407.2L865.5 407.1L868.7 407.0L871.8 406.8L875.0 406.7L878.2 406.4L881.4 406.2L884.5 405.9L887.7 405.6L890.9 405.2L894.1 404.8L897.2 404.3L900.4 403.8L903.6 403.1L906.8 402.4L909.9 401.6L913.1 400.7L916.3 399.7L919.5 398.6L922.6 397.3L925.8 395.9L929.0 394.4L932.1 392.6L935.3 390.7L938.5 388.7L941.7 386.4L944.8 383.9L948.0 381.2L951.2 378.3L954.4 375.1L957.5 371.7L960.7 368.1L963.9 364.2L967.1 360.1L970.2 355.7L973.4 351.1L976.6 346.2L979.7 341.1L982.9 335.8L986.1 330.2L989.3 324.4L992.4 318.5L995.6 312.4L998.8 306.1L1002.0 299.8L1005.1 293.3L1008.3 286.8L1011.5 280.2L1014.7 273.7L1017.8 267.2L1021.0 260.8L1024.2 254.6L1027.4 248.5L1030.5 242.6L1033.7 236.9L1036.9 231.5L1040.0 226.5L1043.2 221.8L1046.4 217.5L1049.6 213.7L1052.7 210.3L1055.9 207.4L1059.1 205.0L1062.3 203.1L1065.4 201.7L1068.6 201.0L1071.8 200.7L1075.0 201.1L1078.1 202.0L1081.3 203.4L1084.5 205.4L1087.6 207.9L1090.8 210.9L1094.0 214.4L1097.2 218.4L1100.3 222.7L1103.5 227.5L1106.7 232.6L1109.9 238.0L1113.0 243.7L1116.2 249.7L1119.4 255.8L1122.6 262.1L1125.7 268.5L1128.9 275.0L1132.1 281.6L1135.2 288.1L1138.4 294.6L1141.6 301.0L1144.8 307.4L1147.9 313.6L1151.1 319.7L1154.3 325.6L1157.5 331.3L1160.6 336.8L1163.8 342.1L1167.0 347.2L1170.2 352.0L1173.3 356.6L1176.5 360.9L1179.7 365.0L1182.9 368.9L1186.0 372.4L1189.2 375.8L1192.4 378.9L1195.5 381.8L1198.7 384.4L1201.9 386.9L1205.1 389.1L1208.2 391.1L1211.4 393.0L1214.6 394.7L1217.8 396.2L1220.9 397.6L1224.1 398.8L1227.3 399.9L1230.5 400.9L1233.6 401.8L1236.8 402.6L1240.0 403.3L1243.1 403.9L1246.3 404.4L1249.5 404.9L1252.7 405.3L1255.8 405.7L1259.0 406.0L1262.2 406.3L1265.4 406.5L1268.5 406.7L1271.7 406.9L1274.9 407.0L1278.1 407.1L1281.2 407.2L1284.4 407.3L1287.6 407.4L1290.8 407.5L1293.9 407.5L1297.1 407.6L1300.3 407.6L1303.4 407.7L1306.6 407.7L1309.8 407.7L1313.0 407.7L1316.1 407.7L1319.3 407.7L1322.5 407.8L1325.7 407.8L1325.7 407.8Z" fill="#fcd2f9" stroke="none"/>
<path d="M817.9 407.8L817.9 407.8L821.1 407.8L824.2 407.8L827.4 407.8L830.6 407.8L833.8 407.8L836.9 407.8L840.1 407.8L843.3 407.8L846.5 407.8L849.6 407.8L852.8 407.8L856.0 407.8L859.2 407.8L862.3 407.8L865.5 407.8L868.7 407.8L871.8 407.8L875.0 407.8L878.2 407.8L881.4 407.8L884.5 407.8L887.7 407.8L890.9 407.8L894.1 407.8L897.2 407.8L900.4 407.8L903.6 407.8L906.8 407.8L909.9 407.8L913.1 407.8L916.3 407.8L919.5 407.8L922.6 407.8L925.8 407.8L929.0 407.8L932.1 407.8L935.3 407.8L938.5 407.8L941.7 407.8L944.8 407.8L948.0 407.8L951.2 407.8L954.4 407.8L957.5 407.8L960.7 407.8L963.9 407.8L967.1 407.8L970.2 407.8L973.4 407.8L976.6 407.8L979.7 407.8L982.9 407.8L986.1 407.8L989.3 407.8L992.4 407.8L995.6 407.8L998.8 407.8L1002.0 407.8L1005.1 407.8L1008.3 407.8L1011.5 407.8L1014.7 407.8L1017.8 407.8L1021.0 407.8L1024.2 407.8L1027.4 407.8L1030.5 407.8L1033.7 407.8L1036.9 407.7L1040.0 407.6L1043.2 407.4L1046.4 407.1L1049.6 406.5L1052.7 405.5L1055.9 403.8L1059.1 401.1L1062.3 397.3L1065.4 391.8L1068.6 384.5L1071.8 375.3L1075.0 364.2L1078.1 351.7L1081.3 338.6L1084.5 325.8L1087.6 314.6L1090.8 306.2L1094.0 301.5L1097.2 301.0L1100.3 304.9L1103.5 312.7L1106.7 323.4L1109.9 336.0L1113.0 349.1L1116.2 361.8L1119.4 373.2L1122.6 382.9L1125.7 390.5L1128.9 396.3L1132.1 400.5L1135.2 403.3L1138.4 405.2L1141.6 406.3L1144.8 407.0L1147.9 407.4L1151.1 407.6L1154.3 407.7L1157.5 407.8L1160.6 407.8L1163.8 407.8L1167.0 407.8L1170.2 407.8L1173.3 407.8L1176.5 407.8L1179.7 407.8L1182.9 407.8L1186.0 407.8L1189.2 407.8L1192.4 407.8L1195.5 407.8L1198.7 407.8L1201.9 407.8L1205.1 407.8L1208.2 407.8L1211.4 407.8L1214.6 407.8L1217.8 407.8L1220.9 407.8L1224.1 407.8L1227.3 407.8L1230.5 407.8L1233.6 407.8L1236.8 407.8L1240.0 407.8L1243.1 407.8L1246.3 407.8L1249.5 407.8L1252.7 407.8L1255.8 407.8L1259.0 407.8L1262.2 407.8L1265.4 407.8L1268.5 407.8L1271.7 407.8L1274.9 407.8L1278.1 407.8L1281.2 407.8L1284.4 407.8L1287.6 407.8L1290.8 407.8L1293.9 407.8L1297.1 407.8L1300.3 407.8L1303.4 407.8L1306.6 407.8L1309.8 407.8L1313.0 407.8L1316.1 407.8L1319.3 407.8L1322.5 407.8L1325.7 407.8L1325.7 407.8Z" fill="#d9f8d5" stroke="none"/>
<path d="M817.9 407.3L819.5 407.4L821.1 407.7L822.7 407.7L824.2 407.5L825.8 407.7L827.4 407.9L829.0 407.5L830.6 407.6L832.2 407.5L833.8 407.8L835.4 407.6L836.9 407.7L838.5 407.8L840.1 407.6L841.7 407.4L843.3 407.5L844.9 407.4L846.5 407.7L848.0 407.4L849.6 407.6L851.2 407.1L852.8 407.1L854.4 407.0L856.0 407.1L857.6 407.0L859.2 407.1L860.7 406.6L862.3 406.9L863.9 406.7L865.5 406.9L867.1 406.7L868.7 406.9L870.3 406.9L871.8 407.1L873.4 407.1L875.0 407.0L876.6 406.9L878.2 406.3L879.8 406.4L881.4 405.9L883.0 406.0L884.5 405.8L886.1 405.7L887.7 405.6L889.3 405.5L890.9 405.1L892.5 404.6L894.1 404.2L895.7 404.0L897.2 404.0L898.8 404.3L900.4 404.0L902.0 403.5L903.6 402.9L905.2 402.5L906.8 402.1L908.3 401.6L909.9 401.1L911.5 400.9L913.1 400.8L914.7 400.6L916.3 400.2L917.9 399.2L919.5 398.7L921.0 398.1L922.6 397.7L924.2 396.9L925.8 396.0L927.4 394.9L929.0 393.9L930.6 393.1L932.1 392.3L933.7 391.6L935.3 390.6L936.9 389.3L938.5 388.8L940.1 387.7L941.7 386.8L943.3 384.8L944.8 383.8L946.4 382.4L948.0 381.1L949.6 379.5L951.2 378.6L952.8 377.3L954.4 375.9L955.9 373.6L957.5 372.0L959.1 369.5L960.7 367.8L962.3 365.9L963.9 364.5L965.5 362.8L967.1 360.4L968.6 357.7L970.2 355.2L971.8 352.8L973.4 351.1L975.0 348.5L976.6 345.7L978.2 343.3L979.7 340.4L981.3 338.1L982.9 335.5L984.5 333.6L986.1 331.5L987.7 327.7L989.3 324.5L990.9 321.3L992.4 318.4L994.0 315.1L995.6 311.9L997.2 309.2L998.8 305.7L1000.4 302.9L1002.0 298.9L1003.5 296.2L1005.1 293.0L1006.7 290.2L1008.3 286.6L1009.9 283.8L1011.5 280.7L1013.1 278.2L1014.7 274.5L1016.2 271.0L1017.8 267.5L1019.4 263.8L1021.0 261.1L1022.6 256.7L1024.2 253.8L1025.8 251.1L1027.4 249.5L1028.9 247.0L1030.5 243.4L1032.1 240.0L1033.7 236.2L1035.3 233.4L1036.9 230.7L1038.5 228.4L1040.0 226.0L1041.6 223.5L1043.2 220.8L1044.8 218.0L1046.4 216.2L1048.0 215.3L1049.6 214.0L1051.2 211.3L1052.7 209.5L1054.3 207.1L1055.9 204.7L1057.5 201.1L1059.1 198.9L1060.7 195.4L1062.3 191.2L1063.8 187.4L1065.4 184.1L1067.0 180.3L1068.6 176.6L1070.2 171.2L1071.8 167.7L1073.4 161.9L1075.0 158.9L1076.5 152.5L1078.1 147.4L1079.7 140.7L1081.3 134.2L1082.9 127.5L1084.5 122.5L1086.1 117.5L1087.6 114.3L1089.2 110.1L1090.8 109.3L1092.4 107.3L1094.0 107.9L1095.6 108.7L1097.2 111.3L1098.8 115.5L1100.3 120.7L1101.9 126.1L1103.5 132.3L1105.1 140.3L1106.7 149.4L1108.3 158.5L1109.9 166.9L1111.4 175.7L1113.0 184.7L1114.6 194.4L1116.2 203.7L1117.8 213.5L1119.4 223.2L1121.0 231.4L1122.6 239.2L1124.1 245.4L1125.7 252.7L1127.3 257.9L1128.9 263.9L1130.5 268.7L1132.1 274.4L1133.7 279.2L1135.2 284.4L1136.8 288.3L1138.4 291.6L1140.0 294.5L1141.6 297.7L1143.2 301.3L1144.8 304.9L1146.4 308.9L1147.9 312.2L1149.5 315.5L1151.1 318.8L1152.7 321.2L1154.3 324.6L1155.9 327.1L1157.5 330.3L1159.1 332.4L1160.6 335.5L1162.2 338.3L1163.8 341.0L1165.4 343.5L1167.0 345.9L1168.6 348.2L1170.2 350.3L1171.7 352.3L1173.3 354.7L1174.9 356.5L1176.5 358.9L1178.1 360.5L1179.7 362.5L1181.3 364.1L1182.9 366.2L1184.4 368.1L1186.0 370.0L1187.6 371.3L1189.2 372.5L1190.8 373.5L1192.4 375.0L1194.0 376.5L1195.5 378.4L1197.1 380.0L1198.7 381.4L1200.3 382.3L1201.9 383.2L1203.5 384.4L1205.1 385.1L1206.7 385.9L1208.2 386.7L1209.8 387.2L1211.4 387.8L1213.0 388.3L1214.6 389.3L1216.2 390.1L1217.8 390.4L1219.3 391.4L1220.9 392.1L1222.5 393.0L1224.1 393.3L1225.7 393.3L1227.3 394.0L1228.9 394.5L1230.5 395.1L1232.0 395.1L1233.6 395.1L1235.2 395.4L1236.8 395.5L1238.4 396.0L1240.0 396.4L1241.6 396.9L1243.1 397.1L1244.7 397.5L1246.3 398.0L1247.9 398.2L1249.5 398.6L1251.1 398.9L1252.7 399.2L1254.3 399.2L1255.8 399.5L1257.4 399.1L1259.0 399.0L1260.6 398.8L1262.2 399.3L1263.8 399.9L1265.4 400.1L1267.0 400.2L1268.5 400.1L1270.1 400.6L1271.7 400.6L1273.3 401.0L1274.9 401.1L1276.5 401.7L1278.1 401.8L1279.6 401.9L1281.2 401.9L1282.8 402.0L1284.4 402.1L1286.0 402.2L1287.6 402.1L1289.2 402.8L1290.8 402.8L1292.3 403.1L1293.9 403.1L1295.5 403.5L1297.1 403.6L1298.7 403.7L1300.3 403.7L1301.9 403.9L1303.4 403.9L1305.0 403.9L1306.6 404.3L1308.2 404.3L1309.8 404.3L1311.4 404.3L1313.0 404.8L1314.6 405.0L1316.1 405.2L1317.7 405.1L1319.3 405.1L1320.9 405.5L1322.5 405.1L1324.1 405.6L1325.7 405.1" fill="none" stroke="#5e0c2c" stroke-width="3"/>
<path d="M817.9 407.8L821.1 407.8L824.2 407.7L827.4 407.7L830.6 407.7L833.8 407.7L836.9 407.7L840.1 407.6L843.3 407.6L846.5 407.6L849.6 407.5L852.8 407.5L856.0 407.4L859.2 407.3L862.3 407.2L865.5 407.1L868.7 407.0L871.8 406.8L875.0 406.7L878.2 406.4L881.4 406.2L884.5 405.9L887.7 405.6L890.9 405.2L894.1 404.8L897.2 404.3L900.4 403.8L903.6 403.1L906.8 402.4L909.9 401.6L913.1 400.7L916.3 399.7L919.5 398.6L922.6 397.3L925.8 395.9L929.0 394.4L932.1 392.6L935.3 390.7L938.5 388.7L941.7 386.4L944.8 383.9L948.0 381.2L951.2 378.3L954.4 375.1L957.5 371.7L960.7 368.1L963.9 364.2L967.1 360.1L970.2 355.7L973.4 351.1L976.6 346.2L979.7 341.1L982.9 335.8L986.1 330.2L989.3 324.4L992.4 318.5L995.6 312.4L998.8 306.1L1002.0 299.8L1005.1 293.3L1008.3 286.8L1011.5 280.2L1014.7 273.7L1017.8 267.2L1021.0 260.8L1024.2 254.6L1027.4 248.5L1030.5 242.6L1033.7 236.9L1036.9 231.5L1040.0 226.3L1043.2 221.5L1046.4 216.8L1049.6 212.4L1052.7 207.9L1055.9 203.3L1059.1 198.3L1062.3 192.6L1065.4 185.8L1068.6 177.7L1071.8 168.2L1075.0 157.5L1078.1 145.9L1081.3 134.2L1084.5 123.4L1087.6 114.7L1090.8 109.3L1094.0 108.1L1097.2 111.6L1100.3 119.8L1103.5 132.4L1106.7 148.2L1109.9 166.2L1113.0 185.1L1116.2 203.7L1119.4 221.2L1122.6 237.2L1125.7 251.3L1128.9 263.5L1132.1 274.2L1135.2 283.6L1138.4 292.0L1141.6 299.6L1144.8 306.6L1147.9 313.2L1151.1 319.5L1154.3 325.5L1157.5 331.3L1160.6 336.8L1163.8 342.1L1167.0 347.2L1170.2 352.0L1173.3 356.6L1176.5 360.9L1179.7 365.0L1182.9 368.9L1186.0 372.4L1189.2 375.8L1192.4 378.9L1195.5 381.8L1198.7 384.4L1201.9 386.9L1205.1 389.1L1208.2 391.1L1211.4 393.0L1214.6 394.7L1217.8 396.2L1220.9 397.6L1224.1 398.8L1227.3 399.9L1230.5 400.9L1233.6 401.8L1236.8 402.6L1240.0 403.3L1243.1 403.9L1246.3 404.4L1249.5 404.9L1252.7 405.3L1255.8 405.7L1259.0 406.0L1262.2 406.3L1265.4 406.5L1268.5 406.7L1271.7 406.9L1274.9 407.0L1278.1 407.1L1281.2 407.2L1284.4 407.3L1287.6 407.4L1290.8 407.5L1293.9 407.5L1297.1 407.6L1300.3 407.6L1303.4 407.7L1306.6 407.7L1309.8 407.7L1313.0 407.7L1316.1 407.7L1319.3 407.7L1322.5 407.8L1325.7 407.8" fill="none" stroke="#000" stroke-width="3" stroke-dasharray="7.7 6.7"/>
<path d="M817.9 407.8L821.1 407.8L824.2 407.7L827.4 407.7L830.6 407.7L833.8 407.7L836.9 407.7L840.1 407.6L843.3 407.6L846.5 407.6L849.6 407.5L852.8 407.5L856.0 407.4L859.2 407.3L862.3 407.2L865.5 407.1L868.7 407.0L871.8 406.8L875.0 406.7L878.2 406.4L881.4 406.2L884.5 405.9L887.7 405.6L890.9 405.2L894.1 404.8L897.2 404.3L900.4 403.8L903.6 403.1L906.8 402.4L909.9 401.6L913.1 400.7L916.3 399.7L919.5 398.6L922.6 397.3L925.8 395.9L929.0 394.4L932.1 392.6L935.3 390.7L938.5 388.7L941.7 386.4L944.8 383.9L948.0 381.2L951.2 378.3L954.4 375.1L957.5 371.7L960.7 368.1L963.9 364.2L967.1 360.1L970.2 355.7L973.4 351.1L976.6 346.2L979.7 341.1L982.9 335.8L986.1 330.2L989.3 324.4L992.4 318.5L995.6 312.4L998.8 306.1L1002.0 299.8L1005.1 293.3L1008.3 286.8L1011.5 280.2L1014.7 273.7L1017.8 267.2L1021.0 260.8L1024.2 254.6L1027.4 248.5L1030.5 242.6L1033.7 236.9L1036.9 231.5L1040.0 226.5L1043.2 221.8L1046.4 217.5L1049.6 213.7L1052.7 210.3L1055.9 207.4L1059.1 205.0L1062.3 203.1L1065.4 201.7L1068.6 201.0L1071.8 200.7L1075.0 201.1L1078.1 202.0L1081.3 203.4L1084.5 205.4L1087.6 207.9L1090.8 210.9L1094.0 214.4L1097.2 218.4L1100.3 222.7L1103.5 227.5L1106.7 232.6L1109.9 238.0L1113.0 243.7L1116.2 249.7L1119.4 255.8L1122.6 262.1L1125.7 268.5L1128.9 275.0L1132.1 281.6L1135.2 288.1L1138.4 294.6L1141.6 301.0L1144.8 307.4L1147.9 313.6L1151.1 319.7L1154.3 325.6L1157.5 331.3L1160.6 336.8L1163.8 342.1L1167.0 347.2L1170.2 352.0L1173.3 356.6L1176.5 360.9L1179.7 365.0L1182.9 368.9L1186.0 372.4L1189.2 375.8L1192.4 378.9L1195.5 381.8L1198.7 384.4L1201.9 386.9L1205.1 389.1L1208.2 391.1L1211.4 393.0L1214.6 394.7L1217.8 396.2L1220.9 397.6L1224.1 398.8L1227.3 399.9L1230.5 400.9L1233.6 401.8L1236.8 402.6L1240.0 403.3L1243.1 403.9L1246.3 404.4L1249.5 404.9L1252.7 405.3L1255.8 405.7L1259.0 406.0L1262.2 406.3L1265.4 406.5L1268.5 406.7L1271.7 406.9L1274.9 407.0L1278.1 407.1L1281.2 407.2L1284.4 407.3L1287.6 407.4L1290.8 407.5L1293.9 407.5L1297.1 407.6L1300.3 407.6L1303.4 407.7L1306.6 407.7L1309.8 407.7L1313.0 407.7L1316.1 407.7L1319.3 407.7L1322.5 407.8L1325.7 407.8" fill="none" stroke="#c83cc8" stroke-width="1.5"/>
<path d="M817.9 407.8L821.1 407.8L824.2 407.8L827.4 407.8L830.6 407.8L833.8 407.8L836.9 407.8L840.1 407.8L843.3 407.8L846.5 407.8L849.6 407.8L852.8 407.8L856.0 407.8L859.2 407.8L862.3 407.8L865.5 407.8L868.7 407.8L871.8 407.8L875.0 407.8L878.2 407.8L881.4 407.8L884.5 407.8L887.7 407.8L890.9 407.8L894.1 407.8L897.2 407.8L900.4 407.8L903.6 407.8L906.8 407.8L909.9 407.8L913.1 407.8L916.3 407.8L919.5 407.8L922.6 407.8L925.8 407.8L929.0 407.8L932.1 407.8L935.3 407.8L938.5 407.8L941.7 407.8L944.8 407.8L948.0 407.8L951.2 407.8L954.4 407.8L957.5 407.8L960.7 407.8L963.9 407.8L967.1 407.8L970.2 407.8L973.4 407.8L976.6 407.8L979.7 407.8L982.9 407.8L986.1 407.8L989.3 407.8L992.4 407.8L995.6 407.8L998.8 407.8L1002.0 407.8L1005.1 407.8L1008.3 407.8L1011.5 407.8L1014.7 407.8L1017.8 407.8L1021.0 407.8L1024.2 407.8L1027.4 407.8L1030.5 407.8L1033.7 407.8L1036.9 407.7L1040.0 407.6L1043.2 407.4L1046.4 407.1L1049.6 406.5L1052.7 405.5L1055.9 403.8L1059.1 401.1L1062.3 397.3L1065.4 391.8L1068.6 384.5L1071.8 375.3L1075.0 364.2L1078.1 351.7L1081.3 338.6L1084.5 325.8L1087.6 314.6L1090.8 306.2L1094.0 301.5L1097.2 301.0L1100.3 304.9L1103.5 312.7L1106.7 323.4L1109.9 336.0L1113.0 349.1L1116.2 361.8L1119.4 373.2L1122.6 382.9L1125.7 390.5L1128.9 396.3L1132.1 400.5L1135.2 403.3L1138.4 405.2L1141.6 406.3L1144.8 407.0L1147.9 407.4L1151.1 407.6L1154.3 407.7L1157.5 407.8L1160.6 407.8L1163.8 407.8L1167.0 407.8L1170.2 407.8L1173.3 407.8L1176.5 407.8L1179.7 407.8L1182.9 407.8L1186.0 407.8L1189.2 407.8L1192.4 407.8L1195.5 407.8L1198.7 407.8L1201.9 407.8L1205.1 407.8L1208.2 407.8L1211.4 407.8L1214.6 407.8L1217.8 407.8L1220.9 407.8L1224.1 407.8L1227.3 407.8L1230.5 407.8L1233.6 407.8L1236.8 407.8L1240.0 407.8L1243.1 407.8L1246.3 407.8L1249.5 407.8L1252.7 407.8L1255.8 407.8L1259.0 407.8L1262.2 407.8L1265.4 407.8L1268.5 407.8L1271.7 407.8L1274.9 407.8L1278.1 407.8L1281.2 407.8L1284.4 407.8L1287.6 407.8L1290.8 407.8L1293.9 407.8L1297.1 407.8L1300.3 407.8L1303.4 407.8L1306.6 407.8L1309.8 407.8L1313.0 407.8L1316.1 407.8L1319.3 407.8L1322.5 407.8L1325.7 407.8" fill="none" stroke="#2f7a2f" stroke-width="1.5"/>
</g>
<rect x="817.90" y="39.60" width="507.70" height="402.10" fill="none" stroke="#111" stroke-width="1.6"/>
<path d="M817.90 441.70v8M881.37 441.70v8M944.84 441.70v8M1008.31 441.70v8M1071.78 441.70v8M1135.25 441.70v8M1198.72 441.70v8M1262.19 441.70v8M1325.66 441.70v8M830.59 441.70v4.5M843.29 441.70v4.5M855.98 441.70v4.5M868.68 441.70v4.5M894.06 441.70v4.5M906.76 441.70v4.5M919.45 441.70v4.5M932.15 441.70v4.5M957.53 441.70v4.5M970.23 441.70v4.5M982.92 441.70v4.5M995.62 441.70v4.5M1021.00 441.70v4.5M1033.70 441.70v4.5M1046.39 441.70v4.5M1059.09 441.70v4.5M1084.47 441.70v4.5M1097.17 441.70v4.5M1109.86 441.70v4.5M1122.56 441.70v4.5M1147.94 441.70v4.5M1160.64 441.70v4.5M1173.33 441.70v4.5M1186.03 441.70v4.5M1211.41 441.70v4.5M1224.11 441.70v4.5M1236.80 441.70v4.5M1249.50 441.70v4.5M1274.88 441.70v4.5M1287.58 441.70v4.5M1300.27 441.70v4.5M1312.97 441.70v4.5" stroke="#111" stroke-width="1.6" fill="none"/>
<text x="817.90" y="475.10" font-size="24.9" text-anchor="middle">750</text>
<text x="881.37" y="475.10" font-size="24.9" text-anchor="middle">760</text>
<text x="944.84" y="475.10" font-size="24.9" text-anchor="middle">770</text>
<text x="1008.31" y="475.10" font-size="24.9" text-anchor="middle">780</text>
<text x="1071.78" y="475.10" font-size="24.9" text-anchor="middle">790</text>
<text x="1135.25" y="475.10" font-size="24.9" text-anchor="middle">800</text>
<text x="1198.72" y="475.10" font-size="24.9" text-anchor="middle">810</text>
<text x="1262.19" y="475.10" font-size="24.9" text-anchor="middle">820</text>
<text x="1325.66" y="475.10" font-size="24.9" text-anchor="middle">830</text>
<path d="M817.90 407.80h-8M817.90 356.29h-8M817.90 304.78h-8M817.90 253.27h-8M817.90 201.76h-8M817.90 150.25h-8M817.90 98.74h-8M817.90 47.23h-8M817.90 433.56h-4.5M817.90 382.05h-4.5M817.90 330.54h-4.5M817.90 279.02h-4.5M817.90 227.52h-4.5M817.90 176.00h-4.5M817.90 124.49h-4.5M817.90 72.98h-4.5" stroke="#111" stroke-width="1.6" fill="none"/>
<text x="804.30" y="416.10" font-size="24.9" text-anchor="end">0.0</text>
<text x="804.30" y="364.59" font-size="24.9" text-anchor="end">0.1</text>
<text x="804.30" y="313.08" font-size="24.9" text-anchor="end">0.2</text>
<text x="804.30" y="261.57" font-size="24.9" text-anchor="end">0.3</text>
<text x="804.30" y="210.06" font-size="24.9" text-anchor="end">0.4</text>
<text x="804.30" y="158.55" font-size="24.9" text-anchor="end">0.5</text>
<text x="804.30" y="107.04" font-size="24.9" text-anchor="end">0.6</text>
<text x="804.30" y="55.53" font-size="24.9" text-anchor="end">0.7</text>
<text x="1071.75" y="515.10" font-size="25.2" text-anchor="middle">Wavelength (nm)</text>
<text transform="translate(761.10 240.65) rotate(-90)" font-size="25.2" text-anchor="middle">Output intensity (a.u.)</text>
<text x="833.0" y="73.2" font-size="21.3">Optical Excitation Only, <tspan font-style="italic">I</tspan><tspan font-size="13" dy="5">opt,ns</tspan><tspan dy="-5"> = 15.6 µJ·cm</tspan><tspan font-size="13" dy="-8">-2</tspan></text>
<path d="M842.2 111.9H891.1" stroke="#5e0c2c" stroke-width="3"/>
<text x="895.3" y="118.7" font-size="21.3">Measured</text>
<path d="M842.2 138.0H891.1" stroke="#000" stroke-width="3" stroke-dasharray="7.7 6.7"/>
<text x="895.3" y="144.4" font-size="21.3">Total Fit</text>
<rect x="974.6" y="415.8" width="14.5" height="14" fill="#fcd2f9" stroke="#d060d0" stroke-width="1.2"/>
<text x="1002.6" y="429.5" font-size="21.3">SE (PL)</text>
<rect x="1098.3" y="415.8" width="14.5" height="14" fill="#d9f8d5" stroke="#5a9a5a" stroke-width="1.2"/>
<text x="1127.5" y="429.5" font-size="21.3">ASE</text>
<text x="721.0" y="566.0" font-size="32" font-weight="bold">d</text>
<g clip-path="url(#cd)" stroke-linejoin="round">
<path d="M817.9 937.0L817.9 937.0L821.1 937.0L824.2 937.0L827.4 937.0L830.6 937.0L833.8 937.0L836.9 937.0L840.1 937.0L843.3 937.0L846.5 937.0L849.6 937.0L852.8 936.9L856.0 936.9L859.2 936.9L862.3 936.9L865.5 936.9L868.7 936.8L871.8 936.8L875.0 936.7L878.2 936.7L881.4 936.6L884.5 936.5L887.7 936.4L890.9 936.3L894.1 936.1L897.2 936.0L900.4 935.8L903.6 935.5L906.8 935.2L909.9 934.9L913.1 934.6L916.3 934.1L919.5 933.6L922.6 933.0L925.8 932.4L929.0 931.7L932.1 930.8L935.3 929.9L938.5 928.8L941.7 927.6L944.8 926.2L948.0 924.8L951.2 923.1L954.4 921.3L957.5 919.3L960.7 917.1L963.9 914.7L967.1 912.1L970.2 909.3L973.4 906.3L976.6 903.1L979.7 899.6L982.9 895.9L986.1 892.1L989.3 888.0L992.4 883.7L995.6 879.3L998.8 874.7L1002.0 869.9L1005.1 865.0L1008.3 860.0L1011.5 854.9L1014.7 849.8L1017.8 844.7L1021.0 839.6L1024.2 834.5L1027.4 829.6L1030.5 824.8L1033.7 820.1L1036.9 815.7L1040.0 811.5L1043.2 807.6L1046.4 804.0L1049.6 800.7L1052.7 797.8L1055.9 795.4L1059.1 793.4L1062.3 791.8L1065.4 790.7L1068.6 790.0L1071.8 789.9L1075.0 790.2L1078.1 791.1L1081.3 792.4L1084.5 794.1L1087.6 796.3L1090.8 798.9L1094.0 802.0L1097.2 805.4L1100.3 809.1L1103.5 813.1L1106.7 817.4L1109.9 822.0L1113.0 826.7L1116.2 831.6L1119.4 836.6L1122.6 841.6L1125.7 846.7L1128.9 851.9L1132.1 857.0L1135.2 862.0L1138.4 867.0L1141.6 871.8L1144.8 876.5L1147.9 881.1L1151.1 885.5L1154.3 889.7L1157.5 893.6L1160.6 897.4L1163.8 901.0L1167.0 904.4L1170.2 907.5L1173.3 910.5L1176.5 913.2L1179.7 915.7L1182.9 918.0L1186.0 920.1L1189.2 922.0L1192.4 923.8L1195.5 925.4L1198.7 926.8L1201.9 928.1L1205.1 929.2L1208.2 930.3L1211.4 931.2L1214.6 932.0L1217.8 932.7L1220.9 933.3L1224.1 933.8L1227.3 934.3L1230.5 934.7L1233.6 935.1L1236.8 935.4L1240.0 935.6L1243.1 935.9L1246.3 936.0L1249.5 936.2L1252.7 936.3L1255.8 936.5L1259.0 936.5L1262.2 936.6L1265.4 936.7L1268.5 936.8L1271.7 936.8L1274.9 936.8L1278.1 936.9L1281.2 936.9L1284.4 936.9L1287.6 936.9L1290.8 936.9L1293.9 937.0L1297.1 937.0L1300.3 937.0L1303.4 937.0L1306.6 937.0L1309.8 937.0L1313.0 937.0L1316.1 937.0L1319.3 937.0L1322.5 937.0L1325.7 937.0L1325.7 937.0Z" fill="#fcd2f9" stroke="none"/>
<path d="M817.9 937.0L817.9 937.0L821.1 937.0L824.2 937.0L827.4 937.0L830.6 937.0L833.8 937.0L836.9 937.0L840.1 937.0L843.3 937.0L846.5 936.9L849.6 936.9L852.8 936.9L856.0 936.9L859.2 936.9L862.3 936.8L865.5 936.8L868.7 936.8L871.8 936.7L875.0 936.7L878.2 936.6L881.4 936.5L884.5 936.4L887.7 936.3L890.9 936.2L894.1 936.1L897.2 935.9L900.4 935.7L903.6 935.5L906.8 935.3L909.9 935.0L913.1 934.7L916.3 934.3L919.5 933.9L922.6 933.5L925.8 933.0L929.0 932.4L932.1 931.8L935.3 931.1L938.5 930.3L941.7 929.5L944.8 928.6L948.0 927.5L951.2 926.5L954.4 925.3L957.5 924.0L960.7 922.6L963.9 921.1L967.1 919.5L970.2 917.9L973.4 916.1L976.6 914.2L979.7 912.2L982.9 910.2L986.1 908.0L989.3 905.8L992.4 903.5L995.6 901.1L998.8 898.7L1002.0 896.2L1005.1 893.7L1008.3 891.2L1011.5 888.7L1014.7 886.2L1017.8 883.7L1021.0 881.3L1024.2 879.0L1027.4 876.7L1030.5 874.5L1033.7 872.4L1036.9 870.4L1040.0 868.6L1043.2 867.0L1046.4 865.5L1049.6 864.2L1052.7 863.1L1055.9 862.2L1059.1 861.5L1062.3 861.0L1065.4 860.8L1068.6 860.7L1071.8 860.9L1075.0 861.4L1078.1 862.0L1081.3 862.9L1084.5 863.9L1087.6 865.2L1090.8 866.6L1094.0 868.3L1097.2 870.1L1100.3 872.0L1103.5 874.0L1106.7 876.2L1109.9 878.5L1113.0 880.8L1116.2 883.3L1119.4 885.7L1122.6 888.2L1125.7 890.7L1128.9 893.2L1132.1 895.7L1135.2 898.2L1138.4 900.6L1141.6 903.0L1144.8 905.3L1147.9 907.6L1151.1 909.7L1154.3 911.8L1157.5 913.8L1160.6 915.7L1163.8 917.5L1167.0 919.2L1170.2 920.8L1173.3 922.3L1176.5 923.7L1179.7 925.0L1182.9 926.2L1186.0 927.3L1189.2 928.4L1192.4 929.3L1195.5 930.2L1198.7 930.9L1201.9 931.6L1205.1 932.3L1208.2 932.9L1211.4 933.4L1214.6 933.8L1217.8 934.2L1220.9 934.6L1224.1 934.9L1227.3 935.2L1230.5 935.5L1233.6 935.7L1236.8 935.9L1240.0 936.0L1243.1 936.2L1246.3 936.3L1249.5 936.4L1252.7 936.5L1255.8 936.6L1259.0 936.7L1262.2 936.7L1265.4 936.8L1268.5 936.8L1271.7 936.8L1274.9 936.9L1278.1 936.9L1281.2 936.9L1284.4 936.9L1287.6 936.9L1290.8 936.9L1293.9 937.0L1297.1 937.0L1300.3 937.0L1303.4 937.0L1306.6 937.0L1309.8 937.0L1313.0 937.0L1316.1 937.0L1319.3 937.0L1322.5 937.0L1325.7 937.0L1325.7 937.0Z" fill="#bdbdbd" stroke="none"/>
<path d="M817.9 937.0L817.9 937.0L821.1 937.0L824.2 937.0L827.4 937.0L830.6 937.0L833.8 937.0L836.9 937.0L840.1 937.0L843.3 937.0L846.5 937.0L849.6 937.0L852.8 937.0L856.0 937.0L859.2 937.0L862.3 937.0L865.5 937.0L868.7 937.0L871.8 937.0L875.0 937.0L878.2 937.0L881.4 937.0L884.5 937.0L887.7 937.0L890.9 937.0L894.1 937.0L897.2 937.0L900.4 937.0L903.6 937.0L906.8 937.0L909.9 937.0L913.1 937.0L916.3 937.0L919.5 937.0L922.6 937.0L925.8 937.0L929.0 937.0L932.1 937.0L935.3 937.0L938.5 937.0L941.7 937.0L944.8 937.0L948.0 937.0L951.2 937.0L954.4 937.0L957.5 937.0L960.7 937.0L963.9 937.0L967.1 937.0L970.2 937.0L973.4 937.0L976.6 937.0L979.7 937.0L982.9 937.0L986.1 937.0L989.3 937.0L992.4 937.0L995.6 937.0L998.8 937.0L1002.0 937.0L1005.1 937.0L1008.3 937.0L1011.5 937.0L1014.7 937.0L1017.8 937.0L1021.0 937.0L1024.2 937.0L1027.4 937.0L1030.5 937.0L1033.7 937.0L1036.9 937.0L1040.0 937.0L1043.2 936.9L1046.4 936.8L1049.6 936.5L1052.7 935.9L1055.9 934.8L1059.1 932.9L1062.3 929.8L1065.4 925.0L1068.6 918.1L1071.8 909.0L1075.0 897.7L1078.1 884.9L1081.3 871.8L1084.5 859.9L1087.6 850.9L1090.8 846.1L1094.0 846.3L1097.2 851.5L1100.3 860.8L1103.5 872.9L1106.7 886.0L1109.9 898.7L1113.0 909.8L1116.2 918.7L1119.4 925.4L1122.6 930.1L1125.7 933.1L1128.9 934.9L1132.1 935.9L1135.2 936.5L1138.4 936.8L1141.6 936.9L1144.8 937.0L1147.9 937.0L1151.1 937.0L1154.3 937.0L1157.5 937.0L1160.6 937.0L1163.8 937.0L1167.0 937.0L1170.2 937.0L1173.3 937.0L1176.5 937.0L1179.7 937.0L1182.9 937.0L1186.0 937.0L1189.2 937.0L1192.4 937.0L1195.5 937.0L1198.7 937.0L1201.9 937.0L1205.1 937.0L1208.2 937.0L1211.4 937.0L1214.6 937.0L1217.8 937.0L1220.9 937.0L1224.1 937.0L1227.3 937.0L1230.5 937.0L1233.6 937.0L1236.8 937.0L1240.0 937.0L1243.1 937.0L1246.3 937.0L1249.5 937.0L1252.7 937.0L1255.8 937.0L1259.0 937.0L1262.2 937.0L1265.4 937.0L1268.5 937.0L1271.7 937.0L1274.9 937.0L1278.1 937.0L1281.2 937.0L1284.4 937.0L1287.6 937.0L1290.8 937.0L1293.9 937.0L1297.1 937.0L1300.3 937.0L1303.4 937.0L1306.6 937.0L1309.8 937.0L1313.0 937.0L1316.1 937.0L1319.3 937.0L1322.5 937.0L1325.7 937.0L1325.7 937.0Z" fill="#d9f8d5" stroke="none"/>
<path d="M817.9 937.0L821.1 937.0L824.2 937.0L827.4 937.0L830.6 937.0L833.8 937.0L836.9 937.0L840.1 937.0L843.3 937.0L846.5 937.0L849.6 937.0L852.8 936.9L856.0 936.9L859.2 936.9L862.3 936.9L865.5 936.9L868.7 936.8L871.8 936.8L875.0 936.7L878.2 936.7L881.4 936.6L884.5 936.5L887.7 936.4L890.9 936.3L894.1 936.1L897.2 936.0L900.4 935.8L903.6 935.5L906.8 935.2L909.9 934.9L913.1 934.6L916.3 934.1L919.5 933.6L922.6 933.0L925.8 932.4L929.0 931.7L932.1 930.8L935.3 929.9L938.5 928.8L941.7 927.6L944.8 926.2L948.0 924.8L951.2 923.1L954.4 921.3L957.5 919.3L960.7 917.1L963.9 914.7L967.1 912.1L970.2 909.3L973.4 906.3L976.6 903.1L979.7 899.6L982.9 895.9L986.1 892.1L989.3 888.0L992.4 883.7L995.6 879.3L998.8 874.7L1002.0 869.9L1005.1 865.0L1008.3 860.0L1011.5 854.9L1014.7 849.8L1017.8 844.7L1021.0 839.6L1024.2 834.5L1027.4 829.6L1030.5 824.8L1033.7 820.1L1036.9 815.7L1040.0 811.5L1043.2 807.6L1046.4 804.0L1049.6 800.7L1052.7 797.8L1055.9 795.4L1059.1 793.4L1062.3 791.8L1065.4 790.7L1068.6 790.0L1071.8 789.9L1075.0 790.2L1078.1 791.1L1081.3 792.4L1084.5 794.1L1087.6 796.3L1090.8 798.9L1094.0 802.0L1097.2 805.4L1100.3 809.1L1103.5 813.1L1106.7 817.4L1109.9 822.0L1113.0 826.7L1116.2 831.6L1119.4 836.6L1122.6 841.6L1125.7 846.7L1128.9 851.9L1132.1 857.0L1135.2 862.0L1138.4 867.0L1141.6 871.8L1144.8 876.5L1147.9 881.1L1151.1 885.5L1154.3 889.7L1157.5 893.6L1160.6 897.4L1163.8 901.0L1167.0 904.4L1170.2 907.5L1173.3 910.5L1176.5 913.2L1179.7 915.7L1182.9 918.0L1186.0 920.1L1189.2 922.0L1192.4 923.8L1195.5 925.4L1198.7 926.8L1201.9 928.1L1205.1 929.2L1208.2 930.3L1211.4 931.2L1214.6 932.0L1217.8 932.7L1220.9 933.3L1224.1 933.8L1227.3 934.3L1230.5 934.7L1233.6 935.1L1236.8 935.4L1240.0 935.6L1243.1 935.9L1246.3 936.0L1249.5 936.2L1252.7 936.3L1255.8 936.5L1259.0 936.5L1262.2 936.6L1265.4 936.7L1268.5 936.8L1271.7 936.8L1274.9 936.8L1278.1 936.9L1281.2 936.9L1284.4 936.9L1287.6 936.9L1290.8 936.9L1293.9 937.0L1297.1 937.0L1300.3 937.0L1303.4 937.0L1306.6 937.0L1309.8 937.0L1313.0 937.0L1316.1 937.0L1319.3 937.0L1322.5 937.0L1325.7 937.0" fill="none" stroke="#c83cc8" stroke-width="1.5"/>
<path d="M817.9 937.0L821.1 937.0L824.2 937.0L827.4 937.0L830.6 937.0L833.8 937.0L836.9 937.0L840.1 937.0L843.3 937.0L846.5 936.9L849.6 936.9L852.8 936.9L856.0 936.9L859.2 936.9L862.3 936.8L865.5 936.8L868.7 936.8L871.8 936.7L875.0 936.7L878.2 936.6L881.4 936.5L884.5 936.4L887.7 936.3L890.9 936.2L894.1 936.1L897.2 935.9L900.4 935.7L903.6 935.5L906.8 935.3L909.9 935.0L913.1 934.7L916.3 934.3L919.5 933.9L922.6 933.5L925.8 933.0L929.0 932.4L932.1 931.8L935.3 931.1L938.5 930.3L941.7 929.5L944.8 928.6L948.0 927.5L951.2 926.5L954.4 925.3L957.5 924.0L960.7 922.6L963.9 921.1L967.1 919.5L970.2 917.9L973.4 916.1L976.6 914.2L979.7 912.2L982.9 910.2L986.1 908.0L989.3 905.8L992.4 903.5L995.6 901.1L998.8 898.7L1002.0 896.2L1005.1 893.7L1008.3 891.2L1011.5 888.7L1014.7 886.2L1017.8 883.7L1021.0 881.3L1024.2 879.0L1027.4 876.7L1030.5 874.5L1033.7 872.4L1036.9 870.4L1040.0 868.6L1043.2 867.0L1046.4 865.5L1049.6 864.2L1052.7 863.1L1055.9 862.2L1059.1 861.5L1062.3 861.0L1065.4 860.8L1068.6 860.7L1071.8 860.9L1075.0 861.4L1078.1 862.0L1081.3 862.9L1084.5 863.9L1087.6 865.2L1090.8 866.6L1094.0 868.3L1097.2 870.1L1100.3 872.0L1103.5 874.0L1106.7 876.2L1109.9 878.5L1113.0 880.8L1116.2 883.3L1119.4 885.7L1122.6 888.2L1125.7 890.7L1128.9 893.2L1132.1 895.7L1135.2 898.2L1138.4 900.6L1141.6 903.0L1144.8 905.3L1147.9 907.6L1151.1 909.7L1154.3 911.8L1157.5 913.8L1160.6 915.7L1163.8 917.5L1167.0 919.2L1170.2 920.8L1173.3 922.3L1176.5 923.7L1179.7 925.0L1182.9 926.2L1186.0 927.3L1189.2 928.4L1192.4 929.3L1195.5 930.2L1198.7 930.9L1201.9 931.6L1205.1 932.3L1208.2 932.9L1211.4 933.4L1214.6 933.8L1217.8 934.2L1220.9 934.6L1224.1 934.9L1227.3 935.2L1230.5 935.5L1233.6 935.7L1236.8 935.9L1240.0 936.0L1243.1 936.2L1246.3 936.3L1249.5 936.4L1252.7 936.5L1255.8 936.6L1259.0 936.7L1262.2 936.7L1265.4 936.8L1268.5 936.8L1271.7 936.8L1274.9 936.9L1278.1 936.9L1281.2 936.9L1284.4 936.9L1287.6 936.9L1290.8 936.9L1293.9 937.0L1297.1 937.0L1300.3 937.0L1303.4 937.0L1306.6 937.0L1309.8 937.0L1313.0 937.0L1316.1 937.0L1319.3 937.0L1322.5 937.0L1325.7 937.0" fill="none" stroke="#8a8a8a" stroke-width="1.2"/>
<path d="M817.9 937.0L821.1 937.0L824.2 937.0L827.4 937.0L830.6 937.0L833.8 937.0L836.9 937.0L840.1 937.0L843.3 937.0L846.5 937.0L849.6 937.0L852.8 937.0L856.0 937.0L859.2 937.0L862.3 937.0L865.5 937.0L868.7 937.0L871.8 937.0L875.0 937.0L878.2 937.0L881.4 937.0L884.5 937.0L887.7 937.0L890.9 937.0L894.1 937.0L897.2 937.0L900.4 937.0L903.6 937.0L906.8 937.0L909.9 937.0L913.1 937.0L916.3 937.0L919.5 937.0L922.6 937.0L925.8 937.0L929.0 937.0L932.1 937.0L935.3 937.0L938.5 937.0L941.7 937.0L944.8 937.0L948.0 937.0L951.2 937.0L954.4 937.0L957.5 937.0L960.7 937.0L963.9 937.0L967.1 937.0L970.2 937.0L973.4 937.0L976.6 937.0L979.7 937.0L982.9 937.0L986.1 937.0L989.3 937.0L992.4 937.0L995.6 937.0L998.8 937.0L1002.0 937.0L1005.1 937.0L1008.3 937.0L1011.5 937.0L1014.7 937.0L1017.8 937.0L1021.0 937.0L1024.2 937.0L1027.4 937.0L1030.5 937.0L1033.7 937.0L1036.9 937.0L1040.0 937.0L1043.2 936.9L1046.4 936.8L1049.6 936.5L1052.7 935.9L1055.9 934.8L1059.1 932.9L1062.3 929.8L1065.4 925.0L1068.6 918.1L1071.8 909.0L1075.0 897.7L1078.1 884.9L1081.3 871.8L1084.5 859.9L1087.6 850.9L1090.8 846.1L1094.0 846.3L1097.2 851.5L1100.3 860.8L1103.5 872.9L1106.7 886.0L1109.9 898.7L1113.0 909.8L1116.2 918.7L1119.4 925.4L1122.6 930.1L1125.7 933.1L1128.9 934.9L1132.1 935.9L1135.2 936.5L1138.4 936.8L1141.6 936.9L1144.8 937.0L1147.9 937.0L1151.1 937.0L1154.3 937.0L1157.5 937.0L1160.6 937.0L1163.8 937.0L1167.0 937.0L1170.2 937.0L1173.3 937.0L1176.5 937.0L1179.7 937.0L1182.9 937.0L1186.0 937.0L1189.2 937.0L1192.4 937.0L1195.5 937.0L1198.7 937.0L1201.9 937.0L1205.1 937.0L1208.2 937.0L1211.4 937.0L1214.6 937.0L1217.8 937.0L1220.9 937.0L1224.1 937.0L1227.3 937.0L1230.5 937.0L1233.6 937.0L1236.8 937.0L1240.0 937.0L1243.1 937.0L1246.3 937.0L1249.5 937.0L1252.7 937.0L1255.8 937.0L1259.0 937.0L1262.2 937.0L1265.4 937.0L1268.5 937.0L1271.7 937.0L1274.9 937.0L1278.1 937.0L1281.2 937.0L1284.4 937.0L1287.6 937.0L1290.8 937.0L1293.9 937.0L1297.1 937.0L1300.3 937.0L1303.4 937.0L1306.6 937.0L1309.8 937.0L1313.0 937.0L1316.1 937.0L1319.3 937.0L1322.5 937.0L1325.7 937.0" fill="none" stroke="#2f7a2f" stroke-width="1.5"/>
<path d="M817.9 936.8L819.5 936.7L821.1 936.7L822.7 936.9L824.2 936.8L825.8 936.9L827.4 936.7L829.0 936.9L830.6 936.9L832.2 936.9L833.8 936.8L835.4 936.4L836.9 936.1L838.5 936.1L840.1 936.1L841.7 936.2L843.3 936.2L844.9 936.3L846.5 936.2L848.0 936.2L849.6 936.0L851.2 936.2L852.8 936.1L854.4 936.1L856.0 935.9L857.6 935.6L859.2 935.5L860.7 935.7L862.3 935.7L863.9 935.8L865.5 935.6L867.1 935.3L868.7 934.7L870.3 934.5L871.8 934.6L873.4 934.7L875.0 934.8L876.6 934.6L878.2 934.4L879.8 933.8L881.4 933.7L883.0 933.9L884.5 933.7L886.1 933.3L887.7 932.9L889.3 932.7L890.9 932.5L892.5 932.4L894.1 932.1L895.7 931.8L897.2 931.3L898.8 931.3L900.4 930.8L902.0 930.4L903.6 929.7L905.2 929.4L906.8 928.7L908.3 928.3L909.9 927.9L911.5 927.8L913.1 927.4L914.7 926.6L916.3 925.3L917.9 924.6L919.5 924.2L921.0 924.0L922.6 923.0L924.2 922.2L925.8 921.4L927.4 920.9L929.0 920.0L930.6 918.9L932.1 917.4L933.7 916.4L935.3 915.5L936.9 914.7L938.5 913.3L940.1 912.0L941.7 911.0L943.3 909.8L944.8 908.4L946.4 907.0L948.0 905.9L949.6 904.5L951.2 902.7L952.8 900.6L954.4 899.0L955.9 897.5L957.5 896.0L959.1 894.5L960.7 892.6L962.3 890.7L963.9 888.5L965.5 885.9L967.1 883.9L968.6 881.5L970.2 879.7L971.8 876.6L973.4 874.0L975.0 871.5L976.6 869.1L978.2 866.5L979.7 863.9L981.3 860.9L982.9 857.8L984.5 854.2L986.1 851.4L987.7 848.3L989.3 845.8L990.9 843.5L992.4 840.4L994.0 837.2L995.6 833.3L997.2 830.3L998.8 827.2L1000.4 824.6L1002.0 820.9L1003.5 816.6L1005.1 812.8L1006.7 809.5L1008.3 805.9L1009.9 802.6L1011.5 799.5L1013.1 797.2L1014.7 792.7L1016.2 788.9L1017.8 785.1L1019.4 783.1L1021.0 779.9L1022.6 775.7L1024.2 771.6L1025.8 768.3L1027.4 765.3L1028.9 762.7L1030.5 759.8L1032.1 758.0L1033.7 756.9L1035.3 757.0L1036.9 756.0L1038.5 752.4L1040.0 747.1L1041.6 741.6L1043.2 736.5L1044.8 733.0L1046.4 730.4L1048.0 727.3L1049.6 723.1L1051.2 718.8L1052.7 716.8L1054.3 713.7L1055.9 711.0L1057.5 707.1L1059.1 704.0L1060.7 700.3L1062.3 695.0L1063.8 692.1L1065.4 687.9L1067.0 684.8L1068.6 679.4L1070.2 674.0L1071.8 668.2L1073.4 663.8L1075.0 660.0L1076.5 655.6L1078.1 651.3L1079.7 646.0L1081.3 642.8L1082.9 639.3L1084.5 639.7L1086.1 639.5L1087.6 641.0L1089.2 641.1L1090.8 638.9L1092.4 637.7L1094.0 638.2L1095.6 643.6L1097.2 646.4L1098.8 651.0L1100.3 655.6L1101.9 663.2L1103.5 670.9L1105.1 679.8L1106.7 688.7L1108.3 696.6L1109.9 704.3L1111.4 711.1L1113.0 720.3L1114.6 729.0L1116.2 738.6L1117.8 744.9L1119.4 752.7L1121.0 758.7L1122.6 765.3L1124.1 771.0L1125.7 777.0L1127.3 784.6L1128.9 790.0L1130.5 796.2L1132.1 799.8L1133.7 804.1L1135.2 808.1L1136.8 811.8L1138.4 815.7L1140.0 819.4L1141.6 823.7L1143.2 828.0L1144.8 831.3L1146.4 833.7L1147.9 836.7L1149.5 839.7L1151.1 843.7L1152.7 846.2L1154.3 849.2L1155.9 851.9L1157.5 855.6L1159.1 858.6L1160.6 860.8L1162.2 862.9L1163.8 865.0L1165.4 867.9L1167.0 870.7L1168.6 873.1L1170.2 875.0L1171.7 876.8L1173.3 879.1L1174.9 881.1L1176.5 883.0L1178.1 884.7L1179.7 886.7L1181.3 888.8L1182.9 890.6L1184.4 892.3L1186.0 893.6L1187.6 895.0L1189.2 896.4L1190.8 897.6L1192.4 898.8L1194.0 900.1L1195.5 901.8L1197.1 903.4L1198.7 904.4L1200.3 905.4L1201.9 906.6L1203.5 907.8L1205.1 908.8L1206.7 909.6L1208.2 910.5L1209.8 911.7L1211.4 912.7L1213.0 913.7L1214.6 914.5L1216.2 915.6L1217.8 916.4L1219.3 917.3L1220.9 917.5L1222.5 917.9L1224.1 918.2L1225.7 918.9L1227.3 919.8L1228.9 920.5L1230.5 921.2L1232.0 921.5L1233.6 922.3L1235.2 922.8L1236.8 923.2L1238.4 923.3L1240.0 923.6L1241.6 923.8L1243.1 924.0L1244.7 924.5L1246.3 925.1L1247.9 925.9L1249.5 926.0L1251.1 926.4L1252.7 926.5L1254.3 926.7L1255.8 926.7L1257.4 926.9L1259.0 927.3L1260.6 927.6L1262.2 927.8L1263.8 928.0L1265.4 928.2L1267.0 928.4L1268.5 928.8L1270.1 928.9L1271.7 928.9L1273.3 929.0L1274.9 929.4L1276.5 929.6L1278.1 929.9L1279.6 930.3L1281.2 930.6L1282.8 930.7L1284.4 930.5L1286.0 930.5L1287.6 930.7L1289.2 930.9L1290.8 931.4L1292.3 931.8L1293.9 932.0L1295.5 931.8L1297.1 932.0L1298.7 932.3L1300.3 932.4L1301.9 932.7L1303.4 933.0L1305.0 933.3L1306.6 933.2L1308.2 933.1L1309.8 933.5L1311.4 933.7L1313.0 934.0L1314.6 933.8L1316.1 933.9L1317.7 933.9L1319.3 934.0L1320.9 934.2L1322.5 934.2L1324.1 934.3L1325.7 934.3" fill="none" stroke="#5e0c2c" stroke-width="3"/>
<path d="M817.9 936.8L821.1 936.8L824.2 936.7L827.4 936.7L830.6 936.6L833.8 936.6L836.9 936.5L840.1 936.4L843.3 936.3L846.5 936.2L849.6 936.1L852.8 936.0L856.0 935.8L859.2 935.7L862.3 935.5L865.5 935.3L868.7 935.1L871.8 934.8L875.0 934.5L878.2 934.2L881.4 933.8L884.5 933.4L887.7 933.0L890.9 932.5L894.1 932.0L897.2 931.4L900.4 930.7L903.6 930.0L906.8 929.2L909.9 928.4L913.1 927.4L916.3 926.4L919.5 925.3L922.6 924.0L925.8 922.7L929.0 921.2L932.1 919.5L935.3 917.7L938.5 915.7L941.7 913.5L944.8 911.0L948.0 908.3L951.2 905.4L954.4 902.2L957.5 898.7L960.7 894.9L963.9 890.8L967.1 886.4L970.2 881.7L973.4 876.7L976.6 871.4L979.7 865.9L982.9 860.1L986.1 854.1L989.3 847.8L992.4 841.4L995.6 834.7L998.8 827.9L1002.0 821.0L1005.1 814.0L1008.3 807.0L1011.5 799.9L1014.7 792.8L1017.8 785.7L1021.0 778.7L1024.2 771.9L1027.4 765.2L1030.5 758.7L1033.7 752.4L1036.9 746.3L1040.0 740.5L1043.2 734.8L1046.4 729.2L1049.6 723.6L1052.7 717.8L1055.9 711.6L1059.1 704.9L1062.3 697.3L1065.4 688.8L1068.6 679.5L1071.8 669.6L1075.0 659.5L1078.1 649.9L1081.3 641.7L1084.5 635.6L1087.6 632.5L1090.8 633.0L1094.0 637.4L1097.2 645.6L1100.3 657.1L1103.5 671.4L1106.7 687.4L1109.9 704.3L1113.0 721.2L1116.2 737.4L1119.4 752.5L1122.6 766.2L1125.7 778.6L1128.9 789.7L1132.1 799.6L1135.2 808.7L1138.4 817.0L1141.6 824.7L1144.8 832.1L1147.9 839.0L1151.1 845.7L1154.3 852.0L1157.5 858.1L1160.6 863.9L1163.8 869.5L1167.0 874.8L1170.2 879.8L1173.3 884.5L1176.5 888.9L1179.7 893.1L1182.9 897.0L1186.0 900.7L1189.2 904.0L1192.4 907.2L1195.5 910.0L1198.7 912.7L1201.9 915.2L1205.1 917.4L1208.2 919.4L1211.4 921.3L1214.6 923.0L1217.8 924.5L1220.9 925.9L1224.1 927.1L1227.3 928.3L1230.5 929.3L1233.6 930.2L1236.8 931.0L1240.0 931.7L1243.1 932.3L1246.3 932.9L1249.5 933.4L1252.7 933.9L1255.8 934.3L1259.0 934.6L1262.2 934.9L1265.4 935.2L1268.5 935.4L1271.7 935.6L1274.9 935.8L1278.1 936.0L1281.2 936.1L1284.4 936.2L1287.6 936.3L1290.8 936.4L1293.9 936.5L1297.1 936.6L1300.3 936.6L1303.4 936.7L1306.6 936.7L1309.8 936.8L1313.0 936.8L1316.1 936.8L1319.3 936.9L1322.5 936.9L1325.7 936.9" fill="none" stroke="#000" stroke-width="3" stroke-dasharray="7.7 6.7"/>
</g>
<rect x="817.90" y="570.90" width="507.70" height="402.30" fill="none" stroke="#111" stroke-width="1.6"/>
<path d="M817.90 973.20v8M881.37 973.20v8M944.84 973.20v8M1008.31 973.20v8M1071.78 973.20v8M1135.25 973.20v8M1198.72 973.20v8M1262.19 973.20v8M1325.66 973.20v8M830.59 973.20v4.5M843.29 973.20v4.5M855.98 973.20v4.5M868.68 973.20v4.5M894.06 973.20v4.5M906.76 973.20v4.5M919.45 973.20v4.5M932.15 973.20v4.5M957.53 973.20v4.5M970.23 973.20v4.5M982.92 973.20v4.5M995.62 973.20v4.5M1021.00 973.20v4.5M1033.70 973.20v4.5M1046.39 973.20v4.5M1059.09 973.20v4.5M1084.47 973.20v4.5M1097.17 973.20v4.5M1109.86 973.20v4.5M1122.56 973.20v4.5M1147.94 973.20v4.5M1160.64 973.20v4.5M1173.33 973.20v4.5M1186.03 973.20v4.5M1211.41 973.20v4.5M1224.11 973.20v4.5M1236.80 973.20v4.5M1249.50 973.20v4.5M1274.88 973.20v4.5M1287.58 973.20v4.5M1300.27 973.20v4.5M1312.97 973.20v4.5" stroke="#111" stroke-width="1.6" fill="none"/>
<text x="817.90" y="1006.60" font-size="24.9" text-anchor="middle">750</text>
<text x="881.37" y="1006.60" font-size="24.9" text-anchor="middle">760</text>
<text x="944.84" y="1006.60" font-size="24.9" text-anchor="middle">770</text>
<text x="1008.31" y="1006.60" font-size="24.9" text-anchor="middle">780</text>
<text x="1071.78" y="1006.60" font-size="24.9" text-anchor="middle">790</text>
<text x="1135.25" y="1006.60" font-size="24.9" text-anchor="middle">800</text>
<text x="1198.72" y="1006.60" font-size="24.9" text-anchor="middle">810</text>
<text x="1262.19" y="1006.60" font-size="24.9" text-anchor="middle">820</text>
<text x="1325.66" y="1006.60" font-size="24.9" text-anchor="middle">830</text>
<path d="M817.90 937.00h-8M817.90 865.24h-8M817.90 793.48h-8M817.90 721.72h-8M817.90 649.96h-8M817.90 578.20h-8M817.90 901.12h-4.5M817.90 829.36h-4.5M817.90 757.60h-4.5M817.90 685.84h-4.5M817.90 614.08h-4.5" stroke="#111" stroke-width="1.6" fill="none"/>
<text x="804.30" y="945.30" font-size="24.9" text-anchor="end">0.0</text>
<text x="804.30" y="873.54" font-size="24.9" text-anchor="end">0.2</text>
<text x="804.30" y="801.78" font-size="24.9" text-anchor="end">0.4</text>
<text x="804.30" y="730.02" font-size="24.9" text-anchor="end">0.6</text>
<text x="804.30" y="658.26" font-size="24.9" text-anchor="end">0.8</text>
<text x="804.30" y="586.50" font-size="24.9" text-anchor="end">1.0</text>
<text x="1071.75" y="1046.60" font-size="25.2" text-anchor="middle">Wavelength (nm)</text>
<text transform="translate(761.10 772.05) rotate(-90)" font-size="25.2" text-anchor="middle">Output intensity (a.u.)</text>
<text x="833.2" y="603.6" font-size="21.3">Const <tspan font-style="italic">V</tspan><tspan font-size="13" dy="5">p</tspan><tspan dy="-5"> (3.5 kA·cm</tspan><tspan font-size="13" dy="-8">-2</tspan><tspan dy="8">) + Const </tspan><tspan font-style="italic">I</tspan><tspan font-size="13" dy="5">opt,ns</tspan><tspan dy="-5"> (15.6 µJ·cm</tspan><tspan font-size="13" dy="-8">-2</tspan><tspan dy="8">)</tspan></text>
<path d="M842.2 643.0H891.1" stroke="#5e0c2c" stroke-width="3"/>
<text x="895.3" y="649.8" font-size="21.3">Measured</text>
<path d="M842.2 668.5H891.1" stroke="#000" stroke-width="3" stroke-dasharray="7.7 6.7"/>
<text x="895.3" y="674.9" font-size="21.3">Total Fit</text>
<rect x="906.0" y="946.0" width="14.5" height="14" fill="#fcd2f9" stroke="#d060d0" stroke-width="1.2"/>
<text x="933.5" y="959.7" font-size="21.3">SE (PL)</text>
<rect x="1035.0" y="946.0" width="14.5" height="14" fill="#bdbdbd" stroke="#999" stroke-width="1.2"/>
<text x="1065.3" y="959.7" font-size="21.3">SE (EL)</text>
<rect x="1167.8" y="946.0" width="14.5" height="14" fill="#d9f8d5" stroke="#5a9a5a" stroke-width="1.2"/>
<text x="1196.5" y="959.7" font-size="21.3">ASE</text>
<text x="2.4" y="1107.3" font-size="32" font-weight="bold">e</text>
<g clip-path="url(#ce)">
<path d="M119.1 1475.8H126.3M119.1 1471.8v8M126.3 1471.8v8M133.7 1475.8H141.5M133.7 1471.8v8M141.5 1471.8v8M151.0 1475.8H159.9M151.0 1471.8v8M159.9 1471.8v8M173.3 1475.8H185.2M173.3 1471.8v8M185.2 1471.8v8M199.4 1475.8H212.6M199.4 1471.8v8M212.6 1471.8v8M227.7 1475.8H243.8M227.7 1471.8v8M243.8 1471.8v8M260.4 1475.8H276.6M260.4 1471.8v8M276.6 1471.8v8M295.5 1475.8H312.9M295.5 1471.8v8M312.9 1471.8v8M331.0 1475.8H348.9M331.0 1471.8v8M348.9 1471.8v8M366.7 1475.8H384.6M366.7 1471.8v8M384.6 1471.8v8M405.3 1475.8H423.3M405.3 1471.8v8M423.3 1471.8v8M441.1 1475.8H459.0M441.1 1471.8v8M459.0 1471.8v8M476.8 1475.8H494.7M476.8 1471.8v8M494.7 1471.8v8M510.4 1475.8H526.5M510.4 1471.8v8M526.5 1471.8v8M541.0 1475.8H555.4M541.0 1471.8v8M555.4 1471.8v8M568.6 1475.8H581.4M568.6 1471.8v8M581.4 1471.8v8" stroke="#262626" stroke-width="1.05" fill="none"/>
<polyline points="122.7,1475.8 137.6,1475.8 155.4,1475.8 179.2,1475.8 206.0,1475.8 235.8,1475.8 268.5,1475.8 304.2,1475.8 339.9,1475.8 375.6,1475.8 414.3,1475.8 450.0,1475.8 485.7,1475.8 518.4,1475.8 548.2,1475.8 575.0,1475.8" fill="none" stroke="#8a8a8a" stroke-width="3.2" stroke-linejoin="round"/>
<circle cx="122.7" cy="1475.8" r="5.1" fill="#8a8a8a"/>
<circle cx="137.6" cy="1475.8" r="5.1" fill="#8a8a8a"/>
<circle cx="155.4" cy="1475.8" r="5.1" fill="#8a8a8a"/>
<circle cx="179.2" cy="1475.8" r="5.1" fill="#8a8a8a"/>
<circle cx="206.0" cy="1475.8" r="5.1" fill="#8a8a8a"/>
<circle cx="235.8" cy="1475.8" r="5.1" fill="#8a8a8a"/>
<circle cx="268.5" cy="1475.8" r="5.1" fill="#8a8a8a"/>
<circle cx="304.2" cy="1475.8" r="5.1" fill="#8a8a8a"/>
<circle cx="339.9" cy="1475.8" r="5.1" fill="#8a8a8a"/>
<circle cx="375.6" cy="1475.8" r="5.1" fill="#8a8a8a"/>
<circle cx="414.3" cy="1475.8" r="5.1" fill="#8a8a8a"/>
<circle cx="450.0" cy="1475.8" r="5.1" fill="#8a8a8a"/>
<circle cx="485.7" cy="1475.8" r="5.1" fill="#8a8a8a"/>
<circle cx="518.4" cy="1475.8" r="5.1" fill="#8a8a8a"/>
<circle cx="548.2" cy="1475.8" r="5.1" fill="#8a8a8a"/>
<circle cx="575.0" cy="1475.8" r="5.1" fill="#8a8a8a"/>
<polyline points="122.7,1507.4 137.6,1507.4 155.4,1507.4 179.2,1507.4 206.0,1507.4 235.8,1507.4 268.5,1507.4 304.2,1506.1 339.9,1500.3 375.6,1489.4 414.3,1475.9 450.0,1455.8 485.7,1428.8 518.4,1411.2 548.2,1385.2 575.0,1370.7" fill="none" stroke="#1010b0" stroke-width="3.2" stroke-linejoin="round"/>
<rect x="118.9" y="1503.6" width="7.6" height="7.6" fill="none" stroke="#1010b0" stroke-width="1.3"/>
<rect x="133.8" y="1503.6" width="7.6" height="7.6" fill="none" stroke="#1010b0" stroke-width="1.3"/>
<rect x="151.6" y="1503.6" width="7.6" height="7.6" fill="none" stroke="#1010b0" stroke-width="1.3"/>
<rect x="175.4" y="1503.6" width="7.6" height="7.6" fill="none" stroke="#1010b0" stroke-width="1.3"/>
<rect x="202.2" y="1503.6" width="7.6" height="7.6" fill="none" stroke="#1010b0" stroke-width="1.3"/>
<rect x="232.0" y="1503.6" width="7.6" height="7.6" fill="none" stroke="#1010b0" stroke-width="1.3"/>
<rect x="264.7" y="1503.6" width="7.6" height="7.6" fill="none" stroke="#1010b0" stroke-width="1.3"/>
<rect x="300.4" y="1502.3" width="7.6" height="7.6" fill="none" stroke="#1010b0" stroke-width="1.3"/>
<rect x="336.1" y="1496.5" width="7.6" height="7.6" fill="none" stroke="#1010b0" stroke-width="1.3"/>
<rect x="371.8" y="1485.6" width="7.6" height="7.6" fill="none" stroke="#1010b0" stroke-width="1.3"/>
<rect x="410.5" y="1472.1" width="7.6" height="7.6" fill="none" stroke="#1010b0" stroke-width="1.3"/>
<rect x="446.2" y="1452.0" width="7.6" height="7.6" fill="none" stroke="#1010b0" stroke-width="1.3"/>
<rect x="481.9" y="1425.0" width="7.6" height="7.6" fill="none" stroke="#1010b0" stroke-width="1.3"/>
<rect x="514.6" y="1407.4" width="7.6" height="7.6" fill="none" stroke="#1010b0" stroke-width="1.3"/>
<rect x="544.4" y="1381.4" width="7.6" height="7.6" fill="none" stroke="#1010b0" stroke-width="1.3"/>
<rect x="571.2" y="1366.9" width="7.6" height="7.6" fill="none" stroke="#1010b0" stroke-width="1.3"/>
<path d="M119.1 1507.4H126.3M119.1 1503.4v8M126.3 1503.4v8M122.7 1503.9v7M133.7 1507.4H141.5M133.7 1503.4v8M141.5 1503.4v8M137.6 1503.9v7M151.0 1507.4H159.9M151.0 1503.4v8M159.9 1503.4v8M155.4 1503.9v7M173.3 1507.4H185.2M173.3 1503.4v8M185.2 1503.4v8M179.2 1503.9v7M199.4 1507.4H212.6M199.4 1503.4v8M212.6 1503.4v8M206.0 1503.9v7M227.7 1507.4H243.8M227.7 1503.4v8M243.8 1503.4v8M235.8 1503.9v7M260.4 1507.4H276.6M260.4 1503.4v8M276.6 1503.4v8M268.5 1503.9v7M295.5 1506.1H312.9M295.5 1502.1v8M312.9 1502.1v8M304.2 1502.6v7M331.0 1500.3H348.9M331.0 1496.3v8M348.9 1496.3v8M339.9 1496.8v7M366.7 1489.4H384.6M366.7 1485.4v8M384.6 1485.4v8M375.6 1485.9v7M405.3 1475.9H423.3M405.3 1471.9v8M423.3 1471.9v8M414.3 1472.4v7M441.1 1455.8H459.0M441.1 1451.8v8M459.0 1451.8v8M450.0 1452.3v7M476.8 1428.8H494.7M476.8 1424.8v8M494.7 1424.8v8M485.7 1425.3v7M510.4 1411.2H526.5M510.4 1407.2v8M526.5 1407.2v8M518.4 1407.7v7M541.0 1385.2H555.4M541.0 1381.2v8M555.4 1381.2v8M548.2 1381.7v7M568.6 1370.7H581.4M568.6 1366.7v8M581.4 1366.7v8M575.0 1367.2v7" stroke="#262626" stroke-width="1.05" fill="none"/>
<polyline points="122.7,1507.4 137.6,1507.4 155.4,1507.4 179.2,1507.4 206.0,1507.4 235.8,1506.8 268.5,1504.2 304.2,1497.0 339.9,1486.9 375.6,1475.9 414.3,1463.5 450.0,1427.2 485.7,1409.6 518.4,1388.2 548.2,1365.5 575.0,1341.0" fill="none" stroke="#9e2070" stroke-width="3.2" stroke-linejoin="round"/>
<circle cx="122.7" cy="1507.4" r="4" fill="none" stroke="#7a1550" stroke-width="1.2"/>
<circle cx="137.6" cy="1507.4" r="4" fill="none" stroke="#7a1550" stroke-width="1.2"/>
<circle cx="155.4" cy="1507.4" r="4" fill="none" stroke="#7a1550" stroke-width="1.2"/>
<circle cx="179.2" cy="1507.4" r="4" fill="none" stroke="#7a1550" stroke-width="1.2"/>
<circle cx="206.0" cy="1507.4" r="4" fill="none" stroke="#7a1550" stroke-width="1.2"/>
<circle cx="235.8" cy="1506.8" r="4" fill="none" stroke="#7a1550" stroke-width="1.2"/>
<circle cx="268.5" cy="1504.2" r="4" fill="none" stroke="#7a1550" stroke-width="1.2"/>
<circle cx="304.2" cy="1497.0" r="4" fill="none" stroke="#7a1550" stroke-width="1.2"/>
<circle cx="339.9" cy="1486.9" r="4" fill="none" stroke="#7a1550" stroke-width="1.2"/>
<circle cx="375.6" cy="1475.9" r="4" fill="none" stroke="#7a1550" stroke-width="1.2"/>
<circle cx="414.3" cy="1463.5" r="4" fill="none" stroke="#7a1550" stroke-width="1.2"/>
<circle cx="450.0" cy="1427.2" r="4" fill="none" stroke="#7a1550" stroke-width="1.2"/>
<circle cx="485.7" cy="1409.6" r="4" fill="none" stroke="#7a1550" stroke-width="1.2"/>
<circle cx="518.4" cy="1388.2" r="4" fill="none" stroke="#7a1550" stroke-width="1.2"/>
<circle cx="548.2" cy="1365.5" r="4" fill="none" stroke="#7a1550" stroke-width="1.2"/>
<circle cx="575.0" cy="1341.0" r="4" fill="none" stroke="#7a1550" stroke-width="1.2"/>
<path d="M119.1 1507.4H126.3M119.1 1503.4v8M126.3 1503.4v8M122.7 1503.9v7M133.7 1507.4H141.5M133.7 1503.4v8M141.5 1503.4v8M137.6 1503.9v7M151.0 1507.4H159.9M151.0 1503.4v8M159.9 1503.4v8M155.4 1503.9v7M173.3 1507.4H185.2M173.3 1503.4v8M185.2 1503.4v8M179.2 1503.9v7M199.4 1507.4H212.6M199.4 1503.4v8M212.6 1503.4v8M206.0 1503.9v7M227.7 1506.8H243.8M227.7 1502.8v8M243.8 1502.8v8M235.8 1503.3v7M260.4 1504.2H276.6M260.4 1500.2v8M276.6 1500.2v8M268.5 1500.7v7M295.5 1497.0H312.9M295.5 1493.0v8M312.9 1493.0v8M304.2 1493.5v7M331.0 1486.9H348.9M331.0 1482.9v8M348.9 1482.9v8M339.9 1483.4v7M366.7 1475.9H384.6M366.7 1471.9v8M384.6 1471.9v8M375.6 1472.4v7M405.3 1463.5H423.3M405.3 1459.5v8M423.3 1459.5v8M414.3 1460.0v7M441.1 1427.2H459.0M441.1 1423.2v8M459.0 1423.2v8M450.0 1423.7v7M476.8 1409.6H494.7M476.8 1405.6v8M494.7 1405.6v8M485.7 1406.1v7M510.4 1388.2H526.5M510.4 1384.2v8M526.5 1384.2v8M518.4 1384.7v7M541.0 1365.5H555.4M541.0 1361.5v8M555.4 1361.5v8M548.2 1362.0v7M568.6 1341.0H581.4M568.6 1337.0v8M581.4 1337.0v8M575.0 1337.5v7" stroke="#262626" stroke-width="1.05" fill="none"/>
<polyline points="122.7,1507.4 137.6,1506.1 155.4,1501.6 179.2,1485.4 206.0,1464.6 235.8,1443.2 268.5,1422.5 304.2,1399.8 339.9,1380.4 375.6,1358.1 414.3,1332.1 450.0,1312.5 485.7,1293.1 518.4,1280.1 548.2,1262.5 575.0,1248.0" fill="none" stroke="#1010b0" stroke-width="3.2" stroke-linejoin="round"/>
<rect x="118.9" y="1503.6" width="7.6" height="7.6" fill="#1010b0" stroke="#1010b0" stroke-width="1.3"/>
<rect x="133.8" y="1502.3" width="7.6" height="7.6" fill="#1010b0" stroke="#1010b0" stroke-width="1.3"/>
<rect x="151.6" y="1497.8" width="7.6" height="7.6" fill="#1010b0" stroke="#1010b0" stroke-width="1.3"/>
<rect x="175.4" y="1481.6" width="7.6" height="7.6" fill="#1010b0" stroke="#1010b0" stroke-width="1.3"/>
<rect x="202.2" y="1460.8" width="7.6" height="7.6" fill="#1010b0" stroke="#1010b0" stroke-width="1.3"/>
<rect x="232.0" y="1439.4" width="7.6" height="7.6" fill="#1010b0" stroke="#1010b0" stroke-width="1.3"/>
<rect x="264.7" y="1418.7" width="7.6" height="7.6" fill="#1010b0" stroke="#1010b0" stroke-width="1.3"/>
<rect x="300.4" y="1396.0" width="7.6" height="7.6" fill="#1010b0" stroke="#1010b0" stroke-width="1.3"/>
<rect x="336.1" y="1376.6" width="7.6" height="7.6" fill="#1010b0" stroke="#1010b0" stroke-width="1.3"/>
<rect x="371.8" y="1354.3" width="7.6" height="7.6" fill="#1010b0" stroke="#1010b0" stroke-width="1.3"/>
<rect x="410.5" y="1328.3" width="7.6" height="7.6" fill="#1010b0" stroke="#1010b0" stroke-width="1.3"/>
<rect x="446.2" y="1308.7" width="7.6" height="7.6" fill="#1010b0" stroke="#1010b0" stroke-width="1.3"/>
<rect x="481.9" y="1289.3" width="7.6" height="7.6" fill="#1010b0" stroke="#1010b0" stroke-width="1.3"/>
<rect x="514.6" y="1276.3" width="7.6" height="7.6" fill="#1010b0" stroke="#1010b0" stroke-width="1.3"/>
<rect x="544.4" y="1258.7" width="7.6" height="7.6" fill="#1010b0" stroke="#1010b0" stroke-width="1.3"/>
<rect x="571.2" y="1244.2" width="7.6" height="7.6" fill="#1010b0" stroke="#1010b0" stroke-width="1.3"/>
<path d="M119.1 1507.4H126.3M119.1 1503.4v8M126.3 1503.4v8M122.7 1503.9v7M133.7 1506.1H141.5M133.7 1502.1v8M141.5 1502.1v8M137.6 1502.6v7M151.0 1501.6H159.9M151.0 1497.6v8M159.9 1497.6v8M155.4 1498.1v7M173.3 1485.4H185.2M173.3 1481.4v8M185.2 1481.4v8M179.2 1481.9v7M199.4 1464.6H212.6M199.4 1460.6v8M212.6 1460.6v8M206.0 1461.1v7M227.7 1443.2H243.8M227.7 1439.2v8M243.8 1439.2v8M235.8 1439.7v7M260.4 1422.5H276.6M260.4 1418.5v8M276.6 1418.5v8M268.5 1419.0v7M295.5 1399.8H312.9M295.5 1395.8v8M312.9 1395.8v8M304.2 1396.3v7M331.0 1380.4H348.9M331.0 1376.4v8M348.9 1376.4v8M339.9 1376.9v7M366.7 1358.1H384.6M366.7 1354.1v8M384.6 1354.1v8M375.6 1354.6v7M405.3 1332.1H423.3M405.3 1328.1v8M423.3 1328.1v8M414.3 1328.6v7M441.1 1312.5H459.0M441.1 1308.5v8M459.0 1308.5v8M450.0 1309.0v7M476.8 1293.1H494.7M476.8 1289.1v8M494.7 1289.1v8M485.7 1289.6v7M510.4 1280.1H526.5M510.4 1276.1v8M526.5 1276.1v8M518.4 1276.6v7M541.0 1262.5H555.4M541.0 1258.5v8M555.4 1258.5v8M548.2 1259.0v7M568.6 1248.0H581.4M568.6 1244.0v8M581.4 1244.0v8M575.0 1244.5v7" stroke="#262626" stroke-width="1.05" fill="none"/>
<polyline points="122.7,1504.2 137.6,1500.3 155.4,1495.1 179.2,1475.0 206.0,1466.6 235.8,1439.4 268.5,1423.8 304.2,1397.9 339.9,1376.8 375.6,1374.6 414.3,1339.1 450.0,1305.7 485.7,1292.3 518.4,1257.3 548.2,1268.9 575.0,1241.7" fill="none" stroke="#9e2070" stroke-width="3.2" stroke-linejoin="round"/>
<circle cx="122.7" cy="1504.2" r="4" fill="#9a2068" stroke="#5a0f3a" stroke-width="1.2"/>
<circle cx="137.6" cy="1500.3" r="4" fill="#9a2068" stroke="#5a0f3a" stroke-width="1.2"/>
<circle cx="155.4" cy="1495.1" r="4" fill="#9a2068" stroke="#5a0f3a" stroke-width="1.2"/>
<circle cx="179.2" cy="1475.0" r="4" fill="#9a2068" stroke="#5a0f3a" stroke-width="1.2"/>
<circle cx="206.0" cy="1466.6" r="4" fill="#9a2068" stroke="#5a0f3a" stroke-width="1.2"/>
<circle cx="235.8" cy="1439.4" r="4" fill="#9a2068" stroke="#5a0f3a" stroke-width="1.2"/>
<circle cx="268.5" cy="1423.8" r="4" fill="#9a2068" stroke="#5a0f3a" stroke-width="1.2"/>
<circle cx="304.2" cy="1397.9" r="4" fill="#9a2068" stroke="#5a0f3a" stroke-width="1.2"/>
<circle cx="339.9" cy="1376.8" r="4" fill="#9a2068" stroke="#5a0f3a" stroke-width="1.2"/>
<circle cx="375.6" cy="1374.6" r="4" fill="#9a2068" stroke="#5a0f3a" stroke-width="1.2"/>
<circle cx="414.3" cy="1339.1" r="4" fill="#9a2068" stroke="#5a0f3a" stroke-width="1.2"/>
<circle cx="450.0" cy="1305.7" r="4" fill="#9a2068" stroke="#5a0f3a" stroke-width="1.2"/>
<circle cx="485.7" cy="1292.3" r="4" fill="#9a2068" stroke="#5a0f3a" stroke-width="1.2"/>
<circle cx="518.4" cy="1257.3" r="4" fill="#9a2068" stroke="#5a0f3a" stroke-width="1.2"/>
<circle cx="548.2" cy="1268.9" r="4" fill="#9a2068" stroke="#5a0f3a" stroke-width="1.2"/>
<circle cx="575.0" cy="1241.7" r="4" fill="#9a2068" stroke="#5a0f3a" stroke-width="1.2"/>
<path d="M119.1 1504.2H126.3M119.1 1500.2v8M126.3 1500.2v8M122.7 1500.7v7M133.7 1500.3H141.5M133.7 1496.3v8M141.5 1496.3v8M137.6 1496.8v7M151.0 1495.1H159.9M151.0 1491.1v8M159.9 1491.1v8M155.4 1491.6v7M173.3 1475.0H185.2M173.3 1471.0v8M185.2 1471.0v8M179.2 1471.5v7M199.4 1466.6H212.6M199.4 1462.6v8M212.6 1462.6v8M206.0 1463.1v7M227.7 1439.4H243.8M227.7 1435.4v8M243.8 1435.4v8M235.8 1435.9v7M260.4 1423.8H276.6M260.4 1419.8v8M276.6 1419.8v8M268.5 1420.3v7M295.5 1397.9H312.9M295.5 1393.9v8M312.9 1393.9v8M304.2 1394.4v7M331.0 1376.8H348.9M331.0 1372.8v8M348.9 1372.8v8M339.9 1373.3v7M366.7 1374.6H384.6M366.7 1370.6v8M384.6 1370.6v8M375.6 1371.1v7M405.3 1339.1H423.3M405.3 1335.1v8M423.3 1335.1v8M414.3 1335.6v7M441.1 1305.7H459.0M441.1 1301.7v8M459.0 1301.7v8M450.0 1302.2v7M476.8 1292.3H494.7M476.8 1288.3v8M494.7 1288.3v8M485.7 1288.8v7M510.4 1257.3H526.5M510.4 1253.3v8M526.5 1253.3v8M518.4 1253.8v7M541.0 1268.9H555.4M541.0 1264.9v8M555.4 1264.9v8M548.2 1265.4v7M568.6 1241.7H581.4M568.6 1237.7v8M581.4 1237.7v8M575.0 1238.2v7" stroke="#262626" stroke-width="1.05" fill="none"/>
<polyline points="122.7,1472.4 137.6,1468.5 155.4,1463.3 179.2,1442.0 206.0,1435.5 235.8,1406.3 268.5,1392.1 304.2,1366.1 339.9,1344.8 375.6,1343.1 414.3,1306.1 450.0,1272.2 485.7,1259.9 518.4,1224.9 548.2,1235.9 575.0,1209.0" fill="none" stroke="#9e2070" stroke-width="3.2" stroke-linejoin="round"/>
<path d="M122.7 1467.4l4.2 8h-8.4z" fill="#8a1c5c" stroke="#5a0f3a" stroke-width="1"/>
<path d="M137.6 1463.5l4.2 8h-8.4z" fill="#8a1c5c" stroke="#5a0f3a" stroke-width="1"/>
<path d="M155.4 1458.3l4.2 8h-8.4z" fill="#8a1c5c" stroke="#5a0f3a" stroke-width="1"/>
<path d="M179.2 1437.0l4.2 8h-8.4z" fill="#8a1c5c" stroke="#5a0f3a" stroke-width="1"/>
<path d="M206.0 1430.5l4.2 8h-8.4z" fill="#8a1c5c" stroke="#5a0f3a" stroke-width="1"/>
<path d="M235.8 1401.3l4.2 8h-8.4z" fill="#8a1c5c" stroke="#5a0f3a" stroke-width="1"/>
<path d="M268.5 1387.1l4.2 8h-8.4z" fill="#8a1c5c" stroke="#5a0f3a" stroke-width="1"/>
<path d="M304.2 1361.1l4.2 8h-8.4z" fill="#8a1c5c" stroke="#5a0f3a" stroke-width="1"/>
<path d="M339.9 1339.8l4.2 8h-8.4z" fill="#8a1c5c" stroke="#5a0f3a" stroke-width="1"/>
<path d="M375.6 1338.1l4.2 8h-8.4z" fill="#8a1c5c" stroke="#5a0f3a" stroke-width="1"/>
<path d="M414.3 1301.1l4.2 8h-8.4z" fill="#8a1c5c" stroke="#5a0f3a" stroke-width="1"/>
<path d="M450.0 1267.2l4.2 8h-8.4z" fill="#8a1c5c" stroke="#5a0f3a" stroke-width="1"/>
<path d="M485.7 1254.9l4.2 8h-8.4z" fill="#8a1c5c" stroke="#5a0f3a" stroke-width="1"/>
<path d="M518.4 1219.9l4.2 8h-8.4z" fill="#8a1c5c" stroke="#5a0f3a" stroke-width="1"/>
<path d="M548.2 1230.9l4.2 8h-8.4z" fill="#8a1c5c" stroke="#5a0f3a" stroke-width="1"/>
<path d="M575.0 1204.0l4.2 8h-8.4z" fill="#8a1c5c" stroke="#5a0f3a" stroke-width="1"/>
<path d="M119.1 1472.4H126.3M119.1 1468.4v8M126.3 1468.4v8M122.7 1468.9v7M133.7 1468.5H141.5M133.7 1464.5v8M141.5 1464.5v8M137.6 1465.0v7M151.0 1463.3H159.9M151.0 1459.3v8M159.9 1459.3v8M155.4 1459.8v7M173.3 1442.0H185.2M173.3 1438.0v8M185.2 1438.0v8M179.2 1438.5v7M199.4 1435.5H212.6M199.4 1431.5v8M212.6 1431.5v8M206.0 1432.0v7M227.7 1406.3H243.8M227.7 1402.3v8M243.8 1402.3v8M235.8 1402.8v7M260.4 1392.1H276.6M260.4 1388.1v8M276.6 1388.1v8M268.5 1388.6v7M295.5 1366.1H312.9M295.5 1362.1v8M312.9 1362.1v8M304.2 1362.6v7M331.0 1344.8H348.9M331.0 1340.8v8M348.9 1340.8v8M339.9 1341.3v7M366.7 1343.1H384.6M366.7 1339.1v8M384.6 1339.1v8M375.6 1339.6v7M405.3 1306.1H423.3M405.3 1302.1v8M423.3 1302.1v8M414.3 1302.6v7M441.1 1272.2H459.0M441.1 1268.2v8M459.0 1268.2v8M450.0 1268.7v7M476.8 1259.9H494.7M476.8 1255.9v8M494.7 1255.9v8M485.7 1256.4v7M510.4 1224.9H526.5M510.4 1220.9v8M526.5 1220.9v8M518.4 1221.4v7M541.0 1235.9H555.4M541.0 1231.9v8M555.4 1231.9v8M548.2 1232.4v7M568.6 1209.0H581.4M568.6 1205.0v8M581.4 1205.0v8M575.0 1205.5v7" stroke="#262626" stroke-width="1.05" fill="none"/>
</g>
<rect x="94.90" y="1112.30" width="507.80" height="401.70" fill="none" stroke="#111" stroke-width="1.6"/>
<path d="M110.20 1514.00v8M169.92 1514.00v8M229.64 1514.00v8M289.36 1514.00v8M349.08 1514.00v8M408.80 1514.00v8M468.52 1514.00v8M528.24 1514.00v8M587.96 1514.00v8M140.06 1514.00v4.5M199.78 1514.00v4.5M259.50 1514.00v4.5M319.22 1514.00v4.5M378.94 1514.00v4.5M438.66 1514.00v4.5M498.38 1514.00v4.5M558.10 1514.00v4.5" stroke="#111" stroke-width="1.6" fill="none"/>
<text x="110.20" y="1547.00" font-size="24.9" text-anchor="middle">0</text>
<text x="169.92" y="1547.00" font-size="24.9" text-anchor="middle">2</text>
<text x="229.64" y="1547.00" font-size="24.9" text-anchor="middle">4</text>
<text x="289.36" y="1547.00" font-size="24.9" text-anchor="middle">6</text>
<text x="349.08" y="1547.00" font-size="24.9" text-anchor="middle">8</text>
<text x="408.80" y="1547.00" font-size="24.9" text-anchor="middle">10</text>
<text x="468.52" y="1547.00" font-size="24.9" text-anchor="middle">12</text>
<text x="528.24" y="1547.00" font-size="24.9" text-anchor="middle">14</text>
<text x="587.96" y="1547.00" font-size="24.9" text-anchor="middle">16</text>
<path d="M94.90 1507.40h-8M94.90 1442.60h-8M94.90 1377.80h-8M94.90 1313.00h-8M94.90 1248.20h-8M94.90 1183.40h-8M94.90 1118.60h-8M94.90 1475.00h-4.5M94.90 1410.20h-4.5M94.90 1345.40h-4.5M94.90 1280.60h-4.5M94.90 1215.80h-4.5M94.90 1151.00h-4.5" stroke="#111" stroke-width="1.6" fill="none"/>
<text x="81.30" y="1515.70" font-size="24.9" text-anchor="end">0.0</text>
<text x="81.30" y="1450.90" font-size="24.9" text-anchor="end">0.1</text>
<text x="81.30" y="1386.10" font-size="24.9" text-anchor="end">0.2</text>
<text x="81.30" y="1321.30" font-size="24.9" text-anchor="end">0.3</text>
<text x="81.30" y="1256.50" font-size="24.9" text-anchor="end">0.4</text>
<text x="81.30" y="1191.70" font-size="24.9" text-anchor="end">0.5</text>
<text x="81.30" y="1126.90" font-size="24.9" text-anchor="end">0.6</text>
<text x="348.80" y="1586.60" font-size="25.2" text-anchor="middle">Input fluence <tspan font-style="italic">I</tspan><tspan font-size="17" dy="6">opt,ns</tspan><tspan dy="-6"> (µJ·cm</tspan><tspan font-size="17" dy="-9">-2</tspan><tspan dy="9">)</tspan></text>
<text transform="translate(38.10 1313.15) rotate(-90)" font-size="25.2" text-anchor="middle">Gaussian amplitude (a.u.)</text>
<text x="725.0" y="1106.7" font-size="32" font-weight="bold">f</text>
<g clip-path="url(#cf)">
<polyline points="843.6,1507.4 857.6,1507.4 874.5,1507.4 897.0,1507.4 922.2,1507.4 950.3,1507.4 981.2,1507.4 1014.9,1506.1 1048.6,1500.3 1082.3,1489.4 1118.8,1475.9 1152.5,1455.8 1186.2,1428.8 1217.1,1411.2 1245.2,1385.2 1270.4,1370.7" fill="none" stroke="#1010b0" stroke-width="3.2" stroke-linejoin="round"/>
<rect x="839.8" y="1503.6" width="7.6" height="7.6" fill="none" stroke="#1010b0" stroke-width="1.3"/>
<rect x="853.8" y="1503.6" width="7.6" height="7.6" fill="none" stroke="#1010b0" stroke-width="1.3"/>
<rect x="870.7" y="1503.6" width="7.6" height="7.6" fill="none" stroke="#1010b0" stroke-width="1.3"/>
<rect x="893.2" y="1503.6" width="7.6" height="7.6" fill="none" stroke="#1010b0" stroke-width="1.3"/>
<rect x="918.4" y="1503.6" width="7.6" height="7.6" fill="none" stroke="#1010b0" stroke-width="1.3"/>
<rect x="946.5" y="1503.6" width="7.6" height="7.6" fill="none" stroke="#1010b0" stroke-width="1.3"/>
<rect x="977.4" y="1503.6" width="7.6" height="7.6" fill="none" stroke="#1010b0" stroke-width="1.3"/>
<rect x="1011.1" y="1502.3" width="7.6" height="7.6" fill="none" stroke="#1010b0" stroke-width="1.3"/>
<rect x="1044.8" y="1496.5" width="7.6" height="7.6" fill="none" stroke="#1010b0" stroke-width="1.3"/>
<rect x="1078.5" y="1485.6" width="7.6" height="7.6" fill="none" stroke="#1010b0" stroke-width="1.3"/>
<rect x="1115.0" y="1472.1" width="7.6" height="7.6" fill="none" stroke="#1010b0" stroke-width="1.3"/>
<rect x="1148.7" y="1452.0" width="7.6" height="7.6" fill="none" stroke="#1010b0" stroke-width="1.3"/>
<rect x="1182.4" y="1425.0" width="7.6" height="7.6" fill="none" stroke="#1010b0" stroke-width="1.3"/>
<rect x="1213.3" y="1407.4" width="7.6" height="7.6" fill="none" stroke="#1010b0" stroke-width="1.3"/>
<rect x="1241.4" y="1381.4" width="7.6" height="7.6" fill="none" stroke="#1010b0" stroke-width="1.3"/>
<rect x="1266.6" y="1366.9" width="7.6" height="7.6" fill="none" stroke="#1010b0" stroke-width="1.3"/>
<path d="M840.2 1507.4H847.0M840.2 1503.4v8M847.0 1503.4v8M843.6 1503.9v7M854.0 1507.4H861.3M854.0 1503.4v8M861.3 1503.4v8M857.6 1503.9v7M870.3 1507.4H878.7M870.3 1503.4v8M878.7 1503.4v8M874.5 1503.9v7M891.3 1507.4H902.6M891.3 1503.4v8M902.6 1503.4v8M897.0 1503.9v7M916.0 1507.4H928.4M916.0 1503.4v8M928.4 1503.4v8M922.2 1503.9v7M942.7 1507.4H957.9M942.7 1503.4v8M957.9 1503.4v8M950.3 1503.9v7M973.6 1507.4H988.8M973.6 1503.4v8M988.8 1503.4v8M981.2 1503.9v7M1006.7 1506.1H1023.1M1006.7 1502.1v8M1023.1 1502.1v8M1014.9 1502.6v7M1040.1 1500.3H1057.0M1040.1 1496.3v8M1057.0 1496.3v8M1048.6 1496.8v7M1073.8 1489.4H1090.7M1073.8 1485.4v8M1090.7 1485.4v8M1082.3 1485.9v7M1110.3 1475.9H1127.2M1110.3 1471.9v8M1127.2 1471.9v8M1118.8 1472.4v7M1144.0 1455.8H1160.9M1144.0 1451.8v8M1160.9 1451.8v8M1152.5 1452.3v7M1177.7 1428.8H1194.6M1177.7 1424.8v8M1194.6 1424.8v8M1186.2 1425.3v7M1209.5 1411.2H1224.7M1209.5 1407.2v8M1224.7 1407.2v8M1217.1 1407.7v7M1238.4 1385.2H1251.9M1238.4 1381.2v8M1251.9 1381.2v8M1245.2 1381.7v7M1264.4 1370.7H1276.5M1264.4 1366.7v8M1276.5 1366.7v8M1270.4 1367.2v7" stroke="#262626" stroke-width="1.05" fill="none"/>
<polyline points="877.4,1507.4 891.5,1507.4 908.3,1507.4 930.8,1507.4 956.0,1507.4 984.1,1506.8 1015.0,1504.2 1048.7,1497.0 1082.4,1486.9 1116.1,1475.9 1152.6,1463.5 1186.3,1427.2 1220.0,1409.6 1250.9,1388.2 1279.0,1365.5 1304.2,1341.0" fill="none" stroke="#9e2070" stroke-width="3.2" stroke-linejoin="round"/>
<circle cx="877.4" cy="1507.4" r="4" fill="none" stroke="#7a1550" stroke-width="1.2"/>
<circle cx="891.5" cy="1507.4" r="4" fill="none" stroke="#7a1550" stroke-width="1.2"/>
<circle cx="908.3" cy="1507.4" r="4" fill="none" stroke="#7a1550" stroke-width="1.2"/>
<circle cx="930.8" cy="1507.4" r="4" fill="none" stroke="#7a1550" stroke-width="1.2"/>
<circle cx="956.0" cy="1507.4" r="4" fill="none" stroke="#7a1550" stroke-width="1.2"/>
<circle cx="984.1" cy="1506.8" r="4" fill="none" stroke="#7a1550" stroke-width="1.2"/>
<circle cx="1015.0" cy="1504.2" r="4" fill="none" stroke="#7a1550" stroke-width="1.2"/>
<circle cx="1048.7" cy="1497.0" r="4" fill="none" stroke="#7a1550" stroke-width="1.2"/>
<circle cx="1082.4" cy="1486.9" r="4" fill="none" stroke="#7a1550" stroke-width="1.2"/>
<circle cx="1116.1" cy="1475.9" r="4" fill="none" stroke="#7a1550" stroke-width="1.2"/>
<circle cx="1152.6" cy="1463.5" r="4" fill="none" stroke="#7a1550" stroke-width="1.2"/>
<circle cx="1186.3" cy="1427.2" r="4" fill="none" stroke="#7a1550" stroke-width="1.2"/>
<circle cx="1220.0" cy="1409.6" r="4" fill="none" stroke="#7a1550" stroke-width="1.2"/>
<circle cx="1250.9" cy="1388.2" r="4" fill="none" stroke="#7a1550" stroke-width="1.2"/>
<circle cx="1279.0" cy="1365.5" r="4" fill="none" stroke="#7a1550" stroke-width="1.2"/>
<circle cx="1304.2" cy="1341.0" r="4" fill="none" stroke="#7a1550" stroke-width="1.2"/>
<path d="M874.0 1507.4H880.8M874.0 1503.4v8M880.8 1503.4v8M877.4 1503.9v7M887.8 1507.4H895.1M887.8 1503.4v8M895.1 1503.4v8M891.5 1503.9v7M904.1 1507.4H912.5M904.1 1503.4v8M912.5 1503.4v8M908.3 1503.9v7M925.1 1507.4H936.4M925.1 1503.4v8M936.4 1503.4v8M930.8 1503.9v7M949.8 1507.4H962.2M949.8 1503.4v8M962.2 1503.4v8M956.0 1503.9v7M976.5 1506.8H991.7M976.5 1502.8v8M991.7 1502.8v8M984.1 1503.3v7M1007.4 1504.2H1022.6M1007.4 1500.2v8M1022.6 1500.2v8M1015.0 1500.7v7M1040.5 1497.0H1056.9M1040.5 1493.0v8M1056.9 1493.0v8M1048.7 1493.5v7M1074.0 1486.9H1090.9M1074.0 1482.9v8M1090.9 1482.9v8M1082.4 1483.4v7M1107.6 1475.9H1124.6M1107.6 1471.9v8M1124.6 1471.9v8M1116.1 1472.4v7M1144.2 1463.5H1161.1M1144.2 1459.5v8M1161.1 1459.5v8M1152.6 1460.0v7M1177.9 1427.2H1194.8M1177.9 1423.2v8M1194.8 1423.2v8M1186.3 1423.7v7M1211.6 1409.6H1228.5M1211.6 1405.6v8M1228.5 1405.6v8M1220.0 1406.1v7M1243.3 1388.2H1258.5M1243.3 1384.2v8M1258.5 1384.2v8M1250.9 1384.7v7M1272.2 1365.5H1285.7M1272.2 1361.5v8M1285.7 1361.5v8M1279.0 1362.0v7M1298.2 1341.0H1310.3M1298.2 1337.0v8M1310.3 1337.0v8M1304.2 1337.5v7" stroke="#262626" stroke-width="1.05" fill="none"/>
<polyline points="843.6,1507.4 857.6,1506.1 874.5,1501.6 897.0,1485.4 922.2,1464.6 950.3,1443.2 981.2,1422.5 1014.9,1399.8 1048.6,1380.4 1082.3,1358.1 1118.8,1332.1 1152.5,1312.5 1186.2,1293.1 1217.1,1280.1 1245.2,1262.5 1270.4,1248.0" fill="none" stroke="#1010b0" stroke-width="3.2" stroke-linejoin="round"/>
<rect x="839.8" y="1503.6" width="7.6" height="7.6" fill="#1010b0" stroke="#1010b0" stroke-width="1.3"/>
<rect x="853.8" y="1502.3" width="7.6" height="7.6" fill="#1010b0" stroke="#1010b0" stroke-width="1.3"/>
<rect x="870.7" y="1497.8" width="7.6" height="7.6" fill="#1010b0" stroke="#1010b0" stroke-width="1.3"/>
<rect x="893.2" y="1481.6" width="7.6" height="7.6" fill="#1010b0" stroke="#1010b0" stroke-width="1.3"/>
<rect x="918.4" y="1460.8" width="7.6" height="7.6" fill="#1010b0" stroke="#1010b0" stroke-width="1.3"/>
<rect x="946.5" y="1439.4" width="7.6" height="7.6" fill="#1010b0" stroke="#1010b0" stroke-width="1.3"/>
<rect x="977.4" y="1418.7" width="7.6" height="7.6" fill="#1010b0" stroke="#1010b0" stroke-width="1.3"/>
<rect x="1011.1" y="1396.0" width="7.6" height="7.6" fill="#1010b0" stroke="#1010b0" stroke-width="1.3"/>
<rect x="1044.8" y="1376.6" width="7.6" height="7.6" fill="#1010b0" stroke="#1010b0" stroke-width="1.3"/>
<rect x="1078.5" y="1354.3" width="7.6" height="7.6" fill="#1010b0" stroke="#1010b0" stroke-width="1.3"/>
<rect x="1115.0" y="1328.3" width="7.6" height="7.6" fill="#1010b0" stroke="#1010b0" stroke-width="1.3"/>
<rect x="1148.7" y="1308.7" width="7.6" height="7.6" fill="#1010b0" stroke="#1010b0" stroke-width="1.3"/>
<rect x="1182.4" y="1289.3" width="7.6" height="7.6" fill="#1010b0" stroke="#1010b0" stroke-width="1.3"/>
<rect x="1213.3" y="1276.3" width="7.6" height="7.6" fill="#1010b0" stroke="#1010b0" stroke-width="1.3"/>
<rect x="1241.4" y="1258.7" width="7.6" height="7.6" fill="#1010b0" stroke="#1010b0" stroke-width="1.3"/>
<rect x="1266.6" y="1244.2" width="7.6" height="7.6" fill="#1010b0" stroke="#1010b0" stroke-width="1.3"/>
<path d="M840.2 1507.4H847.0M840.2 1503.4v8M847.0 1503.4v8M843.6 1503.9v7M854.0 1506.1H861.3M854.0 1502.1v8M861.3 1502.1v8M857.6 1502.6v7M870.3 1501.6H878.7M870.3 1497.6v8M878.7 1497.6v8M874.5 1498.1v7M891.3 1485.4H902.6M891.3 1481.4v8M902.6 1481.4v8M897.0 1481.9v7M916.0 1464.6H928.4M916.0 1460.6v8M928.4 1460.6v8M922.2 1461.1v7M942.7 1443.2H957.9M942.7 1439.2v8M957.9 1439.2v8M950.3 1439.7v7M973.6 1422.5H988.8M973.6 1418.5v8M988.8 1418.5v8M981.2 1419.0v7M1006.7 1399.8H1023.1M1006.7 1395.8v8M1023.1 1395.8v8M1014.9 1396.3v7M1040.1 1380.4H1057.0M1040.1 1376.4v8M1057.0 1376.4v8M1048.6 1376.9v7M1073.8 1358.1H1090.7M1073.8 1354.1v8M1090.7 1354.1v8M1082.3 1354.6v7M1110.3 1332.1H1127.2M1110.3 1328.1v8M1127.2 1328.1v8M1118.8 1328.6v7M1144.0 1312.5H1160.9M1144.0 1308.5v8M1160.9 1308.5v8M1152.5 1309.0v7M1177.7 1293.1H1194.6M1177.7 1289.1v8M1194.6 1289.1v8M1186.2 1289.6v7M1209.5 1280.1H1224.7M1209.5 1276.1v8M1224.7 1276.1v8M1217.1 1276.6v7M1238.4 1262.5H1251.9M1238.4 1258.5v8M1251.9 1258.5v8M1245.2 1259.0v7M1264.4 1248.0H1276.5M1264.4 1244.0v8M1276.5 1244.0v8M1270.4 1244.5v7" stroke="#262626" stroke-width="1.05" fill="none"/>
<polyline points="877.4,1472.4 891.5,1468.5 908.3,1463.3 930.8,1442.0 956.0,1435.5 984.1,1406.3 1015.0,1392.1 1048.7,1366.1 1082.4,1344.8 1116.1,1343.1 1152.6,1306.1 1186.3,1272.2 1220.0,1259.9 1250.9,1224.9 1279.0,1235.9 1304.2,1209.0" fill="none" stroke="#9e2070" stroke-width="3.2" stroke-linejoin="round"/>
<path d="M877.4 1467.4l4.2 8h-8.4z" fill="#8a1c5c" stroke="#5a0f3a" stroke-width="1"/>
<path d="M891.5 1463.5l4.2 8h-8.4z" fill="#8a1c5c" stroke="#5a0f3a" stroke-width="1"/>
<path d="M908.3 1458.3l4.2 8h-8.4z" fill="#8a1c5c" stroke="#5a0f3a" stroke-width="1"/>
<path d="M930.8 1437.0l4.2 8h-8.4z" fill="#8a1c5c" stroke="#5a0f3a" stroke-width="1"/>
<path d="M956.0 1430.5l4.2 8h-8.4z" fill="#8a1c5c" stroke="#5a0f3a" stroke-width="1"/>
<path d="M984.1 1401.3l4.2 8h-8.4z" fill="#8a1c5c" stroke="#5a0f3a" stroke-width="1"/>
<path d="M1015.0 1387.1l4.2 8h-8.4z" fill="#8a1c5c" stroke="#5a0f3a" stroke-width="1"/>
<path d="M1048.7 1361.1l4.2 8h-8.4z" fill="#8a1c5c" stroke="#5a0f3a" stroke-width="1"/>
<path d="M1082.4 1339.8l4.2 8h-8.4z" fill="#8a1c5c" stroke="#5a0f3a" stroke-width="1"/>
<path d="M1116.1 1338.1l4.2 8h-8.4z" fill="#8a1c5c" stroke="#5a0f3a" stroke-width="1"/>
<path d="M1152.6 1301.1l4.2 8h-8.4z" fill="#8a1c5c" stroke="#5a0f3a" stroke-width="1"/>
<path d="M1186.3 1267.2l4.2 8h-8.4z" fill="#8a1c5c" stroke="#5a0f3a" stroke-width="1"/>
<path d="M1220.0 1254.9l4.2 8h-8.4z" fill="#8a1c5c" stroke="#5a0f3a" stroke-width="1"/>
<path d="M1250.9 1219.9l4.2 8h-8.4z" fill="#8a1c5c" stroke="#5a0f3a" stroke-width="1"/>
<path d="M1279.0 1230.9l4.2 8h-8.4z" fill="#8a1c5c" stroke="#5a0f3a" stroke-width="1"/>
<path d="M1304.2 1204.0l4.2 8h-8.4z" fill="#8a1c5c" stroke="#5a0f3a" stroke-width="1"/>
<path d="M874.0 1472.4H880.8M874.0 1468.4v8M880.8 1468.4v8M877.4 1468.9v7M887.8 1468.5H895.1M887.8 1464.5v8M895.1 1464.5v8M891.5 1465.0v7M904.1 1463.3H912.5M904.1 1459.3v8M912.5 1459.3v8M908.3 1459.8v7M925.1 1442.0H936.4M925.1 1438.0v8M936.4 1438.0v8M930.8 1438.5v7M949.8 1435.5H962.2M949.8 1431.5v8M962.2 1431.5v8M956.0 1432.0v7M976.5 1406.3H991.7M976.5 1402.3v8M991.7 1402.3v8M984.1 1402.8v7M1007.4 1392.1H1022.6M1007.4 1388.1v8M1022.6 1388.1v8M1015.0 1388.6v7M1040.5 1366.1H1056.9M1040.5 1362.1v8M1056.9 1362.1v8M1048.7 1362.6v7M1074.0 1344.8H1090.9M1074.0 1340.8v8M1090.9 1340.8v8M1082.4 1341.3v7M1107.6 1343.1H1124.6M1107.6 1339.1v8M1124.6 1339.1v8M1116.1 1339.6v7M1144.2 1306.1H1161.1M1144.2 1302.1v8M1161.1 1302.1v8M1152.6 1302.6v7M1177.9 1272.2H1194.8M1177.9 1268.2v8M1194.8 1268.2v8M1186.3 1268.7v7M1211.6 1259.9H1228.5M1211.6 1255.9v8M1228.5 1255.9v8M1220.0 1256.4v7M1243.3 1224.9H1258.5M1243.3 1220.9v8M1258.5 1220.9v8M1250.9 1221.4v7M1272.2 1235.9H1285.7M1272.2 1231.9v8M1285.7 1231.9v8M1279.0 1232.4v7M1298.2 1209.0H1310.3M1298.2 1205.0v8M1310.3 1205.0v8M1304.2 1205.5v7" stroke="#262626" stroke-width="1.05" fill="none"/>
</g>
<rect x="817.90" y="1112.30" width="507.40" height="401.70" fill="none" stroke="#111" stroke-width="1.6"/>
<path d="M831.80 1514.00v8M888.16 1514.00v8M944.52 1514.00v8M1000.88 1514.00v8M1057.24 1514.00v8M1113.60 1514.00v8M1169.96 1514.00v8M1226.32 1514.00v8M1282.68 1514.00v8M859.98 1514.00v4.5M916.34 1514.00v4.5M972.70 1514.00v4.5M1029.06 1514.00v4.5M1085.42 1514.00v4.5M1141.78 1514.00v4.5M1198.14 1514.00v4.5M1254.50 1514.00v4.5M1310.86 1514.00v4.5" stroke="#111" stroke-width="1.6" fill="none"/>
<text x="831.80" y="1547.00" font-size="24.9" text-anchor="middle">0</text>
<text x="888.16" y="1547.00" font-size="24.9" text-anchor="middle">2</text>
<text x="944.52" y="1547.00" font-size="24.9" text-anchor="middle">4</text>
<text x="1000.88" y="1547.00" font-size="24.9" text-anchor="middle">6</text>
<text x="1057.24" y="1547.00" font-size="24.9" text-anchor="middle">8</text>
<text x="1113.60" y="1547.00" font-size="24.9" text-anchor="middle">10</text>
<text x="1169.96" y="1547.00" font-size="24.9" text-anchor="middle">12</text>
<text x="1226.32" y="1547.00" font-size="24.9" text-anchor="middle">14</text>
<text x="1282.68" y="1547.00" font-size="24.9" text-anchor="middle">16</text>
<path d="M817.90 1507.40h-8M817.90 1442.60h-8M817.90 1377.80h-8M817.90 1313.00h-8M817.90 1248.20h-8M817.90 1183.40h-8M817.90 1118.60h-8M817.90 1475.00h-4.5M817.90 1410.20h-4.5M817.90 1345.40h-4.5M817.90 1280.60h-4.5M817.90 1215.80h-4.5M817.90 1151.00h-4.5" stroke="#111" stroke-width="1.6" fill="none"/>
<text x="804.30" y="1515.70" font-size="24.9" text-anchor="end">0.0</text>
<text x="804.30" y="1450.90" font-size="24.9" text-anchor="end">0.1</text>
<text x="804.30" y="1386.10" font-size="24.9" text-anchor="end">0.2</text>
<text x="804.30" y="1321.30" font-size="24.9" text-anchor="end">0.3</text>
<text x="804.30" y="1256.50" font-size="24.9" text-anchor="end">0.4</text>
<text x="804.30" y="1191.70" font-size="24.9" text-anchor="end">0.5</text>
<text x="804.30" y="1126.90" font-size="24.9" text-anchor="end">0.6</text>
<text x="1071.60" y="1586.60" font-size="25.2" text-anchor="middle">Input fluence <tspan font-style="italic">I</tspan><tspan font-size="17" dy="6">opt,ns</tspan><tspan dy="-6"> (µJ·cm</tspan><tspan font-size="17" dy="-9">-2</tspan><tspan dy="9">)</tspan></text>
<text transform="translate(761.10 1313.15) rotate(-90)" font-size="25.2" text-anchor="middle">Gaussian amplitude (a.u.)</text>
<path d="M109.0 1136.0H158.3" stroke="#1010b0" stroke-width="3.2"/>
<path d="M109.0 1166.4H158.3" stroke="#9e2070" stroke-width="3.2"/>
<text x="168.3" y="1142.8" font-size="21.3">1 - before V<tspan font-size="13" dy="5">p</tspan></text>
<text x="168.3" y="1173.2" font-size="21.3">2 - w/ V<tspan font-size="13" dy="5">p</tspan><tspan dy="-5"> (start)</tspan></text>
<path d="M832.1 1136.5H880.5" stroke="#1010b0" stroke-width="3.2"/>
<path d="M832.1 1168.6H880.5" stroke="#9e2070" stroke-width="3.2"/>
<text x="890.5" y="1143.3" font-size="21.3">1 - before V<tspan font-size="13" dy="5">p</tspan></text>
<text x="890.5" y="1175.4" font-size="21.3">2 - w/ V<tspan font-size="13" dy="5">p</tspan><tspan dy="-5"> (start), right-shifted by 1.2 µJ·cm</tspan><tspan font-size="13" dy="-8">-2</tspan></text>
<text x="224.9" y="1291.6" font-size="21.3" text-anchor="start">SE (PL) + SE (EL)*</text>
<text x="482.0" y="1322.0" font-size="21.3" text-anchor="start">SE (PL)</text>
<text x="497.5" y="1359.7" font-size="21.3" text-anchor="start">ASE</text>
<text x="449.0" y="1498.8" font-size="21.3" text-anchor="start">SE (EL)*, const</text>
<ellipse cx="518.2" cy="1268.1" rx="14.2" ry="33" fill="none" stroke="#111" stroke-width="1.8"/>
<ellipse cx="518.3" cy="1399.8" rx="14" ry="32.7" fill="none" stroke="#111" stroke-width="1.8"/>
<path d="M462.6 1285.4 Q440 1296 418 1290" fill="none" stroke="#111" stroke-width="1.5"/>
<path d="M408.3 1286.3 L421.5 1287.8 L418.2 1294.2 Z" fill="#111"/>
<text x="954.2" y="1287.7" font-size="21.3" text-anchor="start">SE (PL) + SE (EL)*</text>
<text x="1231.5" y="1307.1" font-size="21.3" text-anchor="start">SE (PL)</text>
<text x="1229.0" y="1352.0" font-size="21.3" text-anchor="start">ASE</text>
<ellipse cx="1249.2" cy="1389" rx="14" ry="32.8" fill="none" stroke="#111" stroke-width="1.8"/>
<path d="M1190 1280.1 Q1168 1291 1148 1286" fill="none" stroke="#111" stroke-width="1.5"/>
<path d="M1138.6 1280.9 L1151.2 1283.6 L1148.4 1290.2 Z" fill="#111"/>
<path d="M1202.6 1275.6 Q1205 1297 1222 1298.6" fill="none" stroke="#111" stroke-width="1.5"/>
<path d="M1229.6 1298.4 L1219.6 1294.4 L1220.4 1302.6 Z" fill="#111"/>
</svg></body></html>
